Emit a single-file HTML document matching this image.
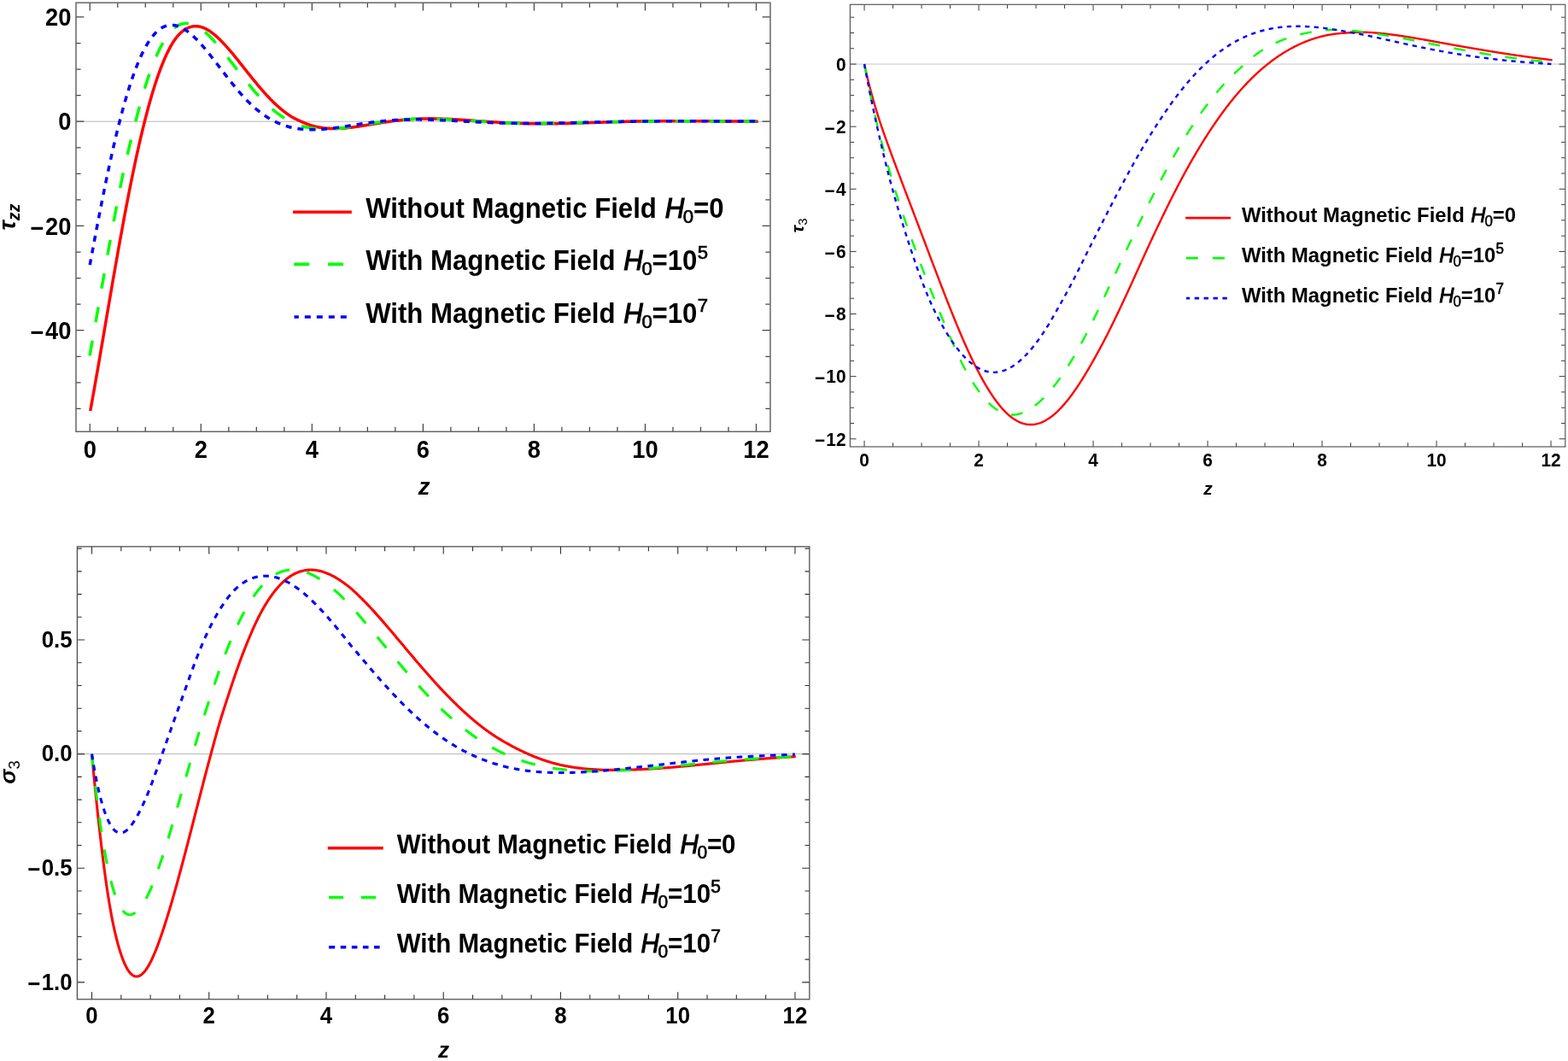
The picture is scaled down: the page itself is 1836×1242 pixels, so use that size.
<!DOCTYPE html>
<html lang="en">
<head>
<meta charset="utf-8">
<title>Stress distributions with and without magnetic field</title>
<style>
html,body{margin:0;padding:0;background:#fff;}
body{width:1836px;height:1242px;overflow:hidden;}
svg{display:block;font-family:'Liberation Sans', Arial, Helvetica, sans-serif;}
</style>
</head>
<body>
<svg xmlns="http://www.w3.org/2000/svg" width="1836" height="1242" viewBox="0 0 1836 1242">
<rect width="1836" height="1242" fill="#fff"/>
<g>
<line x1="89" y1="142.2" x2="901.96" y2="142.2" stroke="#b4b4b4" stroke-width="1"/>
<g fill="none" stroke-width="3.5" stroke-linejoin="round">
<path d="M105.75,480.97 L105.92,479.99 L106.1,479.01 L106.28,478.02 L106.46,477.04 L106.64,476.06 L106.82,475.07 L107,474.09 L107.17,473.1 L107.35,472.12 L107.53,471.13 L107.7,470.15 L107.88,469.17 L108.06,468.18 L108.23,467.2 L108.41,466.21 L108.59,465.23 L108.76,464.24 L108.94,463.26 L109.11,462.27 L109.29,461.29 L109.47,460.31 L109.64,459.32 L109.81,458.34 L109.99,457.35 L110.16,456.37 L110.34,455.38 L110.51,454.4 L110.69,453.41 L110.86,452.43 L111.03,451.44 L111.21,450.46 L111.38,449.47 L111.55,448.49 L111.73,447.5 L111.9,446.52 L112.07,445.54 L112.25,444.55 L112.42,443.56 L112.59,442.58 L112.76,441.59 L112.93,440.61 L113.11,439.62 L113.28,438.64 L113.45,437.65 L113.62,436.67 L113.79,435.68 L113.97,434.7 L114.14,433.71 L114.31,432.73 L114.48,431.74 L114.65,430.76 L114.82,429.77 L114.99,428.79 L115.16,427.8 L115.33,426.82 L115.5,425.83 L115.67,424.85 L115.84,423.86 L116.01,422.88 L116.18,421.89 L116.36,420.9 L116.53,419.92 L116.69,418.93 L116.86,417.95 L117.03,416.96 L117.2,415.98 L117.37,414.99 L117.54,414.01 L117.71,413.02 L117.88,412.04 L118.05,411.05 L118.22,410.06 L118.39,409.08 L118.56,408.09 L118.73,407.11 L118.9,406.12 L119.07,405.14 L119.24,404.15 L119.41,403.16 L119.57,402.18 L119.74,401.19 L119.91,400.21 L120.08,399.22 L120.25,398.24 L120.42,397.25 L120.59,396.26 L120.76,395.28 L120.92,394.29 L121.09,393.31 L121.26,392.32 L121.43,391.34 L121.6,390.35 L121.77,389.37 L121.94,388.38 L122.11,387.39 L122.27,386.41 L122.44,385.42 L122.61,384.44 L122.78,383.45 L122.95,382.46 L123.12,381.48 L123.28,380.49 L123.45,379.51 L123.62,378.52 L123.79,377.54 L123.96,376.55 L124.13,375.56 L124.3,374.58 L124.46,373.59 L124.63,372.61 L124.8,371.62 L124.97,370.64 L125.14,369.65 L125.31,368.67 L125.48,367.68 L125.64,366.69 L125.81,365.71 L125.98,364.72 L126.15,363.74 L126.32,362.75 L126.49,361.77 L126.66,360.78 L126.83,359.8 L127,358.81 L127.16,357.82 L127.33,356.84 L127.5,355.85 L127.67,354.87 L127.84,353.88 L128.01,352.9 L128.18,351.91 L128.35,350.92 L128.52,349.94 L128.69,348.95 L128.86,347.97 L129.03,346.98 L129.2,346 L129.37,345.01 L129.53,344.03 L129.71,343.04 L129.88,342.06 L130.04,341.07 L130.21,340.08 L130.38,339.1 L130.56,338.11 L130.72,337.13 L130.9,336.14 L131.06,335.16 L131.24,334.17 L131.41,333.19 L131.58,332.2 L131.75,331.21 L131.92,330.23 L132.09,329.25 L132.26,328.26 L132.43,327.27 L132.6,326.29 L132.77,325.3 L132.94,324.32 L133.12,323.33 L133.29,322.35 L133.46,321.36 L133.63,320.38 L133.8,319.39 L133.98,318.41 L134.15,317.42 L134.32,316.44 L134.49,315.45 L134.67,314.47 L134.84,313.48 L135.01,312.5 L135.18,311.51 L135.36,310.53 L135.53,309.54 L135.7,308.56 L135.88,307.57 L136.05,306.59 L136.22,305.6 L136.4,304.62 L136.57,303.63 L136.75,302.65 L136.92,301.67 L137.09,300.68 L137.27,299.69 L137.44,298.71 L137.62,297.73 L137.79,296.74 L137.97,295.76 L138.14,294.77 L138.32,293.79 L138.5,292.8 L138.67,291.82 L138.85,290.83 L139.02,289.85 L139.2,288.87 L139.38,287.88 L139.55,286.9 L139.73,285.91 L139.91,284.93 L140.08,283.94 L140.26,282.96 L140.44,281.98 L140.62,280.99 L140.79,280.01 L140.97,279.02 L141.15,278.04 L141.33,277.06 L141.51,276.07 L141.69,275.09 L141.87,274.11 L142.05,273.12 L142.23,272.14 L142.41,271.15 L142.59,270.17 L142.77,269.19 L142.95,268.2 L143.13,267.22 L143.31,266.24 L143.49,265.25 L143.67,264.27 L143.85,263.29 L144.03,262.3 L144.22,261.32 L144.4,260.34 L144.58,259.35 L144.76,258.37 L144.95,257.39 L145.13,256.4 L145.31,255.42 L145.5,254.44 L145.68,253.46 L145.87,252.47 L146.05,251.49 L146.24,250.51 L146.42,249.52 L146.61,248.54 L146.79,247.56 L146.98,246.58 L147.17,245.59 L147.35,244.61 L147.54,243.63 L147.73,242.65 L147.91,241.66 L148.1,240.68 L148.29,239.7 L148.48,238.72 L148.67,237.74 L148.86,236.75 L149.05,235.77 L149.24,234.79 L149.43,233.81 L149.62,232.83 L149.81,231.84 L150,230.86 L150.19,229.88 L150.38,228.9 L150.57,227.92 L150.77,226.94 L150.96,225.96 L151.15,224.97 L151.35,223.99 L151.54,223.01 L151.73,222.03 L151.93,221.05 L152.12,220.07 L152.32,219.09 L152.51,218.11 L152.71,217.13 L152.91,216.15 L153.1,215.17 L153.3,214.19 L153.5,213.21 L153.7,212.23 L153.9,211.25 L154.1,210.27 L154.29,209.29 L154.5,208.31 L154.69,207.33 L154.9,206.35 L155.1,205.37 L155.3,204.39 L155.5,203.41 L155.7,202.43 L155.91,201.45 L156.11,200.47 L156.31,199.49 L156.52,198.51 L156.72,197.53 L156.93,196.56 L157.13,195.58 L157.34,194.6 L157.55,193.62 L157.75,192.64 L157.96,191.66 L158.17,190.69 L158.38,189.71 L158.59,188.73 L158.8,187.75 L159.01,186.78 L159.22,185.8 L159.43,184.82 L159.65,183.84 L159.86,182.87 L160.07,181.89 L160.29,180.91 L160.5,179.94 L160.72,178.96 L160.93,177.98 L161.15,177.01 L161.36,176.03 L161.58,175.05 L161.8,174.08 L162.02,173.1 L162.24,172.13 L162.46,171.15 L162.68,170.18 L162.9,169.2 L163.12,168.23 L163.35,167.25 L163.57,166.28 L163.79,165.3 L164.02,164.33 L164.24,163.35 L164.47,162.38 L164.7,161.41 L164.93,160.43 L165.15,159.46 L165.38,158.49 L165.61,157.51 L165.84,156.54 L166.08,155.57 L166.31,154.59 L166.54,153.62 L166.78,152.65 L167.01,151.68 L167.25,150.71 L167.48,149.73 L167.72,148.76 L167.96,147.79 L168.2,146.82 L168.44,145.85 L168.68,144.88 L168.92,143.91 L169.17,142.94 L169.41,141.97 L169.66,141 L169.9,140.03 L170.15,139.06 L170.4,138.09 L170.65,137.12 L170.9,136.16 L171.15,135.19 L171.4,134.22 L171.65,133.25 L171.91,132.29 L172.16,131.32 L172.42,130.35 L172.68,129.39 L172.94,128.42 L173.19,127.45 L173.46,126.49 L173.72,125.52 L173.98,124.56 L174.25,123.59 L174.51,122.63 L174.78,121.67 L175.05,120.7 L175.32,119.74 L175.59,118.78 L175.87,117.82 L176.14,116.86 L176.41,115.89 L176.69,114.93 L176.97,113.97 L177.25,113.01 L177.53,112.05 L177.82,111.09 L178.1,110.14 L178.39,109.18 L178.68,108.22 L178.96,107.26 L179.26,106.31 L179.55,105.35 L179.84,104.39 L180.14,103.44 L180.44,102.49 L180.74,101.53 L181.04,100.58 L181.35,99.63 L181.65,98.67 L181.96,97.72 L182.27,96.77 L182.58,95.82 L182.9,94.87 L183.21,93.92 L183.53,92.98 L183.85,92.03 L184.18,91.08 L184.5,90.14 L184.83,89.19 L185.16,88.25 L185.49,87.31 L185.83,86.36 L186.17,85.42 L186.51,84.48 L186.85,83.54 L187.2,82.61 L187.55,81.67 L187.9,80.73 L188.25,79.8 L188.61,78.86 L188.97,77.93 L189.34,77 L189.71,76.07 L190.08,75.14 L190.45,74.22 L190.83,73.29 L191.21,72.36 L191.6,71.44 L191.99,70.52 L192.38,69.6 L192.78,68.69 L193.18,67.77 L193.59,66.86 L194,65.94 L194.41,65.03 L194.83,64.13 L195.26,63.22 L195.69,62.32 L196.12,61.42 L196.56,60.52 L197.01,59.62 L197.46,58.73 L197.92,57.84 L198.38,56.96 L198.85,56.08 L199.33,55.2 L199.81,54.32 L200.3,53.45 L200.8,52.58 L201.31,51.72 L201.82,50.86 L202.34,50.01 L202.88,49.16 L203.43,48.33 L203.99,47.5 L204.56,46.68 L205.14,45.86 L205.73,45.06 L206.34,44.27 L206.96,43.48 L207.6,42.71 L208.24,41.95 L208.91,41.2 L209.59,40.47 L210.28,39.74 L210.99,39.04 L211.72,38.35 L212.46,37.68 L213.22,37.03 L213.99,36.4 L214.79,35.8 L215.6,35.21 L216.43,34.65 L217.28,34.12 L218.15,33.63 L219.03,33.16 L219.93,32.73 L220.85,32.33 L221.78,31.97 L222.73,31.65 L223.69,31.38 L224.66,31.15 L225.65,30.96 L226.64,30.82 L227.63,30.72 L228.63,30.67 L229.63,30.66 L230.63,30.7 L231.63,30.8 L232.62,30.93 L233.6,31.11 L234.58,31.33 L235.54,31.59 L236.5,31.89 L237.44,32.22 L238.37,32.58 L239.29,32.97 L240.2,33.39 L241.1,33.83 L241.98,34.3 L242.85,34.79 L243.72,35.3 L244.57,35.82 L245.41,36.37 L246.23,36.92 L247.05,37.5 L247.86,38.09 L248.66,38.69 L249.45,39.3 L250.24,39.92 L251.01,40.55 L251.78,41.2 L252.53,41.85 L253.29,42.51 L254.03,43.17 L254.77,43.84 L255.51,44.52 L256.23,45.21 L256.95,45.91 L257.67,46.6 L258.38,47.31 L259.09,48.02 L259.79,48.73 L260.48,49.45 L261.17,50.17 L261.86,50.9 L262.54,51.63 L263.22,52.36 L263.9,53.1 L264.57,53.84 L265.24,54.59 L265.9,55.33 L266.56,56.08 L267.22,56.84 L267.88,57.59 L268.53,58.35 L269.18,59.11 L269.83,59.87 L270.48,60.63 L271.12,61.4 L271.76,62.16 L272.4,62.93 L273.04,63.7 L273.67,64.47 L274.31,65.25 L274.94,66.02 L275.57,66.8 L276.2,67.58 L276.83,68.35 L277.45,69.13 L278.08,69.91 L278.7,70.69 L279.33,71.47 L279.95,72.26 L280.58,73.04 L281.2,73.82 L281.82,74.6 L282.44,75.39 L283.06,76.17 L283.69,76.95 L284.31,77.74 L284.93,78.52 L285.55,79.31 L286.17,80.09 L286.79,80.88 L287.41,81.66 L288.03,82.44 L288.65,83.23 L289.27,84.01 L289.89,84.79 L290.52,85.58 L291.14,86.36 L291.77,87.14 L292.39,87.92 L293.01,88.7 L293.64,89.48 L294.26,90.26 L294.89,91.04 L295.52,91.82 L296.15,92.59 L296.78,93.37 L297.41,94.15 L298.04,94.92 L298.68,95.7 L299.31,96.47 L299.95,97.24 L300.58,98.01 L301.22,98.78 L301.86,99.55 L302.5,100.32 L303.15,101.08 L303.79,101.84 L304.44,102.61 L305.09,103.37 L305.74,104.13 L306.4,104.88 L307.05,105.64 L307.71,106.39 L308.37,107.14 L309.03,107.89 L309.7,108.64 L310.37,109.38 L311.04,110.12 L311.71,110.86 L312.39,111.6 L313.06,112.33 L313.75,113.06 L314.43,113.79 L315.12,114.52 L315.81,115.24 L316.51,115.96 L317.21,116.67 L317.91,117.39 L318.62,118.09 L319.32,118.8 L320.04,119.5 L320.75,120.2 L321.48,120.89 L322.2,121.58 L322.93,122.26 L323.67,122.94 L324.4,123.61 L325.15,124.28 L325.89,124.95 L326.65,125.61 L327.4,126.26 L328.17,126.91 L328.93,127.55 L329.7,128.19 L330.48,128.82 L331.26,129.44 L332.05,130.06 L332.84,130.68 L333.63,131.28 L334.43,131.88 L335.24,132.47 L336.05,133.06 L336.87,133.63 L337.69,134.2 L338.52,134.76 L339.35,135.32 L340.19,135.86 L341.04,136.39 L341.89,136.91 L342.76,137.41 L343.63,137.9 L344.51,138.38 L345.39,138.85 L346.28,139.3 L347.18,139.75 L348.07,140.19 L348.98,140.62 L349.88,141.04 L350.79,141.45 L351.71,141.86 L352.62,142.27 L353.54,142.67 L354.45,143.07 L355.37,143.47 L356.29,143.86 L357.21,144.24 L358.14,144.61 L359.08,144.97 L360.01,145.32 L360.96,145.66 L361.9,145.98 L362.85,146.29 L363.8,146.6 L364.76,146.89 L365.72,147.17 L366.68,147.44 L367.65,147.69 L368.62,147.94 L369.59,148.17 L370.57,148.39 L371.55,148.6 L372.53,148.8 L373.51,148.98 L374.49,149.16 L375.48,149.32 L376.47,149.47 L377.46,149.62 L378.45,149.75 L379.44,149.87 L380.44,149.97 L381.43,150.07 L382.43,150.16 L383.43,150.24 L384.42,150.31 L385.42,150.36 L386.42,150.41 L387.42,150.45 L388.42,150.48 L389.42,150.5 L390.42,150.51 L391.42,150.52 L392.42,150.51 L393.42,150.5 L394.42,150.48 L395.42,150.45 L396.42,150.42 L397.42,150.37 L398.42,150.32 L399.41,150.27 L400.41,150.2 L401.41,150.13 L402.41,150.06 L403.4,149.98 L404.4,149.89 L405.39,149.8 L406.39,149.7 L407.38,149.6 L408.38,149.49 L409.37,149.38 L410.37,149.26 L411.36,149.14 L412.35,149.02 L413.34,148.89 L414.33,148.76 L415.32,148.63 L416.32,148.49 L417.31,148.35 L418.3,148.21 L419.29,148.06 L420.27,147.91 L421.26,147.76 L422.25,147.61 L423.24,147.46 L424.23,147.3 L425.21,147.14 L426.2,146.99 L427.19,146.82 L428.18,146.66 L429.16,146.5 L430.15,146.34 L431.14,146.18 L432.12,146.01 L433.11,145.85 L434.1,145.69 L435.08,145.52 L436.07,145.36 L437.06,145.2 L438.04,145.03 L439.03,144.87 L440.01,144.71 L441,144.54 L441.99,144.38 L442.98,144.22 L443.96,144.06 L444.95,143.91 L445.94,143.75 L446.93,143.6 L447.92,143.44 L448.9,143.29 L449.89,143.14 L450.88,142.99 L451.87,142.84 L452.86,142.7 L453.85,142.55 L454.84,142.41 L455.83,142.27 L456.82,142.14 L457.81,142 L458.8,141.87 L459.79,141.74 L460.79,141.61 L461.78,141.49 L462.77,141.36 L463.76,141.24 L464.75,141.13 L465.75,141.01 L466.74,140.9 L467.74,140.79 L468.73,140.69 L469.73,140.58 L470.72,140.48 L471.71,140.38 L472.71,140.29 L473.71,140.2 L474.7,140.11 L475.7,140.02 L476.7,139.94 L477.69,139.86 L478.69,139.78 L479.69,139.71 L480.68,139.64 L481.68,139.57 L482.68,139.51 L483.68,139.45 L484.68,139.39 L485.68,139.34 L486.67,139.28 L487.67,139.24 L488.67,139.19 L489.67,139.15 L490.67,139.11 L491.67,139.07 L492.67,139.04 L493.67,139.01 L494.67,138.98 L495.67,138.96 L496.67,138.93 L497.67,138.91 L498.67,138.9 L499.67,138.89 L500.67,138.88 L501.67,138.87 L502.67,138.86 L503.67,138.86 L504.67,138.86 L505.67,138.87 L506.67,138.87 L507.67,138.88 L508.67,138.89 L509.67,138.91 L510.67,138.92 L511.67,138.94 L512.67,138.96 L513.67,138.98 L514.66,139.01 L515.66,139.04 L516.66,139.07 L517.66,139.1 L518.66,139.13 L519.66,139.17 L520.66,139.2 L521.66,139.24 L522.66,139.29 L523.66,139.33 L524.66,139.37 L525.66,139.42 L526.66,139.47 L527.65,139.52 L528.65,139.57 L529.65,139.62 L530.65,139.68 L531.65,139.73 L532.65,139.79 L533.65,139.85 L534.64,139.9 L535.64,139.96 L536.64,140.03 L537.64,140.09 L538.64,140.15 L539.63,140.22 L540.63,140.28 L541.63,140.35 L542.63,140.41 L543.63,140.48 L544.62,140.55 L545.62,140.62 L546.62,140.69 L547.62,140.76 L548.61,140.83 L549.61,140.9 L550.61,140.97 L551.61,141.04 L552.6,141.11 L553.6,141.18 L554.6,141.25 L555.6,141.33 L556.59,141.4 L557.59,141.47 L558.59,141.54 L559.59,141.62 L560.58,141.69 L561.58,141.76 L562.58,141.83 L563.58,141.9 L564.57,141.97 L565.57,142.04 L566.57,142.11 L567.57,142.18 L568.56,142.25 L569.56,142.32 L570.56,142.39 L571.56,142.46 L572.55,142.53 L573.55,142.59 L574.55,142.66 L575.55,142.73 L576.54,142.79 L577.54,142.86 L578.54,142.92 L579.54,142.98 L580.54,143.04 L581.53,143.11 L582.53,143.17 L583.53,143.23 L584.53,143.28 L585.53,143.34 L586.53,143.4 L587.52,143.46 L588.52,143.51 L589.52,143.56 L590.52,143.62 L591.52,143.67 L592.52,143.72 L593.52,143.77 L594.51,143.82 L595.51,143.87 L596.51,143.91 L597.51,143.96 L598.51,144 L599.51,144.04 L600.51,144.09 L601.51,144.12 L602.51,144.16 L603.51,144.2 L604.51,144.24 L605.51,144.28 L606.5,144.31 L607.5,144.34 L608.5,144.38 L609.5,144.41 L610.5,144.44 L611.5,144.46 L612.5,144.49 L613.5,144.52 L614.5,144.54 L615.5,144.57 L616.5,144.59 L617.5,144.61 L618.5,144.63 L619.5,144.65 L620.5,144.66 L621.5,144.68 L622.5,144.7 L623.5,144.71 L624.5,144.72 L625.5,144.74 L626.5,144.75 L627.5,144.75 L628.5,144.76 L629.5,144.77 L630.5,144.78 L631.5,144.78 L632.5,144.78 L633.5,144.79 L634.5,144.79 L635.5,144.79 L636.5,144.79 L637.5,144.78 L638.5,144.78 L639.5,144.78 L640.5,144.77 L641.5,144.77 L642.5,144.76 L643.5,144.75 L644.5,144.75 L645.5,144.74 L646.5,144.72 L647.5,144.71 L648.5,144.7 L649.5,144.69 L650.5,144.67 L651.5,144.66 L652.5,144.64 L653.5,144.63 L654.5,144.61 L655.5,144.59 L656.5,144.57 L657.5,144.55 L658.5,144.53 L659.5,144.51 L660.5,144.49 L661.5,144.47 L662.5,144.45 L663.5,144.42 L664.5,144.4 L665.5,144.38 L666.5,144.35 L667.5,144.32 L668.5,144.3 L669.5,144.27 L670.49,144.25 L671.49,144.22 L672.49,144.19 L673.49,144.16 L674.49,144.13 L675.49,144.1 L676.49,144.07 L677.49,144.04 L678.49,144.01 L679.49,143.98 L680.49,143.95 L681.49,143.92 L682.49,143.89 L683.49,143.86 L684.49,143.83 L685.49,143.8 L686.49,143.76 L687.49,143.73 L688.49,143.7 L689.49,143.67 L690.49,143.63 L691.49,143.6 L692.48,143.57 L693.48,143.54 L694.48,143.5 L695.48,143.47 L696.48,143.44 L697.48,143.41 L698.48,143.37 L699.48,143.34 L700.48,143.31 L701.48,143.28 L702.48,143.24 L703.48,143.21 L704.48,143.18 L705.48,143.15 L706.48,143.11 L707.48,143.08 L708.48,143.05 L709.48,143.02 L710.48,142.99 L711.47,142.96 L712.47,142.93 L713.47,142.9 L714.47,142.86 L715.47,142.83 L716.47,142.8 L717.47,142.77 L718.47,142.75 L719.47,142.72 L720.47,142.69 L721.47,142.66 L722.47,142.63 L723.47,142.6 L724.47,142.57 L725.47,142.55 L726.47,142.52 L727.47,142.49 L728.47,142.47 L729.47,142.44 L730.47,142.41 L731.47,142.39 L732.47,142.36 L733.47,142.34 L734.47,142.31 L735.47,142.29 L736.47,142.27 L737.46,142.25 L738.46,142.22 L739.46,142.2 L740.46,142.18 L741.46,142.16 L742.46,142.14 L743.46,142.12 L744.46,142.1 L745.46,142.08 L746.46,142.06 L747.46,142.04 L748.46,142.02 L749.46,142 L750.46,141.99 L751.46,141.97 L752.46,141.95 L753.46,141.94 L754.46,141.92 L755.46,141.91 L756.46,141.89 L757.46,141.88 L758.46,141.86 L759.46,141.85 L760.46,141.84 L761.46,141.82 L762.46,141.81 L763.46,141.8 L764.46,141.79 L765.46,141.78 L766.46,141.77 L767.46,141.75 L768.46,141.75 L769.46,141.74 L770.46,141.73 L771.46,141.72 L772.46,141.71 L773.46,141.7 L774.46,141.7 L775.46,141.69 L776.46,141.68 L777.46,141.68 L778.46,141.67 L779.46,141.67 L780.46,141.66 L781.46,141.66 L782.46,141.65 L783.46,141.65 L784.46,141.64 L785.46,141.64 L786.46,141.64 L787.46,141.64 L788.46,141.63 L789.46,141.63 L790.46,141.63 L791.46,141.63 L792.46,141.63 L793.46,141.63 L794.46,141.63 L795.46,141.63 L796.46,141.63 L797.46,141.63 L798.46,141.63 L799.46,141.63 L800.46,141.63 L801.46,141.63 L802.46,141.64 L803.46,141.64 L804.46,141.64 L805.46,141.64 L806.46,141.65 L807.46,141.65 L808.46,141.65 L809.46,141.66 L810.46,141.66 L811.46,141.66 L812.46,141.67 L813.46,141.67 L814.46,141.68 L815.46,141.68 L816.46,141.69 L817.46,141.69 L818.46,141.7 L819.46,141.7 L820.46,141.71 L821.46,141.71 L822.46,141.72 L823.46,141.72 L824.46,141.73 L825.46,141.74 L826.46,141.74 L827.46,141.75 L828.46,141.76 L829.46,141.76 L830.46,141.77 L831.46,141.78 L832.46,141.78 L833.46,141.79 L834.46,141.8 L835.46,141.8 L836.46,141.81 L837.46,141.82 L838.46,141.82 L839.46,141.83 L840.46,141.84 L841.46,141.85 L842.46,141.85 L843.46,141.86 L844.46,141.87 L845.46,141.88 L846.46,141.88 L847.46,141.89 L848.46,141.9 L849.46,141.91 L850.46,141.91 L851.46,141.92 L852.46,141.93 L853.46,141.94 L854.46,141.94 L855.46,141.95 L856.46,141.96 L857.46,141.97 L858.46,141.97 L859.46,141.98 L860.46,141.99 L861.46,141.99 L862.46,142 L863.46,142.01 L864.46,142.01 L865.46,142.02 L866.46,142.03 L867.46,142.04 L868.46,142.04 L869.46,142.05 L870.46,142.06 L871.46,142.06 L872.46,142.07 L873.46,142.07 L874.46,142.08 L875.46,142.09 L876.46,142.09 L877.46,142.1 L878.46,142.11 L879.46,142.11 L880.46,142.12 L881.46,142.12 L882.46,142.13 L883.46,142.13 L884.46,142.14 L885.46,142.15 L886.46,142.15 L887.46,142.16 L887.59,142.16" stroke="#ff0000"/>
<path d="M104.99,416.43 L105.17,415.44 L105.35,414.46 L105.53,413.48 L105.71,412.49 L105.88,411.51 L106.06,410.52 L106.24,409.54 L106.42,408.55 L106.59,407.57 L106.77,406.59 L106.95,405.6 L107.12,404.62 L107.3,403.63 L107.48,402.65 L107.65,401.67 L107.83,400.68 L108.01,399.7 L108.18,398.71 L108.36,397.73 L108.53,396.74 L108.71,395.76 L108.89,394.77 L109.06,393.79 L109.24,392.81 L109.41,391.82 L109.59,390.84 L109.76,389.85 L109.94,388.87 L110.11,387.88 L110.29,386.9 L110.46,385.91 L110.64,384.93 L110.81,383.94 L110.99,382.96 L111.16,381.98 L111.33,380.99 L111.51,380 L111.68,379.02 L111.86,378.04 L112.03,377.05 L112.21,376.07 L112.38,375.08 L112.56,374.1 L112.73,373.11 L112.9,372.13 L113.08,371.14 L113.25,370.16 L113.42,369.17 L113.6,368.19 L113.77,367.2 L113.95,366.22 L114.12,365.23 L114.29,364.25 L114.47,363.26 L114.64,362.28 L114.81,361.3 L114.99,360.31 L115.16,359.32 L115.34,358.34 L115.51,357.36 L115.68,356.37 L115.86,355.39 L116.03,354.4 L116.2,353.42 L116.38,352.43 L116.55,351.45 L116.72,350.46 L116.9,349.48 L117.07,348.49 L117.25,347.51 L117.42,346.52 L117.59,345.54 L117.77,344.55 L117.94,343.57 L118.11,342.58 L118.29,341.6 L118.46,340.61 L118.64,339.63 L118.81,338.64 L118.98,337.66 L119.16,336.68 L119.33,335.69 L119.5,334.7 L119.68,333.72 L119.85,332.74 L120.03,331.75 L120.2,330.77 L120.38,329.78 L120.55,328.8 L120.72,327.81 L120.9,326.83 L121.07,325.84 L121.25,324.86 L121.42,323.87 L121.6,322.89 L121.77,321.9 L121.95,320.92 L122.12,319.94 L122.3,318.95 L122.47,317.97 L122.65,316.98 L122.82,316 L123,315.01 L123.17,314.03 L123.35,313.04 L123.52,312.06 L123.7,311.07 L123.87,310.09 L124.05,309.11 L124.22,308.12 L124.4,307.14 L124.58,306.15 L124.75,305.17 L124.93,304.18 L125.11,303.2 L125.28,302.21 L125.46,301.23 L125.64,300.25 L125.81,299.26 L125.99,298.28 L126.17,297.29 L126.34,296.31 L126.52,295.33 L126.7,294.34 L126.88,293.36 L127.06,292.37 L127.23,291.39 L127.41,290.4 L127.59,289.42 L127.77,288.44 L127.94,287.45 L128.12,286.47 L128.3,285.49 L128.48,284.5 L128.66,283.52 L128.84,282.53 L129.02,281.55 L129.2,280.57 L129.38,279.58 L129.56,278.6 L129.74,277.62 L129.92,276.63 L130.1,275.65 L130.28,274.67 L130.46,273.68 L130.64,272.7 L130.82,271.71 L131,270.73 L131.19,269.75 L131.37,268.76 L131.55,267.78 L131.73,266.8 L131.91,265.81 L132.1,264.83 L132.28,263.85 L132.46,262.87 L132.65,261.88 L132.83,260.9 L133.01,259.92 L133.19,258.93 L133.38,257.95 L133.56,256.97 L133.75,255.98 L133.93,255 L134.12,254.02 L134.3,253.04 L134.49,252.05 L134.67,251.07 L134.86,250.09 L135.05,249.1 L135.23,248.12 L135.42,247.14 L135.61,246.16 L135.79,245.18 L135.98,244.19 L136.17,243.21 L136.36,242.23 L136.54,241.25 L136.73,240.26 L136.92,239.28 L137.11,238.3 L137.3,237.32 L137.49,236.34 L137.68,235.35 L137.87,234.37 L138.06,233.39 L138.25,232.41 L138.44,231.43 L138.63,230.45 L138.83,229.47 L139.02,228.48 L139.21,227.5 L139.4,226.52 L139.6,225.54 L139.79,224.56 L139.98,223.58 L140.18,222.6 L140.37,221.62 L140.57,220.64 L140.76,219.66 L140.96,218.67 L141.15,217.69 L141.35,216.71 L141.55,215.73 L141.74,214.75 L141.94,213.77 L142.14,212.79 L142.34,211.81 L142.54,210.83 L142.75,209.85 L142.95,208.88 L143.16,207.9 L143.36,206.92 L143.57,205.94 L143.78,204.96 L143.99,203.98 L144.2,203.01 L144.41,202.03 L144.62,201.05 L144.84,200.07 L145.05,199.1 L145.27,198.12 L145.49,197.15 L145.7,196.17 L145.92,195.19 L146.14,194.22 L146.36,193.24 L146.58,192.27 L146.8,191.29 L147.03,190.32 L147.25,189.34 L147.47,188.37 L147.7,187.39 L147.92,186.42 L148.15,185.44 L148.38,184.47 L148.6,183.5 L148.83,182.52 L149.06,181.55 L149.29,180.58 L149.52,179.6 L149.75,178.63 L149.98,177.66 L150.22,176.69 L150.45,175.71 L150.68,174.74 L150.92,173.77 L151.15,172.8 L151.39,171.82 L151.62,170.85 L151.86,169.88 L152.1,168.91 L152.34,167.94 L152.57,166.97 L152.81,166 L153.05,165.03 L153.29,164.05 L153.53,163.08 L153.77,162.11 L154.01,161.14 L154.25,160.17 L154.49,159.2 L154.74,158.23 L154.98,157.26 L155.22,156.29 L155.46,155.32 L155.71,154.35 L155.95,153.38 L156.2,152.41 L156.44,151.44 L156.69,150.47 L156.93,149.5 L157.18,148.53 L157.42,147.56 L157.67,146.59 L157.91,145.63 L158.16,144.66 L158.41,143.69 L158.66,142.72 L158.9,141.75 L159.15,140.78 L159.4,139.81 L159.65,138.84 L159.9,137.88 L160.14,136.91 L160.39,135.94 L160.64,134.97 L160.89,134 L161.14,133.03 L161.39,132.06 L161.65,131.1 L161.9,130.13 L162.16,129.16 L162.41,128.2 L162.67,127.23 L162.93,126.26 L163.19,125.3 L163.45,124.33 L163.71,123.37 L163.97,122.4 L164.24,121.44 L164.5,120.47 L164.77,119.51 L165.04,118.55 L165.31,117.58 L165.58,116.62 L165.85,115.66 L166.12,114.7 L166.4,113.74 L166.68,112.78 L166.95,111.81 L167.23,110.86 L167.51,109.89 L167.8,108.94 L168.08,107.98 L168.37,107.02 L168.65,106.06 L168.94,105.1 L169.23,104.15 L169.53,103.19 L169.82,102.23 L170.12,101.28 L170.41,100.33 L170.71,99.37 L171.01,98.42 L171.32,97.46 L171.62,96.51 L171.93,95.56 L172.24,94.61 L172.55,93.66 L172.86,92.71 L173.18,91.76 L173.5,90.81 L173.82,89.86 L174.14,88.92 L174.46,87.97 L174.79,87.03 L175.12,86.08 L175.45,85.14 L175.79,84.2 L176.12,83.26 L176.47,82.32 L176.81,81.38 L177.15,80.44 L177.5,79.5 L177.85,78.56 L178.21,77.63 L178.56,76.69 L178.92,75.76 L179.29,74.83 L179.66,73.9 L180.03,72.97 L180.4,72.04 L180.78,71.12 L181.16,70.19 L181.54,69.27 L181.93,68.35 L182.32,67.43 L182.72,66.51 L183.12,65.6 L183.53,64.68 L183.94,63.77 L184.35,62.86 L184.77,61.95 L185.2,61.05 L185.63,60.14 L186.06,59.24 L186.5,58.34 L186.94,57.45 L187.38,56.55 L187.83,55.66 L188.28,54.76 L188.74,53.87 L189.2,52.99 L189.67,52.1 L190.14,51.22 L190.62,50.34 L191.11,49.47 L191.6,48.6 L192.1,47.74 L192.62,46.88 L193.13,46.02 L193.66,45.17 L194.2,44.33 L194.75,43.5 L195.31,42.67 L195.89,41.85 L196.47,41.04 L197.07,40.24 L197.69,39.45 L198.31,38.67 L198.95,37.9 L199.61,37.15 L200.29,36.41 L200.98,35.69 L201.68,34.98 L202.41,34.29 L203.15,33.62 L203.91,32.97 L204.69,32.34 L205.48,31.74 L206.3,31.16 L207.14,30.62 L208,30.11 L208.88,29.63 L209.78,29.2 L210.7,28.8 L211.63,28.45 L212.58,28.14 L213.55,27.88 L214.53,27.67 L215.51,27.51 L216.51,27.41 L217.51,27.35 L218.51,27.35 L219.5,27.39 L220.5,27.48 L221.49,27.62 L222.47,27.8 L223.45,28.02 L224.41,28.29 L225.37,28.59 L226.31,28.92 L227.24,29.28 L228.16,29.68 L229.06,30.1 L229.96,30.55 L230.84,31.02 L231.71,31.52 L232.57,32.03 L233.41,32.56 L234.25,33.11 L235.07,33.68 L235.89,34.26 L236.69,34.86 L237.48,35.46 L238.27,36.08 L239.04,36.71 L239.81,37.35 L240.57,38.01 L241.32,38.67 L242.07,39.33 L242.8,40.01 L243.53,40.69 L244.26,41.38 L244.97,42.08 L245.68,42.78 L246.39,43.49 L247.09,44.21 L247.78,44.93 L248.47,45.65 L249.16,46.38 L249.84,47.11 L250.51,47.85 L251.19,48.59 L251.85,49.34 L252.52,50.08 L253.18,50.84 L253.83,51.59 L254.49,52.35 L255.14,53.11 L255.78,53.87 L256.43,54.63 L257.07,55.4 L257.71,56.17 L258.35,56.94 L258.98,57.71 L259.61,58.49 L260.24,59.27 L260.87,60.04 L261.5,60.82 L262.12,61.6 L262.74,62.39 L263.37,63.17 L263.99,63.95 L264.61,64.74 L265.22,65.53 L265.84,66.31 L266.45,67.1 L267.07,67.89 L267.68,68.68 L268.29,69.47 L268.9,70.26 L269.52,71.05 L270.13,71.85 L270.74,72.64 L271.35,73.43 L271.96,74.22 L272.57,75.02 L273.18,75.81 L273.78,76.6 L274.39,77.4 L275,78.19 L275.61,78.98 L276.22,79.78 L276.83,80.57 L277.44,81.36 L278.05,82.15 L278.66,82.95 L279.27,83.74 L279.88,84.53 L280.49,85.32 L281.11,86.11 L281.72,86.9 L282.33,87.69 L282.95,88.48 L283.57,89.26 L284.19,90.05 L284.8,90.83 L285.42,91.62 L286.04,92.4 L286.67,93.19 L287.29,93.97 L287.92,94.75 L288.54,95.53 L289.17,96.31 L289.8,97.08 L290.43,97.86 L291.06,98.63 L291.7,99.41 L292.34,100.17 L292.98,100.94 L293.62,101.71 L294.26,102.48 L294.9,103.24 L295.55,104 L296.2,104.77 L296.85,105.52 L297.51,106.28 L298.16,107.03 L298.82,107.79 L299.48,108.54 L300.15,109.28 L300.81,110.03 L301.49,110.77 L302.16,111.51 L302.83,112.25 L303.51,112.98 L304.19,113.71 L304.88,114.44 L305.57,115.17 L306.26,115.89 L306.95,116.61 L307.65,117.33 L308.36,118.04 L309.06,118.75 L309.77,119.45 L310.48,120.15 L311.2,120.85 L311.92,121.54 L312.64,122.23 L313.37,122.92 L314.11,123.6 L314.84,124.27 L315.58,124.94 L316.33,125.61 L317.08,126.27 L317.83,126.93 L318.59,127.58 L319.36,128.22 L320.13,128.87 L320.9,129.5 L321.68,130.13 L322.46,130.75 L323.25,131.37 L324.04,131.98 L324.84,132.58 L325.64,133.18 L326.44,133.77 L327.26,134.35 L328.07,134.93 L328.9,135.5 L329.73,136.06 L330.56,136.61 L331.4,137.15 L332.24,137.69 L333.09,138.22 L333.94,138.74 L334.8,139.25 L335.67,139.75 L336.54,140.25 L337.41,140.73 L338.29,141.2 L339.18,141.67 L340.07,142.12 L340.97,142.57 L341.87,143 L342.77,143.43 L343.68,143.84 L344.6,144.24 L345.52,144.63 L346.44,145.02 L347.37,145.39 L348.31,145.75 L349.24,146.09 L350.18,146.43 L351.13,146.75 L352.08,147.07 L353.03,147.37 L353.99,147.66 L354.95,147.94 L355.91,148.2 L356.88,148.46 L357.85,148.7 L358.82,148.93 L359.8,149.15 L360.78,149.36 L361.76,149.56 L362.74,149.74 L363.73,149.92 L364.71,150.08 L365.7,150.23 L366.69,150.37 L367.68,150.5 L368.68,150.62 L369.67,150.72 L370.67,150.82 L371.66,150.91 L372.66,150.98 L373.66,151.05 L374.65,151.11 L375.65,151.16 L376.65,151.19 L377.65,151.22 L378.65,151.24 L379.65,151.25 L380.65,151.25 L381.65,151.25 L382.65,151.23 L383.65,151.21 L384.65,151.18 L385.65,151.15 L386.65,151.1 L387.65,151.05 L388.65,150.99 L389.64,150.93 L390.64,150.86 L391.64,150.78 L392.63,150.7 L393.63,150.61 L394.63,150.52 L395.62,150.42 L396.62,150.31 L397.61,150.21 L398.61,150.09 L399.6,149.98 L400.59,149.86 L401.58,149.73 L402.57,149.6 L403.57,149.47 L404.56,149.33 L405.55,149.19 L406.54,149.05 L407.53,148.91 L408.51,148.76 L409.5,148.61 L410.49,148.46 L411.48,148.31 L412.47,148.15 L413.46,148 L414.44,147.84 L415.43,147.68 L416.42,147.51 L417.4,147.35 L418.39,147.19 L419.38,147.03 L420.36,146.86 L421.35,146.69 L422.34,146.53 L423.32,146.36 L424.31,146.2 L425.29,146.03 L426.28,145.86 L427.27,145.7 L428.25,145.53 L429.24,145.37 L430.23,145.2 L431.21,145.04 L432.2,144.88 L433.19,144.72 L434.17,144.55 L435.16,144.4 L436.15,144.24 L437.13,144.08 L438.12,143.92 L439.11,143.77 L440.1,143.62 L441.09,143.47 L442.08,143.32 L443.06,143.17 L444.05,143.02 L445.04,142.88 L446.03,142.74 L447.02,142.6 L448.01,142.46 L449,142.33 L450,142.19 L450.99,142.06 L451.98,141.94 L452.97,141.81 L453.96,141.69 L454.96,141.57 L455.95,141.45 L456.94,141.34 L457.94,141.22 L458.93,141.11 L459.93,141.01 L460.92,140.9 L461.92,140.8 L462.91,140.7 L463.9,140.61 L464.9,140.52 L465.9,140.43 L466.89,140.34 L467.89,140.26 L468.89,140.18 L469.88,140.1 L470.88,140.02 L471.88,139.95 L472.88,139.88 L473.87,139.82 L474.87,139.75 L475.87,139.69 L476.87,139.64 L477.87,139.58 L478.87,139.53 L479.86,139.48 L480.86,139.44 L481.86,139.4 L482.86,139.36 L483.86,139.32 L484.86,139.29 L485.86,139.26 L486.86,139.23 L487.86,139.2 L488.86,139.18 L489.86,139.16 L490.86,139.15 L491.86,139.13 L492.86,139.12 L493.86,139.11 L494.86,139.1 L495.86,139.1 L496.86,139.1 L497.86,139.1 L498.86,139.1 L499.86,139.11 L500.86,139.12 L501.86,139.13 L502.86,139.14 L503.86,139.16 L504.86,139.18 L505.86,139.2 L506.86,139.22 L507.86,139.24 L508.86,139.27 L509.86,139.29 L510.86,139.32 L511.86,139.35 L512.86,139.39 L513.85,139.42 L514.85,139.46 L515.85,139.5 L516.85,139.54 L517.85,139.58 L518.85,139.62 L519.85,139.67 L520.85,139.71 L521.85,139.76 L522.85,139.81 L523.85,139.86 L524.84,139.91 L525.84,139.96 L526.84,140.01 L527.84,140.07 L528.84,140.12 L529.84,140.18 L530.84,140.23 L531.83,140.29 L532.83,140.35 L533.83,140.41 L534.83,140.47 L535.83,140.53 L536.82,140.59 L537.82,140.65 L538.82,140.71 L539.82,140.78 L540.82,140.84 L541.81,140.9 L542.81,140.97 L543.81,141.03 L544.81,141.1 L545.81,141.16 L546.8,141.22 L547.8,141.29 L548.8,141.35 L549.8,141.42 L550.8,141.48 L551.79,141.55 L552.79,141.61 L553.79,141.68 L554.79,141.74 L555.78,141.81 L556.78,141.87 L557.78,141.94 L558.78,142 L559.78,142.06 L560.77,142.12 L561.77,142.19 L562.77,142.25 L563.77,142.31 L564.77,142.37 L565.77,142.43 L566.76,142.49 L567.76,142.55 L568.76,142.61 L569.76,142.67 L570.76,142.72 L571.75,142.78 L572.75,142.84 L573.75,142.89 L574.75,142.95 L575.75,143 L576.75,143.05 L577.75,143.11 L578.75,143.16 L579.74,143.21 L580.74,143.26 L581.74,143.31 L582.74,143.35 L583.74,143.4 L584.74,143.45 L585.74,143.49 L586.74,143.53 L587.74,143.58 L588.73,143.62 L589.73,143.66 L590.73,143.7 L591.73,143.74 L592.73,143.78 L593.73,143.81 L594.73,143.85 L595.73,143.89 L596.73,143.92 L597.73,143.95 L598.73,143.98 L599.73,144.01 L600.73,144.04 L601.73,144.07 L602.73,144.1 L603.73,144.13 L604.73,144.15 L605.73,144.18 L606.73,144.2 L607.73,144.22 L608.72,144.24 L609.72,144.26 L610.72,144.28 L611.72,144.3 L612.72,144.32 L613.72,144.33 L614.72,144.35 L615.72,144.36 L616.72,144.37 L617.72,144.38 L618.72,144.39 L619.72,144.4 L620.72,144.41 L621.72,144.42 L622.72,144.43 L623.72,144.43 L624.72,144.44 L625.72,144.44 L626.72,144.44 L627.72,144.44 L628.72,144.45 L629.72,144.45 L630.72,144.44 L631.72,144.44 L632.72,144.44 L633.72,144.44 L634.72,144.43 L635.72,144.43 L636.72,144.42 L637.72,144.41 L638.72,144.41 L639.72,144.4 L640.72,144.39 L641.72,144.38 L642.72,144.37 L643.72,144.36 L644.72,144.34 L645.72,144.33 L646.72,144.32 L647.72,144.3 L648.72,144.29 L649.72,144.27 L650.72,144.26 L651.72,144.24 L652.72,144.22 L653.72,144.21 L654.72,144.19 L655.72,144.17 L656.72,144.15 L657.72,144.13 L658.72,144.11 L659.72,144.09 L660.72,144.07 L661.72,144.04 L662.72,144.02 L663.72,144 L664.72,143.98 L665.72,143.96 L666.72,143.93 L667.72,143.91 L668.72,143.88 L669.72,143.86 L670.72,143.83 L671.72,143.81 L672.72,143.78 L673.72,143.76 L674.72,143.73 L675.72,143.71 L676.72,143.68 L677.72,143.65 L678.72,143.63 L679.71,143.6 L680.71,143.57 L681.71,143.55 L682.71,143.52 L683.71,143.49 L684.71,143.47 L685.71,143.44 L686.71,143.41 L687.71,143.38 L688.71,143.36 L689.71,143.33 L690.71,143.3 L691.71,143.27 L692.71,143.25 L693.71,143.22 L694.71,143.19 L695.71,143.16 L696.71,143.14 L697.71,143.11 L698.71,143.08 L699.71,143.06 L700.71,143.03 L701.71,143 L702.71,142.98 L703.71,142.95 L704.71,142.92 L705.71,142.9 L706.71,142.87 L707.7,142.85 L708.7,142.82 L709.7,142.8 L710.7,142.77 L711.7,142.75 L712.7,142.72 L713.7,142.7 L714.7,142.67 L715.7,142.65 L716.7,142.63 L717.7,142.6 L718.7,142.58 L719.7,142.56 L720.7,142.53 L721.7,142.51 L722.7,142.49 L723.7,142.47 L724.7,142.45 L725.7,142.43 L726.7,142.41 L727.7,142.38 L728.7,142.37 L729.7,142.34 L730.7,142.33 L731.7,142.31 L732.7,142.29 L733.7,142.27 L734.7,142.25 L735.7,142.23 L736.7,142.22 L737.7,142.2 L738.7,142.18 L739.7,142.17 L740.7,142.15 L741.7,142.13 L742.7,142.12 L743.7,142.1 L744.7,142.09 L745.7,142.07 L746.7,142.06 L747.7,142.05 L748.7,142.03 L749.7,142.02 L750.7,142.01 L751.7,142 L752.7,141.99 L753.7,141.97 L754.7,141.96 L755.7,141.95 L756.7,141.94 L757.7,141.93 L758.7,141.92 L759.7,141.91 L760.7,141.9 L761.7,141.89 L762.7,141.88 L763.7,141.88 L764.7,141.87 L765.7,141.86 L766.7,141.85 L767.7,141.85 L768.7,141.84 L769.7,141.84 L770.7,141.83 L771.7,141.82 L772.7,141.82 L773.7,141.81 L774.7,141.81 L775.7,141.81 L776.7,141.8 L777.7,141.8 L778.7,141.79 L779.7,141.79 L780.7,141.79 L781.7,141.79 L782.7,141.78 L783.7,141.78 L784.7,141.78 L785.7,141.78 L786.7,141.78 L787.7,141.78 L788.7,141.78 L789.7,141.77 L790.7,141.77 L791.7,141.77 L792.7,141.77 L793.7,141.77 L794.7,141.77 L795.7,141.78 L796.7,141.78 L797.7,141.78 L798.7,141.78 L799.7,141.78 L800.7,141.78 L801.7,141.78 L802.7,141.78 L803.7,141.79 L804.7,141.79 L805.7,141.79 L806.7,141.79 L807.7,141.8 L808.7,141.8 L809.7,141.8 L810.7,141.81 L811.7,141.81 L812.7,141.81 L813.7,141.82 L814.7,141.82 L815.7,141.83 L816.7,141.83 L817.7,141.83 L818.7,141.84 L819.7,141.84 L820.7,141.85 L821.7,141.85 L822.7,141.85 L823.7,141.86 L824.7,141.87 L825.7,141.87 L826.7,141.87 L827.7,141.88 L828.7,141.88 L829.7,141.89 L830.7,141.89 L831.7,141.9 L832.7,141.9 L833.7,141.91 L834.7,141.91 L835.7,141.92 L836.7,141.93 L837.69,141.93 L838.69,141.94 L839.69,141.94 L840.69,141.95 L841.69,141.95 L842.69,141.96 L843.69,141.96 L844.69,141.97 L845.69,141.97 L846.69,141.98 L847.69,141.98 L848.69,141.99 L849.69,142 L850.69,142 L851.69,142.01 L852.69,142.01 L853.69,142.02 L854.69,142.02 L855.69,142.03 L856.69,142.03 L857.69,142.04 L858.69,142.04 L859.69,142.05 L860.69,142.05 L861.69,142.06 L862.69,142.06 L863.69,142.07 L864.69,142.07 L865.69,142.08 L866.69,142.08 L867.69,142.09 L868.69,142.09 L869.69,142.09 L870.69,142.1 L871.69,142.1 L872.69,142.11 L873.69,142.11 L874.69,142.12 L875.69,142.12 L876.69,142.13 L877.69,142.13 L878.69,142.13 L879.69,142.14 L880.69,142.14 L881.69,142.15 L882.69,142.15 L883.69,142.15 L884.69,142.16 L885.59,142.16" stroke="#00ff00" stroke-dasharray="18 21.93" stroke-dashoffset="0"/>
<path d="M105.22,310.16 L105.41,309.18 L105.59,308.19 L105.77,307.21 L105.95,306.23 L106.13,305.24 L106.31,304.26 L106.5,303.28 L106.68,302.29 L106.86,301.31 L107.05,300.33 L107.23,299.34 L107.41,298.36 L107.59,297.38 L107.78,296.39 L107.96,295.41 L108.14,294.43 L108.33,293.44 L108.51,292.46 L108.69,291.48 L108.88,290.5 L109.06,289.51 L109.24,288.53 L109.43,287.55 L109.61,286.56 L109.8,285.58 L109.98,284.6 L110.16,283.62 L110.35,282.63 L110.53,281.65 L110.72,280.67 L110.9,279.68 L111.09,278.7 L111.27,277.72 L111.46,276.74 L111.64,275.75 L111.83,274.77 L112.02,273.79 L112.2,272.81 L112.39,271.82 L112.58,270.84 L112.76,269.86 L112.95,268.88 L113.14,267.89 L113.32,266.91 L113.51,265.93 L113.7,264.95 L113.89,263.96 L114.07,262.98 L114.26,262 L114.45,261.02 L114.64,260.04 L114.83,259.05 L115.02,258.07 L115.2,257.09 L115.39,256.11 L115.58,255.13 L115.77,254.14 L115.96,253.16 L116.15,252.18 L116.34,251.2 L116.53,250.22 L116.73,249.24 L116.92,248.25 L117.11,247.27 L117.3,246.29 L117.49,245.31 L117.69,244.33 L117.88,243.35 L118.07,242.37 L118.26,241.38 L118.46,240.4 L118.65,239.42 L118.84,238.44 L119.04,237.46 L119.23,236.48 L119.43,235.5 L119.62,234.52 L119.82,233.54 L120.01,232.56 L120.21,231.58 L120.41,230.59 L120.6,229.62 L120.8,228.63 L121,227.65 L121.19,226.67 L121.39,225.69 L121.59,224.71 L121.79,223.73 L121.98,222.75 L122.18,221.77 L122.38,220.79 L122.58,219.81 L122.78,218.83 L122.98,217.85 L123.18,216.87 L123.39,215.9 L123.59,214.91 L123.79,213.94 L123.99,212.96 L124.19,211.98 L124.4,211 L124.6,210.02 L124.81,209.04 L125.01,208.06 L125.21,207.08 L125.42,206.1 L125.62,205.12 L125.83,204.15 L126.04,203.17 L126.24,202.19 L126.45,201.21 L126.66,200.23 L126.87,199.25 L127.08,198.28 L127.28,197.3 L127.49,196.32 L127.7,195.34 L127.91,194.37 L128.12,193.39 L128.34,192.41 L128.55,191.43 L128.76,190.46 L128.97,189.48 L129.19,188.5 L129.4,187.53 L129.62,186.55 L129.83,185.57 L130.05,184.6 L130.26,183.62 L130.48,182.64 L130.7,181.67 L130.91,180.69 L131.13,179.72 L131.35,178.74 L131.57,177.76 L131.79,176.79 L132.01,175.81 L132.23,174.84 L132.46,173.86 L132.68,172.89 L132.9,171.91 L133.12,170.94 L133.35,169.96 L133.57,168.99 L133.8,168.01 L134.03,167.04 L134.25,166.07 L134.48,165.09 L134.71,164.12 L134.94,163.15 L135.17,162.17 L135.4,161.2 L135.63,160.23 L135.86,159.25 L136.09,158.28 L136.33,157.31 L136.56,156.34 L136.8,155.37 L137.03,154.39 L137.27,153.42 L137.51,152.45 L137.75,151.48 L137.99,150.51 L138.23,149.54 L138.47,148.57 L138.71,147.6 L138.95,146.63 L139.19,145.66 L139.44,144.69 L139.69,143.72 L139.93,142.75 L140.18,141.78 L140.43,140.81 L140.68,139.84 L140.93,138.88 L141.18,137.91 L141.43,136.94 L141.68,135.97 L141.94,135 L142.19,134.04 L142.45,133.07 L142.71,132.1 L142.97,131.14 L143.22,130.17 L143.49,129.21 L143.75,128.24 L144.01,127.28 L144.28,126.31 L144.54,125.35 L144.81,124.39 L145.07,123.42 L145.34,122.46 L145.62,121.5 L145.89,120.53 L146.16,119.57 L146.44,118.61 L146.71,117.65 L146.99,116.69 L147.27,115.73 L147.55,114.77 L147.83,113.81 L148.11,112.85 L148.4,111.89 L148.68,110.93 L148.97,109.98 L149.26,109.02 L149.55,108.06 L149.84,107.11 L150.14,106.15 L150.44,105.19 L150.73,104.24 L151.03,103.29 L151.33,102.33 L151.64,101.38 L151.94,100.43 L152.25,99.48 L152.56,98.53 L152.87,97.57 L153.18,96.62 L153.5,95.68 L153.82,94.73 L154.14,93.78 L154.46,92.83 L154.78,91.89 L155.11,90.94 L155.44,90 L155.77,89.05 L156.1,88.11 L156.44,87.17 L156.78,86.23 L157.12,85.29 L157.46,84.35 L157.81,83.41 L158.16,82.47 L158.51,81.54 L158.87,80.6 L159.22,79.67 L159.59,78.74 L159.95,77.81 L160.32,76.88 L160.69,75.95 L161.06,75.02 L161.44,74.1 L161.82,73.17 L162.21,72.25 L162.6,71.33 L162.99,70.41 L163.39,69.49 L163.79,68.58 L164.2,67.66 L164.61,66.75 L165.02,65.84 L165.44,64.93 L165.86,64.03 L166.29,63.12 L166.73,62.22 L167.17,61.32 L167.61,60.43 L168.06,59.53 L168.52,58.64 L168.98,57.76 L169.45,56.87 L169.92,55.99 L170.4,55.12 L170.89,54.24 L171.38,53.37 L171.89,52.51 L172.4,51.65 L172.91,50.79 L173.44,49.94 L173.97,49.1 L174.52,48.26 L175.07,47.42 L175.63,46.6 L176.2,45.78 L176.79,44.96 L177.38,44.16 L177.99,43.36 L178.6,42.57 L179.23,41.8 L179.87,41.03 L180.53,40.27 L181.19,39.53 L181.88,38.8 L182.57,38.08 L183.29,37.38 L184.01,36.7 L184.76,36.03 L185.52,35.38 L186.3,34.76 L187.1,34.15 L187.92,33.58 L188.75,33.03 L189.61,32.51 L190.48,32.02 L191.37,31.56 L192.28,31.14 L193.2,30.76 L194.14,30.43 L195.1,30.13 L196.07,29.88 L197.05,29.68 L198.03,29.52 L199.03,29.41 L200.03,29.36 L201.03,29.34 L202.03,29.38 L203.02,29.47 L204.01,29.59 L205,29.76 L205.98,29.98 L206.94,30.23 L207.9,30.51 L208.85,30.83 L209.79,31.18 L210.71,31.57 L211.62,31.97 L212.52,32.41 L213.41,32.87 L214.29,33.35 L215.16,33.85 L216.01,34.37 L216.85,34.9 L217.69,35.46 L218.51,36.02 L219.32,36.61 L220.13,37.2 L220.92,37.81 L221.71,38.43 L222.49,39.06 L223.25,39.7 L224.02,40.34 L224.77,41 L225.52,41.67 L226.26,42.34 L226.99,43.02 L227.71,43.71 L228.43,44.4 L229.15,45.1 L229.85,45.81 L230.55,46.53 L231.25,47.24 L231.94,47.97 L232.62,48.7 L233.31,49.43 L233.98,50.16 L234.65,50.91 L235.32,51.65 L235.99,52.4 L236.65,53.15 L237.3,53.9 L237.96,54.66 L238.61,55.42 L239.26,56.18 L239.9,56.94 L240.54,57.71 L241.18,58.48 L241.82,59.25 L242.46,60.02 L243.09,60.8 L243.72,61.57 L244.35,62.35 L244.98,63.13 L245.6,63.91 L246.23,64.69 L246.85,65.47 L247.47,66.25 L248.09,67.04 L248.71,67.82 L249.33,68.61 L249.94,69.4 L250.56,70.19 L251.17,70.98 L251.78,71.77 L252.39,72.56 L253,73.35 L253.61,74.14 L254.22,74.94 L254.83,75.73 L255.44,76.52 L256.05,77.32 L256.65,78.11 L257.26,78.91 L257.87,79.7 L258.48,80.5 L259.08,81.29 L259.69,82.08 L260.3,82.88 L260.91,83.67 L261.52,84.47 L262.13,85.26 L262.74,86.05 L263.35,86.84 L263.96,87.63 L264.57,88.42 L265.18,89.22 L265.8,90 L266.41,90.79 L267.03,91.58 L267.65,92.36 L268.27,93.15 L268.89,93.93 L269.51,94.72 L270.14,95.5 L270.76,96.28 L271.39,97.06 L272.01,97.84 L272.64,98.62 L273.27,99.39 L273.9,100.17 L274.53,100.94 L275.17,101.72 L275.81,102.49 L276.44,103.26 L277.08,104.03 L277.73,104.79 L278.37,105.56 L279.02,106.32 L279.67,107.08 L280.32,107.84 L280.97,108.59 L281.63,109.35 L282.29,110.1 L282.95,110.85 L283.62,111.59 L284.29,112.34 L284.96,113.08 L285.64,113.82 L286.31,114.55 L287,115.28 L287.68,116.01 L288.37,116.73 L289.06,117.45 L289.76,118.17 L290.46,118.89 L291.17,119.59 L291.88,120.3 L292.59,121 L293.31,121.7 L294.03,122.39 L294.76,123.07 L295.49,123.75 L296.23,124.42 L296.98,125.09 L297.73,125.75 L298.48,126.41 L299.24,127.06 L300,127.71 L300.77,128.35 L301.55,128.98 L302.32,129.61 L303.11,130.23 L303.9,130.84 L304.69,131.45 L305.49,132.05 L306.29,132.65 L307.1,133.24 L307.91,133.82 L308.73,134.4 L309.55,134.97 L310.38,135.53 L311.21,136.09 L312.05,136.64 L312.88,137.18 L313.73,137.71 L314.58,138.24 L315.44,138.75 L316.3,139.25 L317.17,139.75 L318.04,140.24 L318.92,140.72 L319.81,141.19 L320.69,141.65 L321.59,142.1 L322.49,142.54 L323.39,142.97 L324.3,143.39 L325.21,143.8 L326.12,144.2 L327.04,144.59 L327.97,144.97 L328.9,145.34 L329.83,145.7 L330.77,146.05 L331.71,146.39 L332.65,146.72 L333.6,147.04 L334.55,147.35 L335.5,147.65 L336.46,147.94 L337.42,148.22 L338.39,148.48 L339.35,148.73 L340.32,148.97 L341.3,149.21 L342.27,149.42 L343.25,149.63 L344.23,149.83 L345.21,150.01 L346.2,150.19 L347.19,150.35 L348.17,150.51 L349.16,150.65 L350.15,150.79 L351.14,150.91 L352.14,151.03 L353.13,151.13 L354.13,151.23 L355.12,151.32 L356.12,151.4 L357.12,151.47 L358.12,151.54 L359.11,151.6 L360.11,151.65 L361.11,151.69 L362.11,151.73 L363.11,151.76 L364.11,151.78 L365.11,151.79 L366.11,151.8 L367.11,151.79 L368.11,151.78 L369.11,151.76 L370.11,151.74 L371.11,151.71 L372.11,151.67 L373.11,151.62 L374.11,151.57 L375.11,151.51 L376.1,151.45 L377.1,151.38 L378.1,151.3 L379.09,151.22 L380.09,151.13 L381.09,151.04 L382.08,150.95 L383.08,150.85 L384.07,150.74 L385.06,150.63 L386.06,150.52 L387.05,150.41 L388.05,150.29 L389.04,150.16 L390.03,150.04 L391.02,149.91 L392.01,149.78 L393,149.64 L393.99,149.5 L394.98,149.36 L395.97,149.22 L396.96,149.08 L397.95,148.93 L398.94,148.78 L399.93,148.63 L400.92,148.48 L401.91,148.33 L402.89,148.18 L403.88,148.02 L404.87,147.87 L405.86,147.71 L406.85,147.55 L407.83,147.4 L408.82,147.24 L409.81,147.08 L410.8,146.92 L411.78,146.76 L412.77,146.61 L413.76,146.45 L414.75,146.29 L415.73,146.13 L416.72,145.98 L417.71,145.82 L418.7,145.67 L419.69,145.51 L420.67,145.36 L421.66,145.21 L422.65,145.05 L423.64,144.9 L424.63,144.75 L425.62,144.61 L426.61,144.46 L427.6,144.31 L428.58,144.17 L429.57,144.03 L430.56,143.89 L431.56,143.75 L432.55,143.62 L433.54,143.48 L434.53,143.35 L435.52,143.22 L436.51,143.09 L437.5,142.96 L438.5,142.84 L439.49,142.72 L440.48,142.6 L441.47,142.48 L442.47,142.36 L443.46,142.25 L444.45,142.14 L445.45,142.03 L446.44,141.93 L447.44,141.82 L448.43,141.72 L449.43,141.63 L450.42,141.53 L451.42,141.44 L452.42,141.35 L453.41,141.26 L454.41,141.18 L455.4,141.09 L456.4,141.01 L457.4,140.94 L458.39,140.86 L459.39,140.79 L460.39,140.72 L461.39,140.66 L462.39,140.59 L463.38,140.53 L464.38,140.48 L465.38,140.42 L466.38,140.37 L467.38,140.32 L468.38,140.27 L469.38,140.23 L470.38,140.18 L471.38,140.15 L472.37,140.11 L473.37,140.07 L474.37,140.04 L475.37,140.01 L476.37,139.99 L477.37,139.96 L478.37,139.94 L479.37,139.92 L480.37,139.91 L481.37,139.89 L482.37,139.88 L483.37,139.87 L484.37,139.86 L485.37,139.86 L486.37,139.85 L487.37,139.85 L488.37,139.86 L489.37,139.86 L490.37,139.87 L491.37,139.87 L492.37,139.88 L493.37,139.9 L494.37,139.91 L495.37,139.92 L496.37,139.94 L497.37,139.96 L498.37,139.98 L499.37,140 L500.37,140.03 L501.37,140.05 L502.37,140.08 L503.37,140.11 L504.37,140.14 L505.37,140.17 L506.37,140.21 L507.37,140.24 L508.37,140.28 L509.37,140.31 L510.36,140.35 L511.36,140.39 L512.36,140.43 L513.36,140.47 L514.36,140.52 L515.36,140.56 L516.36,140.61 L517.36,140.65 L518.36,140.7 L519.36,140.75 L520.35,140.8 L521.35,140.84 L522.35,140.89 L523.35,140.94 L524.35,141 L525.35,141.05 L526.35,141.1 L527.35,141.15 L528.34,141.21 L529.34,141.26 L530.34,141.31 L531.34,141.37 L532.34,141.43 L533.34,141.48 L534.34,141.53 L535.33,141.59 L536.33,141.65 L537.33,141.7 L538.33,141.76 L539.33,141.81 L540.33,141.87 L541.32,141.93 L542.32,141.98 L543.32,142.04 L544.32,142.09 L545.32,142.15 L546.32,142.2 L547.31,142.26 L548.31,142.31 L549.31,142.37 L550.31,142.42 L551.31,142.48 L552.31,142.53 L553.31,142.59 L554.3,142.64 L555.3,142.69 L556.3,142.74 L557.3,142.79 L558.3,142.84 L559.3,142.9 L560.3,142.95 L561.29,143 L562.29,143.04 L563.29,143.09 L564.29,143.14 L565.29,143.19 L566.29,143.23 L567.29,143.28 L568.29,143.32 L569.29,143.37 L570.28,143.41 L571.28,143.45 L572.28,143.5 L573.28,143.54 L574.28,143.58 L575.28,143.62 L576.28,143.66 L577.28,143.69 L578.28,143.73 L579.28,143.77 L580.28,143.8 L581.28,143.84 L582.28,143.87 L583.28,143.9 L584.28,143.94 L585.27,143.97 L586.27,144 L587.27,144.03 L588.27,144.05 L589.27,144.08 L590.27,144.11 L591.27,144.13 L592.27,144.16 L593.27,144.18 L594.27,144.21 L595.27,144.23 L596.27,144.25 L597.27,144.27 L598.27,144.29 L599.27,144.31 L600.27,144.32 L601.27,144.34 L602.27,144.35 L603.27,144.37 L604.27,144.38 L605.27,144.4 L606.27,144.41 L607.27,144.42 L608.27,144.43 L609.27,144.44 L610.27,144.44 L611.27,144.45 L612.27,144.46 L613.27,144.47 L614.27,144.47 L615.27,144.47 L616.27,144.48 L617.27,144.48 L618.27,144.48 L619.27,144.48 L620.27,144.48 L621.27,144.48 L622.27,144.48 L623.27,144.48 L624.27,144.47 L625.27,144.47 L626.27,144.46 L627.27,144.46 L628.27,144.45 L629.27,144.45 L630.27,144.44 L631.27,144.43 L632.27,144.42 L633.27,144.41 L634.27,144.4 L635.27,144.39 L636.27,144.38 L637.27,144.37 L638.27,144.35 L639.27,144.34 L640.27,144.33 L641.27,144.31 L642.27,144.3 L643.27,144.28 L644.27,144.27 L645.27,144.25 L646.27,144.23 L647.27,144.22 L648.27,144.2 L649.27,144.18 L650.27,144.16 L651.27,144.14 L652.27,144.12 L653.27,144.1 L654.27,144.08 L655.27,144.06 L656.27,144.04 L657.27,144.02 L658.27,144 L659.27,143.98 L660.27,143.96 L661.26,143.93 L662.26,143.91 L663.26,143.89 L664.26,143.86 L665.26,143.84 L666.26,143.82 L667.26,143.79 L668.26,143.77 L669.26,143.74 L670.26,143.72 L671.26,143.69 L672.26,143.67 L673.26,143.65 L674.26,143.62 L675.26,143.59 L676.26,143.57 L677.26,143.54 L678.26,143.52 L679.26,143.49 L680.26,143.47 L681.26,143.44 L682.26,143.42 L683.26,143.39 L684.26,143.37 L685.26,143.34 L686.26,143.31 L687.26,143.29 L688.26,143.26 L689.26,143.24 L690.26,143.21 L691.26,143.19 L692.26,143.16 L693.25,143.14 L694.25,143.11 L695.25,143.09 L696.25,143.06 L697.25,143.04 L698.25,143.01 L699.25,142.99 L700.25,142.97 L701.25,142.94 L702.25,142.92 L703.25,142.89 L704.25,142.87 L705.25,142.85 L706.25,142.82 L707.25,142.8 L708.25,142.78 L709.25,142.75 L710.25,142.73 L711.25,142.71 L712.25,142.69 L713.25,142.67 L714.25,142.65 L715.25,142.62 L716.25,142.6 L717.25,142.58 L718.25,142.56 L719.25,142.54 L720.25,142.52 L721.25,142.5 L722.25,142.48 L723.25,142.46 L724.25,142.44 L725.25,142.42 L726.25,142.41 L727.25,142.39 L728.25,142.37 L729.25,142.35 L730.25,142.33 L731.25,142.32 L732.25,142.3 L733.25,142.28 L734.25,142.27 L735.25,142.25 L736.25,142.24 L737.25,142.22 L738.25,142.21 L739.25,142.19 L740.25,142.18 L741.25,142.16 L742.25,142.15 L743.25,142.13 L744.25,142.12 L745.25,142.11 L746.25,142.09 L747.25,142.08 L748.25,142.07 L749.25,142.06 L750.24,142.05 L751.24,142.04 L752.24,142.03 L753.24,142.01 L754.24,142 L755.24,142 L756.24,141.99 L757.24,141.98 L758.24,141.97 L759.24,141.96 L760.24,141.95 L761.24,141.94 L762.24,141.93 L763.24,141.93 L764.24,141.92 L765.24,141.91 L766.24,141.9 L767.24,141.9 L768.24,141.89 L769.24,141.88 L770.24,141.88 L771.24,141.87 L772.24,141.87 L773.24,141.86 L774.24,141.86 L775.24,141.85 L776.24,141.85 L777.24,141.84 L778.24,141.84 L779.24,141.84 L780.24,141.83 L781.24,141.83 L782.24,141.83 L783.24,141.82 L784.24,141.82 L785.24,141.82 L786.24,141.82 L787.24,141.82 L788.24,141.81 L789.24,141.81 L790.24,141.81 L791.24,141.81 L792.24,141.81 L793.24,141.81 L794.24,141.81 L795.24,141.81 L796.24,141.81 L797.24,141.81 L798.24,141.81 L799.24,141.81 L800.24,141.81 L801.24,141.81 L802.24,141.81 L803.24,141.81 L804.24,141.81 L805.24,141.81 L806.24,141.81 L807.24,141.82 L808.24,141.82 L809.24,141.82 L810.24,141.82 L811.24,141.82 L812.24,141.83 L813.24,141.83 L814.24,141.83 L815.24,141.83 L816.24,141.84 L817.24,141.84 L818.24,141.84 L819.24,141.84 L820.24,141.85 L821.24,141.85 L822.24,141.85 L823.24,141.85 L824.24,141.86 L825.24,141.86 L826.24,141.87 L827.24,141.87 L828.24,141.87 L829.24,141.88 L830.24,141.88 L831.24,141.88 L832.24,141.89 L833.24,141.89 L834.24,141.89 L835.24,141.9 L836.24,141.9 L837.24,141.91 L838.24,141.91 L839.24,141.91 L840.24,141.92 L841.24,141.92 L842.24,141.93 L843.24,141.93 L844.24,141.93 L845.24,141.94 L846.24,141.94 L847.24,141.95 L848.24,141.95 L849.24,141.95 L850.24,141.96 L851.24,141.96 L852.24,141.97 L853.24,141.97 L854.24,141.97 L855.24,141.98 L856.24,141.98 L857.24,141.99 L858.24,141.99 L859.24,141.99 L860.24,142 L861.24,142 L862.24,142.01 L863.24,142.01 L864.24,142.01 L865.24,142.02 L866.24,142.02 L867.24,142.03 L868.24,142.03 L869.24,142.03 L870.24,142.04 L871.24,142.04 L872.24,142.04 L873.24,142.05 L874.24,142.05 L875.24,142.06 L876.24,142.06 L877.24,142.06 L878.24,142.06 L879.24,142.07 L880.24,142.07 L881.24,142.07 L882.24,142.08 L883.24,142.08 L884.24,142.09 L885.24,142.09 L885.59,142.09" stroke="#0000ff" stroke-dasharray="6.97 6.98" stroke-dashoffset="0"/>
</g>
<path d="M105.24,505.27v-9.3M105.24,3.2v9.3M137.75,505.27v-5.6M137.75,3.2v5.6M170.26,505.27v-5.6M170.26,3.2v5.6M202.77,505.27v-5.6M202.77,3.2v5.6M235.28,505.27v-9.3M235.28,3.2v9.3M267.79,505.27v-5.6M267.79,3.2v5.6M300.3,505.27v-5.6M300.3,3.2v5.6M332.81,505.27v-5.6M332.81,3.2v5.6M365.32,505.27v-9.3M365.32,3.2v9.3M397.83,505.27v-5.6M397.83,3.2v5.6M430.34,505.27v-5.6M430.34,3.2v5.6M462.85,505.27v-5.6M462.85,3.2v5.6M495.36,505.27v-9.3M495.36,3.2v9.3M527.87,505.27v-5.6M527.87,3.2v5.6M560.38,505.27v-5.6M560.38,3.2v5.6M592.89,505.27v-5.6M592.89,3.2v5.6M625.4,505.27v-9.3M625.4,3.2v9.3M657.91,505.27v-5.6M657.91,3.2v5.6M690.42,505.27v-5.6M690.42,3.2v5.6M722.93,505.27v-5.6M722.93,3.2v5.6M755.44,505.27v-9.3M755.44,3.2v9.3M787.95,505.27v-5.6M787.95,3.2v5.6M820.46,505.27v-5.6M820.46,3.2v5.6M852.97,505.27v-5.6M852.97,3.2v5.6M885.48,505.27v-9.3M885.48,3.2v9.3M89,478.45h5.6M901.96,478.45h-5.6M89,447.88h5.6M901.96,447.88h-5.6M89,417.31h5.6M901.96,417.31h-5.6M89,386.74h9.3M901.96,386.74h-9.3M89,356.18h5.6M901.96,356.18h-5.6M89,325.61h5.6M901.96,325.61h-5.6M89,295.04h5.6M901.96,295.04h-5.6M89,264.47h9.3M901.96,264.47h-9.3M89,233.9h5.6M901.96,233.9h-5.6M89,203.34h5.6M901.96,203.34h-5.6M89,172.77h5.6M901.96,172.77h-5.6M89,142.2h9.3M901.96,142.2h-9.3M89,111.63h5.6M901.96,111.63h-5.6M89,81.06h5.6M901.96,81.06h-5.6M89,50.5h5.6M901.96,50.5h-5.6M89,19.93h9.3M901.96,19.93h-9.3" stroke="#444444" stroke-width="1.25" fill="none"/>
<rect x="89" y="3.2" width="812.96" height="502.07" fill="none" stroke="#666666" stroke-width="1.5"/>
<g font-size="27.3" font-weight="700" fill="#000">
<text transform="translate(105.24,535.9) scale(1,1.065)" text-anchor="middle">0</text>
<text transform="translate(235.28,535.9) scale(1,1.065)" text-anchor="middle">2</text>
<text transform="translate(365.32,535.9) scale(1,1.065)" text-anchor="middle">4</text>
<text transform="translate(495.36,535.9) scale(1,1.065)" text-anchor="middle">6</text>
<text transform="translate(625.4,535.9) scale(1,1.065)" text-anchor="middle">8</text>
<text transform="translate(755.44,535.9) scale(1,1.065)" text-anchor="middle">10</text>
<text transform="translate(885.48,535.9) scale(1,1.065)" text-anchor="middle">12</text>
<text transform="translate(83.4,30.18) scale(1,1.065)" text-anchor="end">20</text>
<text transform="translate(83.4,152.45) scale(1,1.065)" text-anchor="end">0</text>
<text transform="translate(83.4,274.72) scale(1,1.065)" text-anchor="end"><tspan dy="1.91">−</tspan><tspan dy="-1.91" dx="1.5">20</tspan></text>
<text transform="translate(83.4,396.99) scale(1,1.065)" text-anchor="end"><tspan dy="1.91">−</tspan><tspan dy="-1.91" dx="1.5">40</tspan></text>
</g>
<text x="496.5" y="579" font-size="27.5" font-weight="700" font-style="italic" text-anchor="middle">z</text>
<text transform="translate(17.5,254) rotate(-90)" font-size="27.5" font-weight="700" font-style="italic" text-anchor="middle">τ<tspan font-size="19.52" dy="5.5" font-style="italic" font-weight="700">zz</tspan></text>
<g fill="none" stroke-width="3.6">
<line x1="343" y1="248.3" x2="411.8" y2="248.3" stroke="#ff0000"/>
<line x1="344.2" y1="309.4" x2="402.1" y2="309.4" stroke="#00ff00" stroke-dasharray="18 21.9"/>
<line x1="344.5" y1="371" x2="405.8" y2="371" stroke="#0000ff" stroke-dasharray="5.3 7 7 7 7 7 7 7 7 7"/>
</g>
<text transform="translate(428.2,254.8) scale(1,1.038)" font-size="31.17" font-weight="700">Without Magnetic Field <tspan font-style="italic" font-weight="400" stroke="#000" stroke-width="1.12" dx="1.25">H</tspan><tspan font-weight="400" stroke="#000" stroke-width="0.69" font-size="22.13" dx="-1.4" dy="6.23">0</tspan><tspan dy="-6.23" dx="-0.16">=0</tspan></text>
<text transform="translate(428.2,315.9) scale(1,1.038)" font-size="31.17" font-weight="700">With Magnetic Field <tspan font-style="italic" font-weight="400" stroke="#000" stroke-width="1.12" dx="1.25">H</tspan><tspan font-weight="400" stroke="#000" stroke-width="0.69" font-size="22.13" dx="-1.4" dy="6.23">0</tspan><tspan dy="-6.23" dx="-0.16">=10</tspan><tspan font-weight="400" stroke="#000" stroke-width="0.69" font-size="22.13" dx="0.31" dy="-12.16">5</tspan></text>
<text transform="translate(428.2,377.6) scale(1,1.038)" font-size="31.17" font-weight="700">With Magnetic Field <tspan font-style="italic" font-weight="400" stroke="#000" stroke-width="1.12" dx="1.25">H</tspan><tspan font-weight="400" stroke="#000" stroke-width="0.69" font-size="22.13" dx="-1.4" dy="6.23">0</tspan><tspan dy="-6.23" dx="-0.16">=10</tspan><tspan font-weight="400" stroke="#000" stroke-width="0.69" font-size="22.13" dx="0.31" dy="-12.16">7</tspan></text>
</g>
<g>
<line x1="995.4" y1="75.05" x2="1832.8" y2="75.05" stroke="#c8c8c8" stroke-width="1"/>
<g fill="none" stroke-width="2.4" stroke-linejoin="round">
<path d="M1012.05,75.05 L1012.26,76.03 L1012.47,77 L1012.69,77.98 L1012.9,78.96 L1013.12,79.93 L1013.34,80.91 L1013.56,81.89 L1013.78,82.86 L1014,83.84 L1014.23,84.81 L1014.45,85.78 L1014.68,86.76 L1014.91,87.73 L1015.14,88.7 L1015.37,89.68 L1015.6,90.65 L1015.84,91.62 L1016.07,92.59 L1016.31,93.57 L1016.55,94.54 L1016.79,95.51 L1017.03,96.48 L1017.27,97.45 L1017.52,98.42 L1017.77,99.39 L1018.02,100.36 L1018.27,101.32 L1018.52,102.29 L1018.77,103.26 L1019.03,104.22 L1019.28,105.19 L1019.54,106.16 L1019.8,107.12 L1020.06,108.09 L1020.32,109.05 L1020.59,110.02 L1020.86,110.98 L1021.12,111.94 L1021.39,112.91 L1021.66,113.87 L1021.93,114.83 L1022.2,115.8 L1022.47,116.76 L1022.74,117.72 L1023.02,118.68 L1023.29,119.64 L1023.57,120.61 L1023.85,121.57 L1024.12,122.53 L1024.4,123.49 L1024.68,124.45 L1024.97,125.41 L1025.25,126.37 L1025.54,127.32 L1025.82,128.28 L1026.11,129.24 L1026.4,130.2 L1026.69,131.15 L1026.98,132.11 L1027.28,133.07 L1027.57,134.02 L1027.87,134.98 L1028.17,135.93 L1028.47,136.88 L1028.77,137.84 L1029.08,138.79 L1029.38,139.74 L1029.69,140.69 L1030,141.64 L1030.32,142.59 L1030.63,143.54 L1030.95,144.49 L1031.27,145.44 L1031.59,146.38 L1031.91,147.33 L1032.24,148.28 L1032.56,149.22 L1032.89,150.17 L1033.22,151.11 L1033.55,152.06 L1033.87,153 L1034.2,153.95 L1034.53,154.89 L1034.87,155.83 L1035.2,156.78 L1035.53,157.72 L1035.86,158.66 L1036.2,159.6 L1036.53,160.55 L1036.87,161.49 L1037.2,162.43 L1037.54,163.37 L1037.88,164.31 L1038.22,165.25 L1038.55,166.2 L1038.89,167.14 L1039.23,168.08 L1039.57,169.02 L1039.91,169.96 L1040.26,170.9 L1040.6,171.84 L1040.94,172.78 L1041.28,173.72 L1041.63,174.66 L1041.97,175.59 L1042.31,176.53 L1042.66,177.47 L1043,178.41 L1043.35,179.35 L1043.69,180.29 L1044.04,181.22 L1044.39,182.16 L1044.74,183.1 L1045.08,184.04 L1045.43,184.98 L1045.78,185.91 L1046.13,186.85 L1046.48,187.79 L1046.83,188.72 L1047.18,189.66 L1047.53,190.6 L1047.88,191.53 L1048.23,192.47 L1048.58,193.41 L1048.93,194.34 L1049.28,195.28 L1049.63,196.22 L1049.98,197.15 L1050.34,198.09 L1050.69,199.02 L1051.04,199.96 L1051.4,200.9 L1051.75,201.83 L1052.1,202.77 L1052.46,203.7 L1052.81,204.64 L1053.16,205.57 L1053.52,206.51 L1053.87,207.44 L1054.22,208.38 L1054.58,209.31 L1054.93,210.25 L1055.29,211.18 L1055.64,212.12 L1056,213.05 L1056.35,213.99 L1056.71,214.92 L1057.06,215.86 L1057.42,216.79 L1057.77,217.73 L1058.13,218.66 L1058.48,219.6 L1058.84,220.53 L1059.19,221.47 L1059.55,222.4 L1059.91,223.34 L1060.26,224.27 L1060.62,225.21 L1060.97,226.14 L1061.33,227.07 L1061.69,228.01 L1062.04,228.94 L1062.4,229.88 L1062.75,230.81 L1063.11,231.75 L1063.46,232.68 L1063.82,233.62 L1064.18,234.55 L1064.53,235.49 L1064.89,236.42 L1065.24,237.35 L1065.6,238.29 L1065.96,239.22 L1066.31,240.16 L1066.67,241.09 L1067.02,242.03 L1067.38,242.96 L1067.73,243.9 L1068.09,244.83 L1068.44,245.77 L1068.8,246.7 L1069.16,247.63 L1069.51,248.57 L1069.87,249.5 L1070.22,250.44 L1070.58,251.37 L1070.93,252.31 L1071.29,253.24 L1071.64,254.18 L1072,255.11 L1072.36,256.05 L1072.71,256.98 L1073.07,257.92 L1073.42,258.85 L1073.78,259.79 L1074.13,260.72 L1074.49,261.66 L1074.84,262.59 L1075.2,263.53 L1075.55,264.46 L1075.91,265.39 L1076.26,266.33 L1076.62,267.26 L1076.97,268.2 L1077.33,269.13 L1077.68,270.07 L1078.04,271 L1078.39,271.94 L1078.74,272.88 L1079.1,273.81 L1079.45,274.75 L1079.81,275.68 L1080.16,276.62 L1080.52,277.55 L1080.87,278.49 L1081.23,279.42 L1081.58,280.36 L1081.94,281.29 L1082.29,282.23 L1082.65,283.16 L1083,284.1 L1083.36,285.03 L1083.71,285.96 L1084.07,286.9 L1084.42,287.83 L1084.77,288.77 L1085.13,289.7 L1085.48,290.64 L1085.84,291.57 L1086.19,292.51 L1086.55,293.44 L1086.9,294.38 L1087.26,295.31 L1087.61,296.25 L1087.96,297.19 L1088.32,298.12 L1088.67,299.06 L1089.03,299.99 L1089.38,300.93 L1089.74,301.86 L1090.09,302.8 L1090.45,303.73 L1090.8,304.67 L1091.16,305.6 L1091.51,306.53 L1091.87,307.47 L1092.22,308.4 L1092.58,309.34 L1092.93,310.27 L1093.29,311.21 L1093.65,312.14 L1094,313.08 L1094.36,314.01 L1094.71,314.95 L1095.07,315.88 L1095.42,316.81 L1095.78,317.75 L1096.14,318.68 L1096.49,319.62 L1096.85,320.55 L1097.21,321.49 L1097.57,322.42 L1097.92,323.36 L1098.28,324.29 L1098.64,325.22 L1099,326.16 L1099.35,327.09 L1099.71,328.02 L1100.07,328.96 L1100.43,329.89 L1100.79,330.82 L1101.15,331.76 L1101.51,332.69 L1101.87,333.62 L1102.23,334.56 L1102.59,335.49 L1102.95,336.42 L1103.31,337.36 L1103.67,338.29 L1104.03,339.22 L1104.39,340.15 L1104.75,341.08 L1105.12,342.02 L1105.48,342.95 L1105.84,343.88 L1106.21,344.81 L1106.57,345.74 L1106.93,346.67 L1107.3,347.61 L1107.66,348.54 L1108.03,349.47 L1108.39,350.4 L1108.76,351.33 L1109.13,352.26 L1109.49,353.19 L1109.86,354.12 L1110.23,355.05 L1110.6,355.98 L1110.96,356.91 L1111.33,357.84 L1111.7,358.77 L1112.07,359.7 L1112.44,360.63 L1112.81,361.56 L1113.18,362.48 L1113.55,363.41 L1113.92,364.34 L1114.3,365.27 L1114.67,366.2 L1115.04,367.12 L1115.41,368.05 L1115.79,368.98 L1116.16,369.91 L1116.54,370.83 L1116.91,371.76 L1117.29,372.69 L1117.67,373.62 L1118.04,374.54 L1118.42,375.47 L1118.8,376.39 L1119.18,377.32 L1119.56,378.24 L1119.94,379.17 L1120.32,380.09 L1120.7,381.02 L1121.08,381.94 L1121.47,382.87 L1121.85,383.79 L1122.23,384.71 L1122.62,385.63 L1123.01,386.56 L1123.39,387.48 L1123.78,388.4 L1124.17,389.32 L1124.56,390.24 L1124.95,391.16 L1125.35,392.08 L1125.74,393 L1126.13,393.92 L1126.53,394.84 L1126.92,395.76 L1127.32,396.68 L1127.72,397.59 L1128.12,398.51 L1128.52,399.43 L1128.92,400.34 L1129.32,401.26 L1129.73,402.17 L1130.13,403.09 L1130.54,404 L1130.95,404.91 L1131.35,405.82 L1131.76,406.74 L1132.18,407.65 L1132.59,408.56 L1133,409.47 L1133.42,410.38 L1133.84,411.29 L1134.26,412.2 L1134.68,413.1 L1135.1,414.01 L1135.52,414.92 L1135.95,415.82 L1136.37,416.73 L1136.8,417.63 L1137.23,418.53 L1137.66,419.43 L1138.1,420.33 L1138.53,421.24 L1138.97,422.13 L1139.41,423.03 L1139.85,423.93 L1140.29,424.83 L1140.74,425.72 L1141.18,426.62 L1141.63,427.51 L1142.08,428.4 L1142.53,429.3 L1142.99,430.19 L1143.44,431.08 L1143.9,431.97 L1144.36,432.86 L1144.82,433.75 L1145.28,434.63 L1145.74,435.52 L1146.21,436.4 L1146.68,437.29 L1147.15,438.17 L1147.62,439.05 L1148.09,439.93 L1148.57,440.81 L1149.05,441.69 L1149.53,442.56 L1150.01,443.44 L1150.5,444.31 L1150.98,445.19 L1151.48,446.06 L1151.97,446.93 L1152.47,447.8 L1152.96,448.66 L1153.47,449.53 L1153.97,450.39 L1154.48,451.25 L1154.99,452.11 L1155.5,452.97 L1156.02,453.83 L1156.54,454.68 L1157.06,455.53 L1157.59,456.38 L1158.12,457.23 L1158.65,458.08 L1159.19,458.92 L1159.73,459.76 L1160.28,460.6 L1160.83,461.44 L1161.38,462.27 L1161.93,463.1 L1162.5,463.93 L1163.06,464.75 L1163.63,465.57 L1164.21,466.39 L1164.79,467.21 L1165.37,468.02 L1165.96,468.83 L1166.56,469.63 L1167.15,470.43 L1167.76,471.23 L1168.37,472.02 L1168.99,472.81 L1169.61,473.59 L1170.24,474.37 L1170.87,475.14 L1171.51,475.91 L1172.16,476.67 L1172.82,477.43 L1173.48,478.18 L1174.14,478.92 L1174.82,479.66 L1175.5,480.39 L1176.19,481.11 L1176.89,481.82 L1177.6,482.53 L1178.32,483.23 L1179.04,483.92 L1179.77,484.6 L1180.51,485.27 L1181.26,485.93 L1182.02,486.58 L1182.79,487.22 L1183.57,487.85 L1184.36,488.46 L1185.16,489.06 L1185.97,489.64 L1186.8,490.21 L1187.63,490.77 L1188.47,491.31 L1189.33,491.83 L1190.19,492.33 L1191.07,492.81 L1191.95,493.27 L1192.85,493.71 L1193.76,494.13 L1194.68,494.53 L1195.61,494.89 L1196.55,495.24 L1197.5,495.56 L1198.45,495.84 L1199.42,496.1 L1200.39,496.33 L1201.37,496.53 L1202.36,496.7 L1203.35,496.84 L1204.34,496.94 L1205.34,497.01 L1206.34,497.05 L1207.34,497.05 L1208.34,497.02 L1209.34,496.95 L1210.33,496.86 L1211.33,496.73 L1212.31,496.57 L1213.3,496.38 L1214.27,496.16 L1215.24,495.92 L1216.2,495.64 L1217.15,495.34 L1218.1,495.01 L1219.03,494.66 L1219.96,494.28 L1220.88,493.88 L1221.78,493.46 L1222.68,493.02 L1223.57,492.56 L1224.45,492.08 L1225.31,491.58 L1226.17,491.06 L1227.02,490.54 L1227.86,489.99 L1228.69,489.43 L1229.51,488.86 L1230.32,488.27 L1231.12,487.68 L1231.91,487.07 L1232.7,486.45 L1233.47,485.81 L1234.24,485.18 L1235,484.52 L1235.75,483.86 L1236.49,483.2 L1237.23,482.52 L1237.96,481.83 L1238.68,481.14 L1239.4,480.44 L1240.11,479.74 L1240.81,479.03 L1241.51,478.31 L1242.19,477.58 L1242.88,476.85 L1243.56,476.12 L1244.23,475.38 L1244.89,474.63 L1245.55,473.88 L1246.21,473.13 L1246.86,472.37 L1247.51,471.6 L1248.15,470.84 L1248.78,470.06 L1249.41,469.29 L1250.04,468.51 L1250.66,467.73 L1251.28,466.94 L1251.89,466.15 L1252.5,465.36 L1253.11,464.56 L1253.71,463.76 L1254.31,462.96 L1254.9,462.16 L1255.5,461.35 L1256.08,460.54 L1256.67,459.73 L1257.25,458.92 L1257.83,458.1 L1258.4,457.28 L1258.97,456.46 L1259.54,455.64 L1260.11,454.81 L1260.67,453.99 L1261.23,453.16 L1261.79,452.33 L1262.34,451.5 L1262.89,450.66 L1263.44,449.83 L1263.99,448.99 L1264.53,448.15 L1265.07,447.31 L1265.61,446.47 L1266.15,445.62 L1266.68,444.78 L1267.22,443.93 L1267.75,443.08 L1268.28,442.24 L1268.8,441.39 L1269.33,440.54 L1269.85,439.68 L1270.37,438.83 L1270.89,437.97 L1271.41,437.12 L1271.92,436.26 L1272.43,435.4 L1272.95,434.54 L1273.46,433.68 L1273.96,432.82 L1274.47,431.96 L1274.98,431.1 L1275.48,430.23 L1275.98,429.37 L1276.48,428.5 L1276.98,427.64 L1277.48,426.77 L1277.98,425.9 L1278.47,425.03 L1278.97,424.16 L1279.46,423.29 L1279.95,422.42 L1280.44,421.55 L1280.94,420.68 L1281.42,419.81 L1281.91,418.94 L1282.4,418.06 L1282.89,417.19 L1283.37,416.31 L1283.86,415.44 L1284.34,414.56 L1284.82,413.69 L1285.31,412.81 L1285.79,411.94 L1286.27,411.06 L1286.74,410.18 L1287.22,409.3 L1287.7,408.42 L1288.17,407.54 L1288.65,406.66 L1289.12,405.78 L1289.59,404.9 L1290.06,404.02 L1290.53,403.13 L1291,402.25 L1291.46,401.37 L1291.93,400.48 L1292.4,399.6 L1292.86,398.71 L1293.32,397.82 L1293.78,396.93 L1294.24,396.05 L1294.7,395.16 L1295.16,394.27 L1295.61,393.38 L1296.07,392.49 L1296.52,391.6 L1296.97,390.7 L1297.42,389.81 L1297.87,388.92 L1298.32,388.02 L1298.76,387.13 L1299.21,386.23 L1299.65,385.34 L1300.1,384.44 L1300.54,383.54 L1300.98,382.65 L1301.42,381.75 L1301.87,380.85 L1302.31,379.95 L1302.74,379.06 L1303.18,378.16 L1303.62,377.26 L1304.06,376.36 L1304.5,375.46 L1304.93,374.56 L1305.37,373.66 L1305.81,372.76 L1306.24,371.86 L1306.67,370.96 L1307.11,370.06 L1307.54,369.16 L1307.97,368.25 L1308.41,367.35 L1308.84,366.45 L1309.27,365.55 L1309.7,364.65 L1310.13,363.74 L1310.56,362.84 L1310.99,361.94 L1311.42,361.03 L1311.84,360.13 L1312.27,359.23 L1312.7,358.32 L1313.12,357.42 L1313.55,356.51 L1313.98,355.61 L1314.4,354.7 L1314.83,353.8 L1315.25,352.89 L1315.67,351.99 L1316.1,351.08 L1316.52,350.17 L1316.94,349.27 L1317.37,348.36 L1317.79,347.45 L1318.21,346.55 L1318.63,345.64 L1319.05,344.73 L1319.47,343.83 L1319.89,342.92 L1320.31,342.01 L1320.73,341.1 L1321.15,340.19 L1321.57,339.29 L1321.99,338.38 L1322.4,337.47 L1322.82,336.56 L1323.24,335.65 L1323.65,334.74 L1324.07,333.83 L1324.49,332.92 L1324.9,332.01 L1325.32,331.11 L1325.73,330.19 L1326.15,329.29 L1326.56,328.38 L1326.98,327.46 L1327.39,326.56 L1327.81,325.64 L1328.22,324.73 L1328.63,323.82 L1329.05,322.91 L1329.46,322 L1329.87,321.09 L1330.28,320.18 L1330.69,319.27 L1331.11,318.36 L1331.52,317.45 L1331.93,316.53 L1332.34,315.62 L1332.75,314.71 L1333.16,313.8 L1333.58,312.89 L1333.99,311.98 L1334.4,311.07 L1334.81,310.15 L1335.22,309.24 L1335.63,308.33 L1336.05,307.42 L1336.46,306.51 L1336.87,305.6 L1337.29,304.69 L1337.7,303.78 L1338.11,302.87 L1338.53,301.96 L1338.94,301.05 L1339.36,300.14 L1339.77,299.23 L1340.18,298.32 L1340.6,297.41 L1341.02,296.5 L1341.43,295.59 L1341.85,294.68 L1342.26,293.77 L1342.68,292.86 L1343.1,291.95 L1343.51,291.04 L1343.93,290.13 L1344.35,289.23 L1344.77,288.32 L1345.17,287.4 L1345.59,286.49 L1346.01,285.59 L1346.43,284.68 L1346.86,283.78 L1347.28,282.87 L1347.7,281.96 L1348.13,281.06 L1348.55,280.15 L1348.98,279.25 L1349.4,278.34 L1349.83,277.44 L1350.25,276.53 L1350.68,275.63 L1351.1,274.72 L1351.53,273.82 L1351.95,272.91 L1352.38,272.01 L1352.81,271.1 L1353.23,270.2 L1353.66,269.3 L1354.09,268.39 L1354.52,267.49 L1354.95,266.58 L1355.38,265.68 L1355.81,264.78 L1356.23,263.88 L1356.66,262.97 L1357.1,262.07 L1357.53,261.17 L1357.96,260.26 L1358.39,259.36 L1358.82,258.46 L1359.26,257.56 L1359.69,256.66 L1360.12,255.76 L1360.56,254.86 L1360.99,253.96 L1361.43,253.06 L1361.86,252.16 L1362.3,251.26 L1362.73,250.36 L1363.17,249.46 L1363.61,248.56 L1364.05,247.66 L1364.49,246.76 L1364.93,245.86 L1365.37,244.96 L1365.81,244.07 L1366.25,243.17 L1366.69,242.27 L1367.13,241.38 L1367.58,240.48 L1368.02,239.58 L1368.46,238.69 L1368.91,237.79 L1369.36,236.9 L1369.8,236 L1370.25,235.11 L1370.7,234.21 L1371.14,233.32 L1371.6,232.43 L1372.04,231.53 L1372.49,230.64 L1372.95,229.75 L1373.4,228.86 L1373.85,227.96 L1374.31,227.07 L1374.76,226.18 L1375.21,225.29 L1375.67,224.4 L1376.13,223.51 L1376.59,222.62 L1377.04,221.74 L1377.5,220.85 L1377.96,219.96 L1378.42,219.07 L1378.89,218.18 L1379.35,217.3 L1379.81,216.41 L1380.28,215.53 L1380.74,214.64 L1381.21,213.76 L1381.67,212.87 L1382.14,211.99 L1382.61,211.1 L1383.08,210.22 L1383.55,209.34 L1384.02,208.46 L1384.5,207.58 L1384.97,206.7 L1385.44,205.82 L1385.92,204.94 L1386.4,204.06 L1386.88,203.18 L1387.35,202.3 L1387.83,201.42 L1388.31,200.55 L1388.8,199.67 L1389.28,198.79 L1389.76,197.92 L1390.25,197.04 L1390.73,196.17 L1391.22,195.3 L1391.71,194.42 L1392.2,193.55 L1392.69,192.68 L1393.18,191.81 L1393.67,190.94 L1394.16,190.07 L1394.66,189.2 L1395.15,188.33 L1395.65,187.46 L1396.15,186.6 L1396.65,185.73 L1397.15,184.86 L1397.65,184 L1398.15,183.13 L1398.66,182.27 L1399.16,181.41 L1399.67,180.54 L1400.17,179.68 L1400.68,178.82 L1401.19,177.96 L1401.7,177.1 L1402.22,176.24 L1402.73,175.39 L1403.25,174.53 L1403.76,173.67 L1404.28,172.82 L1404.8,171.96 L1405.32,171.11 L1405.84,170.25 L1406.36,169.4 L1406.89,168.55 L1407.41,167.7 L1407.94,166.85 L1408.47,166 L1408.99,165.15 L1409.53,164.3 L1410.06,163.46 L1410.59,162.61 L1411.13,161.76 L1411.66,160.92 L1412.2,160.08 L1412.74,159.24 L1413.28,158.39 L1413.82,157.55 L1414.36,156.71 L1414.91,155.87 L1415.45,155.04 L1416,154.2 L1416.55,153.36 L1417.1,152.53 L1417.65,151.69 L1418.2,150.86 L1418.76,150.03 L1419.31,149.2 L1419.87,148.37 L1420.43,147.54 L1420.99,146.71 L1421.55,145.88 L1422.12,145.06 L1422.68,144.23 L1423.25,143.41 L1423.82,142.58 L1424.38,141.76 L1424.96,140.94 L1425.53,140.12 L1426.1,139.3 L1426.68,138.49 L1427.26,137.67 L1427.84,136.85 L1428.42,136.04 L1429,135.23 L1429.59,134.42 L1430.17,133.61 L1430.76,132.8 L1431.35,131.99 L1431.94,131.18 L1432.53,130.38 L1433.13,129.58 L1433.73,128.77 L1434.33,127.97 L1434.93,127.17 L1435.53,126.38 L1436.14,125.58 L1436.74,124.79 L1437.35,123.99 L1437.96,123.2 L1438.58,122.41 L1439.19,121.62 L1439.81,120.84 L1440.43,120.05 L1441.05,119.27 L1441.67,118.48 L1442.3,117.7 L1442.92,116.93 L1443.56,116.15 L1444.19,115.38 L1444.82,114.6 L1445.46,113.83 L1446.1,113.06 L1446.74,112.29 L1447.38,111.53 L1448.03,110.76 L1448.67,110 L1449.33,109.24 L1449.98,108.48 L1450.63,107.73 L1451.29,106.97 L1451.95,106.22 L1452.61,105.47 L1453.28,104.73 L1453.94,103.98 L1454.61,103.24 L1455.28,102.5 L1455.96,101.76 L1456.63,101.02 L1457.31,100.29 L1457.99,99.56 L1458.68,98.83 L1459.37,98.1 L1460.06,97.38 L1460.75,96.66 L1461.44,95.94 L1462.14,95.22 L1462.84,94.5 L1463.54,93.79 L1464.25,93.08 L1464.95,92.38 L1465.66,91.67 L1466.38,90.97 L1467.1,90.28 L1467.81,89.58 L1468.53,88.89 L1469.26,88.2 L1469.98,87.51 L1470.71,86.83 L1471.45,86.14 L1472.18,85.47 L1472.92,84.79 L1473.66,84.12 L1474.4,83.45 L1475.15,82.79 L1475.9,82.12 L1476.65,81.46 L1477.41,80.81 L1478.16,80.16 L1478.92,79.51 L1479.69,78.86 L1480.45,78.22 L1481.22,77.58 L1481.99,76.94 L1482.77,76.31 L1483.55,75.68 L1484.33,75.06 L1485.11,74.44 L1485.9,73.82 L1486.69,73.2 L1487.48,72.59 L1488.28,71.99 L1489.07,71.39 L1489.88,70.79 L1490.68,70.19 L1491.49,69.6 L1492.3,69.02 L1493.11,68.44 L1493.93,67.86 L1494.74,67.28 L1495.57,66.71 L1496.39,66.15 L1497.22,65.59 L1498.05,65.03 L1498.88,64.48 L1499.72,63.93 L1500.56,63.39 L1501.4,62.85 L1502.25,62.32 L1503.1,61.79 L1503.95,61.26 L1504.8,60.74 L1505.66,60.23 L1506.52,59.72 L1507.38,59.21 L1508.25,58.71 L1509.12,58.22 L1509.99,57.73 L1510.86,57.24 L1511.74,56.76 L1512.62,56.29 L1513.5,55.82 L1514.39,55.35 L1515.28,54.89 L1516.17,54.44 L1517.06,53.99 L1517.96,53.55 L1518.86,53.11 L1519.76,52.68 L1520.67,52.25 L1521.57,51.83 L1522.48,51.42 L1523.4,51.01 L1524.31,50.61 L1525.23,50.21 L1526.15,49.82 L1527.07,49.43 L1528,49.05 L1528.92,48.68 L1529.85,48.31 L1530.79,47.95 L1531.72,47.59 L1532.66,47.24 L1533.6,46.9 L1534.54,46.56 L1535.48,46.23 L1536.42,45.9 L1537.37,45.58 L1538.32,45.27 L1539.27,44.96 L1540.23,44.68 L1541.19,44.39 L1542.15,44.1 L1543.11,43.82 L1544.07,43.55 L1545.04,43.29 L1546,43.03 L1546.97,42.78 L1547.94,42.53 L1548.91,42.3 L1549.88,42.07 L1550.86,41.85 L1551.84,41.63 L1552.82,41.43 L1553.8,41.23 L1554.78,41.04 L1555.76,40.85 L1556.74,40.68 L1557.73,40.51 L1558.72,40.35 L1559.7,40.2 L1560.69,40.05 L1561.68,39.91 L1562.68,39.78 L1563.67,39.65 L1564.66,39.53 L1565.65,39.42 L1566.65,39.31 L1567.64,39.2 L1568.64,39.1 L1569.63,39.01 L1570.63,38.92 L1571.63,38.84 L1572.62,38.76 L1573.62,38.69 L1574.62,38.62 L1575.62,38.55 L1576.61,38.48 L1577.61,38.42 L1578.61,38.36 L1579.61,38.31 L1580.61,38.26 L1581.61,38.2 L1582.6,38.15 L1583.6,38.09 L1584.6,38.04 L1585.6,37.98 L1586.6,37.93 L1587.6,37.88 L1588.6,37.83 L1589.6,37.79 L1590.59,37.75 L1591.59,37.72 L1592.59,37.69 L1593.59,37.67 L1594.59,37.66 L1595.59,37.66 L1596.59,37.66 L1597.59,37.68 L1598.59,37.71 L1599.59,37.75 L1600.59,37.79 L1601.59,37.85 L1602.59,37.9 L1603.59,37.96 L1604.58,38.02 L1605.58,38.09 L1606.58,38.16 L1607.58,38.23 L1608.57,38.3 L1609.57,38.38 L1610.57,38.46 L1611.56,38.54 L1612.56,38.63 L1613.56,38.72 L1614.55,38.81 L1615.55,38.9 L1616.54,39 L1617.54,39.1 L1618.53,39.2 L1619.53,39.3 L1620.52,39.41 L1621.52,39.52 L1622.51,39.63 L1623.5,39.74 L1624.5,39.86 L1625.49,39.98 L1626.48,40.1 L1627.47,40.22 L1628.47,40.34 L1629.46,40.47 L1630.45,40.6 L1631.44,40.73 L1632.43,40.86 L1633.42,40.99 L1634.41,41.13 L1635.41,41.27 L1636.4,41.41 L1637.39,41.55 L1638.38,41.69 L1639.37,41.83 L1640.36,41.98 L1641.34,42.12 L1642.33,42.27 L1643.32,42.42 L1644.31,42.57 L1645.3,42.73 L1646.29,42.88 L1647.28,43.03 L1648.26,43.19 L1649.25,43.35 L1650.24,43.51 L1651.22,43.66 L1652.21,43.83 L1653.2,43.99 L1654.18,44.15 L1655.17,44.31 L1656.16,44.48 L1657.14,44.65 L1658.13,44.81 L1659.12,44.98 L1660.1,45.15 L1661.09,45.32 L1662.07,45.49 L1663.06,45.66 L1664.04,45.83 L1665.03,46 L1666.01,46.18 L1667,46.35 L1667.98,46.52 L1668.97,46.7 L1669.95,46.87 L1670.94,47.05 L1671.92,47.23 L1672.9,47.4 L1673.89,47.58 L1674.87,47.76 L1675.86,47.94 L1676.84,48.12 L1677.83,48.29 L1678.81,48.47 L1679.79,48.65 L1680.78,48.83 L1681.76,49.01 L1682.74,49.19 L1683.73,49.37 L1684.71,49.55 L1685.69,49.73 L1686.68,49.91 L1687.66,50.08 L1688.65,50.26 L1689.63,50.44 L1690.62,50.62 L1691.6,50.8 L1692.58,50.98 L1693.57,51.16 L1694.55,51.33 L1695.54,51.51 L1696.52,51.69 L1697.5,51.87 L1698.49,52.05 L1699.47,52.22 L1700.45,52.4 L1701.44,52.58 L1702.42,52.75 L1703.41,52.93 L1704.39,53.1 L1705.38,53.28 L1706.36,53.45 L1707.35,53.63 L1708.33,53.8 L1709.32,53.97 L1710.3,54.15 L1711.29,54.32 L1712.27,54.49 L1713.26,54.66 L1714.24,54.84 L1715.23,55.01 L1716.21,55.18 L1717.2,55.35 L1718.18,55.52 L1719.17,55.69 L1720.15,55.85 L1721.14,56.02 L1722.13,56.19 L1723.11,56.35 L1724.1,56.52 L1725.09,56.69 L1726.07,56.85 L1727.06,57.02 L1728.04,57.18 L1729.03,57.35 L1730.02,57.51 L1731,57.68 L1731.99,57.84 L1732.97,58.01 L1733.96,58.17 L1734.95,58.34 L1735.93,58.51 L1736.92,58.67 L1737.91,58.83 L1738.89,59 L1739.88,59.16 L1740.87,59.33 L1741.85,59.49 L1742.84,59.65 L1743.83,59.81 L1744.81,59.98 L1745.8,60.14 L1746.79,60.3 L1747.77,60.46 L1748.76,60.62 L1749.75,60.78 L1750.73,60.94 L1751.72,61.1 L1752.71,61.26 L1753.7,61.42 L1754.68,61.57 L1755.67,61.73 L1756.66,61.89 L1757.65,62.04 L1758.63,62.2 L1759.62,62.35 L1760.61,62.51 L1761.6,62.66 L1762.59,62.81 L1763.58,62.96 L1764.57,63.11 L1765.55,63.26 L1766.54,63.41 L1767.53,63.56 L1768.52,63.71 L1769.51,63.86 L1770.5,64 L1771.49,64.15 L1772.48,64.29 L1773.47,64.44 L1774.46,64.58 L1775.45,64.72 L1776.44,64.86 L1777.43,65 L1778.42,65.14 L1779.41,65.28 L1780.4,65.42 L1781.39,65.56 L1782.38,65.7 L1783.37,65.84 L1784.36,65.98 L1785.35,66.12 L1786.34,66.25 L1787.33,66.39 L1788.32,66.53 L1789.31,66.66 L1790.3,66.8 L1791.29,66.94 L1792.28,67.07 L1793.28,67.2 L1794.27,67.34 L1795.26,67.47 L1796.25,67.6 L1797.24,67.73 L1798.23,67.87 L1799.22,68 L1800.21,68.13 L1801.2,68.26 L1802.2,68.39 L1803.19,68.52 L1804.18,68.64 L1805.17,68.77 L1806.16,68.9 L1807.15,69.03 L1808.15,69.15 L1809.14,69.28 L1810.13,69.4 L1811.12,69.52 L1812.12,69.65 L1813.11,69.77 L1814.1,69.89 L1815.09,70.01 L1816.09,70.13 L1817.08,70.25 L1817.6,70.31" stroke="#ff0000"/>
<path d="M1012.05,75.05 L1012.24,76.03 L1012.42,77.02 L1012.61,78 L1012.79,78.98 L1012.98,79.96 L1013.17,80.94 L1013.36,81.93 L1013.55,82.91 L1013.74,83.89 L1013.93,84.87 L1014.12,85.85 L1014.31,86.83 L1014.5,87.82 L1014.69,88.8 L1014.89,89.78 L1015.08,90.76 L1015.28,91.74 L1015.47,92.72 L1015.67,93.7 L1015.87,94.68 L1016.06,95.66 L1016.26,96.64 L1016.46,97.62 L1016.66,98.6 L1016.86,99.58 L1017.06,100.56 L1017.26,101.54 L1017.47,102.52 L1017.67,103.5 L1017.87,104.48 L1018.08,105.46 L1018.28,106.44 L1018.49,107.42 L1018.69,108.39 L1018.9,109.37 L1019.11,110.35 L1019.32,111.33 L1019.53,112.31 L1019.74,113.28 L1019.95,114.26 L1020.16,115.24 L1020.37,116.22 L1020.58,117.19 L1020.8,118.17 L1021.01,119.15 L1021.23,120.12 L1021.44,121.1 L1021.66,122.08 L1021.87,123.05 L1022.09,124.03 L1022.31,125 L1022.53,125.98 L1022.75,126.96 L1022.97,127.93 L1023.19,128.91 L1023.41,129.88 L1023.64,130.86 L1023.86,131.83 L1024.08,132.81 L1024.31,133.78 L1024.54,134.75 L1024.76,135.73 L1024.99,136.7 L1025.22,137.68 L1025.44,138.65 L1025.67,139.62 L1025.9,140.6 L1026.13,141.57 L1026.37,142.54 L1026.6,143.51 L1026.83,144.49 L1027.07,145.46 L1027.3,146.43 L1027.54,147.4 L1027.77,148.38 L1028.01,149.35 L1028.25,150.32 L1028.48,151.29 L1028.72,152.26 L1028.96,153.23 L1029.2,154.2 L1029.44,155.17 L1029.69,156.14 L1029.93,157.11 L1030.17,158.08 L1030.42,159.05 L1030.66,160.02 L1030.91,160.99 L1031.15,161.96 L1031.4,162.93 L1031.65,163.9 L1031.9,164.87 L1032.15,165.84 L1032.4,166.8 L1032.65,167.77 L1032.9,168.74 L1033.15,169.71 L1033.4,170.67 L1033.66,171.64 L1033.91,172.61 L1034.17,173.57 L1034.42,174.54 L1034.68,175.51 L1034.94,176.47 L1035.2,177.44 L1035.46,178.41 L1035.72,179.37 L1035.98,180.34 L1036.24,181.3 L1036.5,182.27 L1036.76,183.23 L1037.03,184.2 L1037.29,185.16 L1037.55,186.13 L1037.82,187.09 L1038.09,188.05 L1038.35,189.02 L1038.62,189.98 L1038.89,190.94 L1039.16,191.91 L1039.43,192.87 L1039.7,193.83 L1039.97,194.8 L1040.24,195.76 L1040.51,196.72 L1040.79,197.68 L1041.06,198.64 L1041.34,199.61 L1041.61,200.57 L1041.89,201.53 L1042.16,202.49 L1042.44,203.45 L1042.72,204.41 L1043,205.37 L1043.28,206.33 L1043.56,207.29 L1043.84,208.25 L1044.12,209.21 L1044.4,210.17 L1044.68,211.13 L1044.97,212.09 L1045.25,213.05 L1045.54,214 L1045.82,214.96 L1046.11,215.92 L1046.4,216.88 L1046.69,217.84 L1046.98,218.79 L1047.27,219.75 L1047.56,220.71 L1047.85,221.66 L1048.15,222.62 L1048.44,223.57 L1048.74,224.53 L1049.03,225.48 L1049.33,226.44 L1049.63,227.39 L1049.93,228.35 L1050.23,229.3 L1050.54,230.25 L1050.84,231.21 L1051.14,232.16 L1051.45,233.11 L1051.75,234.06 L1052.06,235.02 L1052.37,235.97 L1052.67,236.92 L1052.98,237.87 L1053.3,238.82 L1053.61,239.77 L1053.92,240.72 L1054.23,241.67 L1054.54,242.62 L1054.86,243.57 L1055.17,244.52 L1055.49,245.47 L1055.81,246.42 L1056.12,247.36 L1056.44,248.31 L1056.76,249.26 L1057.08,250.21 L1057.4,251.16 L1057.72,252.1 L1058.04,253.05 L1058.36,254 L1058.68,254.94 L1059.01,255.89 L1059.33,256.83 L1059.66,257.78 L1059.98,258.73 L1060.31,259.67 L1060.63,260.62 L1060.96,261.56 L1061.29,262.51 L1061.62,263.45 L1061.94,264.4 L1062.27,265.34 L1062.6,266.29 L1062.93,267.23 L1063.26,268.17 L1063.59,269.12 L1063.92,270.06 L1064.26,271 L1064.59,271.95 L1064.92,272.89 L1065.25,273.83 L1065.59,274.78 L1065.92,275.72 L1066.26,276.66 L1066.59,277.6 L1066.92,278.55 L1067.26,279.49 L1067.6,280.43 L1067.93,281.37 L1068.27,282.31 L1068.61,283.25 L1068.94,284.2 L1069.28,285.14 L1069.62,286.08 L1069.95,287.02 L1070.29,287.96 L1070.63,288.9 L1070.97,289.84 L1071.31,290.79 L1071.65,291.73 L1071.99,292.67 L1072.33,293.61 L1072.67,294.55 L1073.01,295.49 L1073.36,296.42 L1073.7,297.36 L1074.04,298.3 L1074.39,299.24 L1074.73,300.18 L1075.08,301.12 L1075.43,302.06 L1075.77,302.99 L1076.12,303.93 L1076.47,304.87 L1076.82,305.81 L1077.17,306.74 L1077.52,307.68 L1077.87,308.62 L1078.22,309.55 L1078.57,310.49 L1078.92,311.42 L1079.28,312.36 L1079.63,313.3 L1079.98,314.23 L1080.34,315.17 L1080.69,316.1 L1081.05,317.04 L1081.41,317.97 L1081.76,318.9 L1082.12,319.84 L1082.48,320.77 L1082.84,321.7 L1083.19,322.64 L1083.55,323.57 L1083.91,324.5 L1084.27,325.44 L1084.63,326.37 L1084.99,327.3 L1085.36,328.24 L1085.72,329.17 L1086.08,330.1 L1086.44,331.03 L1086.81,331.96 L1087.17,332.89 L1087.54,333.82 L1087.9,334.76 L1088.27,335.69 L1088.63,336.62 L1089,337.55 L1089.37,338.48 L1089.73,339.41 L1090.1,340.34 L1090.47,341.27 L1090.84,342.2 L1091.21,343.13 L1091.58,344.06 L1091.95,344.99 L1092.32,345.91 L1092.69,346.84 L1093.06,347.77 L1093.44,348.7 L1093.81,349.63 L1094.18,350.55 L1094.56,351.48 L1094.93,352.41 L1095.31,353.33 L1095.68,354.26 L1096.06,355.19 L1096.43,356.12 L1096.81,357.04 L1097.19,357.97 L1097.57,358.89 L1097.94,359.82 L1098.32,360.74 L1098.7,361.67 L1099.08,362.59 L1099.46,363.52 L1099.84,364.44 L1100.23,365.37 L1100.61,366.29 L1100.99,367.22 L1101.37,368.14 L1101.76,369.06 L1102.14,369.99 L1102.53,370.91 L1102.91,371.83 L1103.3,372.75 L1103.68,373.68 L1104.07,374.6 L1104.45,375.52 L1104.84,376.45 L1105.22,377.37 L1105.61,378.29 L1106,379.21 L1106.38,380.14 L1106.77,381.06 L1107.16,381.98 L1107.55,382.9 L1107.93,383.82 L1108.32,384.75 L1108.71,385.67 L1109.1,386.59 L1109.49,387.51 L1109.88,388.43 L1110.27,389.35 L1110.66,390.27 L1111.06,391.19 L1111.45,392.11 L1111.85,393.02 L1112.24,393.94 L1112.64,394.86 L1113.04,395.78 L1113.44,396.69 L1113.84,397.61 L1114.25,398.52 L1114.65,399.44 L1115.06,400.35 L1115.46,401.27 L1115.86,402.18 L1116.27,403.1 L1116.67,404.01 L1117.07,404.93 L1117.47,405.85 L1117.88,406.76 L1118.28,407.68 L1118.68,408.59 L1119.08,409.51 L1119.49,410.42 L1119.89,411.33 L1120.3,412.25 L1120.71,413.16 L1121.12,414.07 L1121.53,414.99 L1121.94,415.9 L1122.36,416.81 L1122.78,417.71 L1123.2,418.62 L1123.62,419.53 L1124.04,420.43 L1124.47,421.34 L1124.9,422.24 L1125.34,423.14 L1125.78,424.04 L1126.22,424.93 L1126.67,425.83 L1127.12,426.72 L1127.58,427.61 L1128.04,428.5 L1128.5,429.38 L1128.97,430.27 L1129.44,431.15 L1129.91,432.03 L1130.39,432.91 L1130.87,433.79 L1131.36,434.66 L1131.84,435.53 L1132.33,436.41 L1132.83,437.27 L1133.33,438.14 L1133.83,439.01 L1134.33,439.87 L1134.84,440.73 L1135.35,441.59 L1135.87,442.45 L1136.39,443.3 L1136.91,444.15 L1137.44,445 L1137.97,445.85 L1138.5,446.7 L1139.04,447.54 L1139.58,448.38 L1140.13,449.22 L1140.68,450.06 L1141.23,450.89 L1141.79,451.72 L1142.35,452.54 L1142.92,453.37 L1143.49,454.19 L1144.07,455 L1144.64,455.82 L1145.23,456.63 L1145.81,457.44 L1146.4,458.25 L1147,459.06 L1147.6,459.86 L1148.2,460.65 L1148.81,461.45 L1149.42,462.24 L1150.04,463.02 L1150.67,463.8 L1151.3,464.58 L1151.94,465.35 L1152.58,466.11 L1153.23,466.87 L1153.89,467.62 L1154.56,468.37 L1155.23,469.11 L1155.91,469.84 L1156.6,470.57 L1157.29,471.29 L1158,472 L1158.71,472.7 L1159.44,473.39 L1160.17,474.07 L1160.91,474.74 L1161.67,475.39 L1162.43,476.04 L1163.2,476.67 L1163.99,477.29 L1164.78,477.9 L1165.59,478.49 L1166.41,479.06 L1167.24,479.62 L1168.08,480.16 L1168.94,480.68 L1169.8,481.18 L1170.68,481.65 L1171.57,482.11 L1172.47,482.54 L1173.39,482.95 L1174.31,483.33 L1175.25,483.69 L1176.19,484.01 L1177.15,484.31 L1178.11,484.58 L1179.08,484.81 L1180.06,485.02 L1181.05,485.19 L1182.04,485.33 L1183.03,485.43 L1184.03,485.5 L1185.03,485.54 L1186.03,485.54 L1187.03,485.5 L1188.03,485.44 L1189.02,485.34 L1190.01,485.2 L1191,485.04 L1191.98,484.85 L1192.95,484.62 L1193.92,484.37 L1194.88,484.1 L1195.84,483.79 L1196.78,483.47 L1197.72,483.12 L1198.64,482.74 L1199.56,482.35 L1200.47,481.93 L1201.37,481.5 L1202.27,481.05 L1203.15,480.58 L1204.02,480.09 L1204.89,479.59 L1205.74,479.07 L1206.59,478.54 L1207.43,478 L1208.26,477.44 L1209.09,476.88 L1209.9,476.3 L1210.71,475.71 L1211.51,475.1 L1212.3,474.49 L1213.08,473.87 L1213.86,473.25 L1214.63,472.61 L1215.39,471.96 L1216.15,471.31 L1216.9,470.65 L1217.65,469.98 L1218.38,469.3 L1219.12,468.62 L1219.84,467.93 L1220.56,467.24 L1221.28,466.54 L1221.98,465.83 L1222.69,465.12 L1223.39,464.41 L1224.08,463.69 L1224.77,462.96 L1225.45,462.23 L1226.13,461.5 L1226.8,460.76 L1227.47,460.01 L1228.13,459.26 L1228.79,458.51 L1229.45,457.76 L1230.1,457 L1230.74,456.23 L1231.38,455.47 L1232.02,454.69 L1232.65,453.92 L1233.28,453.14 L1233.91,452.36 L1234.53,451.58 L1235.15,450.79 L1235.76,450 L1236.37,449.21 L1236.97,448.41 L1237.58,447.61 L1238.17,446.81 L1238.77,446.01 L1239.36,445.2 L1239.94,444.39 L1240.52,443.58 L1241.11,442.76 L1241.68,441.95 L1242.26,441.13 L1242.83,440.31 L1243.4,439.48 L1243.96,438.66 L1244.53,437.83 L1245.08,437 L1245.64,436.17 L1246.2,435.34 L1246.75,434.51 L1247.3,433.67 L1247.85,432.84 L1248.39,432 L1248.93,431.16 L1249.47,430.31 L1250.01,429.47 L1250.55,428.63 L1251.08,427.78 L1251.61,426.94 L1252.14,426.08 L1252.67,425.24 L1253.19,424.38 L1253.71,423.53 L1254.23,422.68 L1254.75,421.82 L1255.27,420.97 L1255.78,420.11 L1256.3,419.25 L1256.81,418.39 L1257.31,417.53 L1257.82,416.67 L1258.33,415.8 L1258.83,414.94 L1259.33,414.07 L1259.83,413.21 L1260.33,412.34 L1260.82,411.47 L1261.31,410.6 L1261.81,409.73 L1262.3,408.86 L1262.79,407.99 L1263.27,407.11 L1263.76,406.24 L1264.24,405.37 L1264.73,404.49 L1265.21,403.61 L1265.69,402.74 L1266.17,401.86 L1266.64,400.98 L1267.12,400.1 L1267.59,399.22 L1268.07,398.34 L1268.54,397.45 L1269.01,396.57 L1269.48,395.69 L1269.94,394.8 L1270.41,393.92 L1270.87,393.03 L1271.34,392.15 L1271.8,391.26 L1272.26,390.37 L1272.71,389.48 L1273.17,388.59 L1273.63,387.7 L1274.08,386.81 L1274.54,385.92 L1274.99,385.03 L1275.44,384.14 L1275.89,383.25 L1276.34,382.35 L1276.79,381.46 L1277.24,380.57 L1277.69,379.67 L1278.13,378.78 L1278.58,377.88 L1279.02,376.98 L1279.46,376.09 L1279.91,375.19 L1280.35,374.29 L1280.79,373.39 L1281.23,372.5 L1281.66,371.6 L1282.1,370.7 L1282.54,369.8 L1282.98,368.9 L1283.41,368 L1283.85,367.1 L1284.28,366.2 L1284.72,365.3 L1285.15,364.4 L1285.58,363.5 L1286.02,362.6 L1286.45,361.69 L1286.88,360.79 L1287.31,359.89 L1287.74,358.99 L1288.17,358.08 L1288.6,357.18 L1289.03,356.28 L1289.46,355.37 L1289.89,354.47 L1290.32,353.57 L1290.74,352.66 L1291.17,351.76 L1291.6,350.85 L1292.03,349.95 L1292.45,349.05 L1292.88,348.14 L1293.31,347.24 L1293.73,346.33 L1294.16,345.43 L1294.59,344.52 L1295.01,343.62 L1295.44,342.71 L1295.86,341.81 L1296.29,340.9 L1296.71,340 L1297.14,339.09 L1297.57,338.19 L1297.99,337.29 L1298.42,336.38 L1298.85,335.48 L1299.27,334.57 L1299.7,333.67 L1300.12,332.76 L1300.55,331.86 L1300.98,330.95 L1301.4,330.05 L1301.83,329.14 L1302.26,328.24 L1302.68,327.34 L1303.11,326.43 L1303.54,325.53 L1303.96,324.62 L1304.39,323.72 L1304.81,322.81 L1305.24,321.91 L1305.66,321 L1306.09,320.1 L1306.51,319.19 L1306.94,318.29 L1307.36,317.38 L1307.79,316.48 L1308.21,315.57 L1308.64,314.66 L1309.06,313.76 L1309.49,312.85 L1309.91,311.95 L1310.33,311.04 L1310.76,310.14 L1311.18,309.23 L1311.61,308.32 L1312.03,307.42 L1312.45,306.51 L1312.88,305.61 L1313.3,304.7 L1313.73,303.8 L1314.15,302.89 L1314.58,301.99 L1315,301.08 L1315.43,300.18 L1315.85,299.27 L1316.28,298.37 L1316.7,297.46 L1317.13,296.56 L1317.55,295.65 L1317.98,294.75 L1318.41,293.84 L1318.83,292.94 L1319.26,292.03 L1319.68,291.13 L1320.11,290.22 L1320.54,289.32 L1320.96,288.41 L1321.39,287.51 L1321.82,286.61 L1322.24,285.7 L1322.67,284.8 L1323.1,283.89 L1323.53,282.99 L1323.96,282.09 L1324.38,281.18 L1324.81,280.28 L1325.24,279.38 L1325.67,278.47 L1326.1,277.57 L1326.53,276.67 L1326.96,275.76 L1327.39,274.86 L1327.82,273.96 L1328.25,273.06 L1328.68,272.15 L1329.11,271.25 L1329.55,270.35 L1329.98,269.45 L1330.41,268.55 L1330.84,267.64 L1331.28,266.74 L1331.71,265.84 L1332.14,264.94 L1332.58,264.04 L1333.01,263.14 L1333.44,262.24 L1333.88,261.34 L1334.32,260.44 L1334.75,259.54 L1335.19,258.64 L1335.62,257.74 L1336.06,256.84 L1336.5,255.94 L1336.94,255.04 L1337.37,254.14 L1337.81,253.24 L1338.25,252.34 L1338.69,251.44 L1339.13,250.55 L1339.57,249.65 L1340.01,248.75 L1340.45,247.85 L1340.89,246.96 L1341.34,246.06 L1341.78,245.16 L1342.22,244.27 L1342.67,243.37 L1343.11,242.47 L1343.56,241.58 L1344,240.68 L1344.44,239.79 L1344.89,238.89 L1345.34,238 L1345.78,237.1 L1346.23,236.21 L1346.68,235.32 L1347.13,234.42 L1347.58,233.53 L1348.03,232.64 L1348.48,231.74 L1348.93,230.85 L1349.38,229.96 L1349.83,229.07 L1350.29,228.18 L1350.74,227.28 L1351.19,226.39 L1351.65,225.5 L1352.1,224.61 L1352.56,223.72 L1353.02,222.83 L1353.47,221.94 L1353.93,221.05 L1354.39,220.16 L1354.85,219.28 L1355.31,218.39 L1355.77,217.5 L1356.23,216.61 L1356.69,215.73 L1357.15,214.84 L1357.62,213.95 L1358.08,213.07 L1358.55,212.18 L1359.01,211.3 L1359.48,210.41 L1359.95,209.53 L1360.41,208.65 L1360.88,207.76 L1361.35,206.88 L1361.82,206 L1362.29,205.11 L1362.77,204.23 L1363.24,203.35 L1363.71,202.47 L1364.18,201.59 L1364.66,200.71 L1365.14,199.83 L1365.61,198.95 L1366.09,198.07 L1366.57,197.19 L1367.05,196.32 L1367.53,195.44 L1368.01,194.56 L1368.49,193.69 L1368.97,192.81 L1369.46,191.94 L1369.94,191.06 L1370.43,190.19 L1370.91,189.31 L1371.4,188.44 L1371.89,187.57 L1372.38,186.69 L1372.87,185.82 L1373.36,184.95 L1373.85,184.08 L1374.35,183.21 L1374.84,182.34 L1375.34,181.47 L1375.83,180.61 L1376.33,179.74 L1376.83,178.87 L1377.33,178 L1377.83,177.14 L1378.33,176.28 L1378.83,175.41 L1379.34,174.55 L1379.84,173.68 L1380.35,172.82 L1380.86,171.96 L1381.37,171.1 L1381.88,170.24 L1382.39,169.38 L1382.9,168.52 L1383.41,167.66 L1383.93,166.8 L1384.44,165.95 L1384.96,165.09 L1385.48,164.24 L1385.99,163.38 L1386.52,162.53 L1387.04,161.67 L1387.56,160.82 L1388.09,159.97 L1388.61,159.12 L1389.14,158.27 L1389.67,157.42 L1390.19,156.57 L1390.73,155.72 L1391.26,154.88 L1391.79,154.03 L1392.33,153.19 L1392.86,152.34 L1393.4,151.5 L1393.94,150.66 L1394.48,149.82 L1395.03,148.98 L1395.57,148.14 L1396.11,147.3 L1396.66,146.46 L1397.21,145.63 L1397.76,144.79 L1398.31,143.96 L1398.87,143.13 L1399.42,142.29 L1399.98,141.46 L1400.54,140.63 L1401.1,139.81 L1401.66,138.98 L1402.22,138.15 L1402.79,137.33 L1403.36,136.5 L1403.92,135.68 L1404.5,134.86 L1405.07,134.04 L1405.64,133.22 L1406.22,132.41 L1406.8,131.59 L1407.38,130.78 L1407.96,129.96 L1408.54,129.15 L1409.13,128.34 L1409.72,127.53 L1410.31,126.72 L1410.9,125.92 L1411.49,125.11 L1412.09,124.31 L1412.68,123.51 L1413.28,122.71 L1413.88,121.91 L1414.49,121.11 L1415.09,120.31 L1415.7,119.52 L1416.31,118.73 L1416.92,117.94 L1417.54,117.15 L1418.15,116.36 L1418.77,115.58 L1419.39,114.79 L1420.02,114.01 L1420.64,113.23 L1421.27,112.45 L1421.9,111.67 L1422.53,110.9 L1423.17,110.12 L1423.8,109.35 L1424.44,108.58 L1425.09,107.82 L1425.73,107.05 L1426.38,106.29 L1427.02,105.53 L1427.67,104.77 L1428.33,104.01 L1428.98,103.26 L1429.64,102.51 L1430.31,101.76 L1430.97,101.01 L1431.63,100.26 L1432.3,99.52 L1432.97,98.78 L1433.65,98.04 L1434.33,97.3 L1435.01,96.57 L1435.69,95.84 L1436.37,95.11 L1437.06,94.38 L1437.75,93.66 L1438.44,92.94 L1439.14,92.22 L1439.84,91.51 L1440.54,90.79 L1441.24,90.08 L1441.95,89.38 L1442.66,88.67 L1443.37,87.97 L1444.09,87.27 L1444.81,86.58 L1445.53,85.89 L1446.25,85.19 L1446.98,84.51 L1447.71,83.83 L1448.45,83.15 L1449.18,82.47 L1449.92,81.8 L1450.66,81.13 L1451.41,80.46 L1452.16,79.8 L1452.91,79.14 L1453.66,78.48 L1454.42,77.83 L1455.18,77.18 L1455.94,76.53 L1456.71,75.88 L1457.46,75.23 L1458.21,74.57 L1458.96,73.91 L1459.71,73.24 L1460.45,72.57 L1461.2,71.9 L1461.94,71.23 L1462.68,70.57 L1463.43,69.9 L1464.17,69.23 L1464.92,68.57 L1465.67,67.91 L1466.43,67.25 L1467.19,66.6 L1467.95,65.96 L1468.72,65.32 L1469.5,64.69 L1470.28,64.07 L1471.07,63.46 L1471.87,62.86 L1472.68,62.27 L1473.5,61.69 L1474.33,61.13 L1475.16,60.58 L1476,60.04 L1476.84,59.5 L1477.69,58.97 L1478.54,58.44 L1479.39,57.92 L1480.25,57.4 L1481.11,56.89 L1481.97,56.38 L1482.84,55.88 L1483.71,55.39 L1484.58,54.91 L1485.46,54.42 L1486.34,53.95 L1487.22,53.48 L1488.11,53.02 L1489,52.56 L1489.89,52.11 L1490.78,51.66 L1491.68,51.22 L1492.58,50.79 L1493.49,50.36 L1494.39,49.94 L1495.31,49.53 L1496.22,49.12 L1497.13,48.72 L1498.05,48.32 L1498.97,47.93 L1499.9,47.55 L1500.82,47.17 L1501.75,46.8 L1502.68,46.44 L1503.62,46.08 L1504.55,45.73 L1505.49,45.38 L1506.43,45.05 L1507.38,44.71 L1508.32,44.38 L1509.27,44.06 L1510.22,43.75 L1511.17,43.44 L1512.12,43.14 L1513.08,42.84 L1514.03,42.55 L1514.99,42.27 L1515.95,41.99 L1516.91,41.72 L1517.88,41.45 L1518.84,41.19 L1519.81,40.94 L1520.78,40.69 L1521.75,40.44 L1522.72,40.21 L1523.69,39.97 L1524.67,39.75 L1525.64,39.53 L1526.62,39.31 L1527.6,39.1 L1528.58,38.9 L1529.56,38.7 L1530.54,38.51 L1531.52,38.31 L1532.5,38.12 L1533.48,37.94 L1534.47,37.75 L1535.45,37.57 L1536.43,37.4 L1537.42,37.22 L1538.4,37.05 L1539.39,36.89 L1540.38,36.73 L1541.37,36.58 L1542.36,36.43 L1543.35,36.28 L1544.34,36.14 L1545.33,36.01 L1546.32,35.88 L1547.31,35.76 L1548.3,35.65 L1549.3,35.54 L1550.29,35.44 L1551.29,35.35 L1552.29,35.26 L1553.28,35.18 L1554.28,35.11 L1555.28,35.05 L1556.28,35 L1557.28,34.95 L1558.28,34.92 L1559.27,34.89 L1560.27,34.87 L1561.27,34.86 L1562.27,34.85 L1563.27,34.85 L1564.27,34.86 L1565.27,34.87 L1566.27,34.88 L1567.27,34.91 L1568.27,34.93 L1569.27,34.96 L1570.27,35 L1571.27,35.04 L1572.27,35.09 L1573.27,35.14 L1574.27,35.19 L1575.27,35.25 L1576.26,35.32 L1577.26,35.39 L1578.26,35.46 L1579.26,35.53 L1580.25,35.62 L1581.25,35.7 L1582.24,35.79 L1583.24,35.88 L1584.24,35.97 L1585.23,36.07 L1586.23,36.17 L1587.22,36.28 L1588.21,36.39 L1589.21,36.5 L1590.2,36.61 L1591.19,36.73 L1592.19,36.85 L1593.18,36.97 L1594.17,37.1 L1595.16,37.22 L1596.16,37.35 L1597.15,37.48 L1598.14,37.62 L1599.13,37.76 L1600.12,37.89 L1601.11,38.03 L1602.1,38.17 L1603.09,38.32 L1604.08,38.46 L1605.07,38.61 L1606.06,38.76 L1607.05,38.91 L1608.04,39.05 L1609.02,39.21 L1610.01,39.36 L1611,39.51 L1611.99,39.67 L1612.97,39.82 L1613.96,39.98 L1614.95,40.13 L1615.94,40.29 L1616.93,40.45 L1617.91,40.61 L1618.9,40.76 L1619.89,40.92 L1620.88,41.08 L1621.86,41.24 L1622.85,41.4 L1623.84,41.57 L1624.82,41.73 L1625.81,41.9 L1626.8,42.06 L1627.78,42.23 L1628.77,42.4 L1629.75,42.57 L1630.74,42.74 L1631.72,42.91 L1632.71,43.09 L1633.69,43.26 L1634.67,43.44 L1635.66,43.62 L1636.64,43.79 L1637.63,43.97 L1638.61,44.15 L1639.6,44.33 L1640.58,44.52 L1641.56,44.7 L1642.55,44.88 L1643.53,45.06 L1644.51,45.25 L1645.49,45.43 L1646.48,45.62 L1647.46,45.8 L1648.44,45.99 L1649.42,46.18 L1650.4,46.37 L1651.39,46.56 L1652.37,46.75 L1653.35,46.94 L1654.33,47.13 L1655.31,47.32 L1656.3,47.51 L1657.28,47.7 L1658.26,47.89 L1659.24,48.08 L1660.22,48.27 L1661.2,48.47 L1662.18,48.66 L1663.16,48.85 L1664.15,49.05 L1665.13,49.24 L1666.11,49.43 L1667.09,49.63 L1668.07,49.82 L1669.05,50.01 L1670.03,50.21 L1671.01,50.4 L1671.99,50.6 L1672.98,50.79 L1673.96,50.98 L1674.94,51.18 L1675.92,51.37 L1676.9,51.57 L1677.88,51.76 L1678.86,51.95 L1679.84,52.15 L1680.82,52.34 L1681.81,52.54 L1682.79,52.73 L1683.77,52.92 L1684.75,53.12 L1685.73,53.31 L1686.71,53.5 L1687.69,53.69 L1688.67,53.89 L1689.65,54.08 L1690.64,54.27 L1691.62,54.46 L1692.6,54.65 L1693.58,54.84 L1694.56,55.03 L1695.55,55.22 L1696.53,55.41 L1697.51,55.6 L1698.49,55.79 L1699.47,55.98 L1700.45,56.16 L1701.44,56.35 L1702.42,56.54 L1703.4,56.72 L1704.38,56.91 L1705.37,57.1 L1706.35,57.28 L1707.33,57.46 L1708.32,57.65 L1709.3,57.83 L1710.28,58.01 L1711.27,58.2 L1712.25,58.38 L1713.23,58.56 L1714.22,58.74 L1715.2,58.92 L1716.18,59.1 L1717.17,59.28 L1718.15,59.45 L1719.14,59.63 L1720.12,59.81 L1721.11,59.98 L1722.09,60.16 L1723.07,60.33 L1724.06,60.51 L1725.04,60.68 L1726.03,60.85 L1727.01,61.02 L1728,61.2 L1728.98,61.37 L1729.97,61.53 L1730.96,61.7 L1731.94,61.87 L1732.93,62.04 L1733.91,62.2 L1734.9,62.37 L1735.89,62.53 L1736.87,62.7 L1737.86,62.86 L1738.85,63.02 L1739.83,63.19 L1740.82,63.35 L1741.81,63.51 L1742.79,63.66 L1743.78,63.82 L1744.77,63.98 L1745.76,64.14 L1746.74,64.29 L1747.73,64.45 L1748.72,64.6 L1749.71,64.75 L1750.7,64.91 L1751.69,65.06 L1752.67,65.21 L1753.66,65.36 L1754.65,65.51 L1755.64,65.65 L1756.63,65.8 L1757.62,65.95 L1758.61,66.09 L1759.6,66.24 L1760.59,66.38 L1761.58,66.52 L1762.57,66.66 L1763.56,66.8 L1764.55,66.94 L1765.54,67.08 L1766.53,67.22 L1767.52,67.36 L1768.51,67.49 L1769.5,67.63 L1770.49,67.76 L1771.48,67.89 L1772.47,68.03 L1773.47,68.16 L1774.46,68.28 L1775.45,68.41 L1776.44,68.54 L1777.43,68.67 L1778.42,68.8 L1779.42,68.92 L1780.41,69.05 L1781.4,69.17 L1782.39,69.29 L1783.39,69.41 L1784.38,69.53 L1785.37,69.65 L1786.37,69.77 L1787.36,69.89 L1788.35,70 L1789.35,70.12 L1790.34,70.24 L1791.33,70.35 L1792.33,70.46 L1793.32,70.58 L1794.31,70.69 L1795.31,70.8 L1796.3,70.9 L1797.3,71.01 L1798.29,71.12 L1799.28,71.23 L1800.28,71.33 L1801.27,71.44 L1802.27,71.54 L1803.26,71.64 L1804.26,71.74 L1805.25,71.84 L1806.25,71.94 L1807.24,72.04 L1808.24,72.14 L1809.23,72.23 L1810.23,72.33 L1811.22,72.42 L1812.22,72.52 L1813.21,72.61 L1814.21,72.7 L1815.21,72.8 L1816.2,72.89 L1816.41,72.9" stroke="#00ff00" stroke-dasharray="13.7 16.7" stroke-dashoffset="0"/>
<path d="M1012.05,75.05 L1012.24,76.03 L1012.42,77.02 L1012.61,78 L1012.79,78.98 L1012.98,79.96 L1013.17,80.94 L1013.36,81.93 L1013.54,82.91 L1013.73,83.89 L1013.92,84.87 L1014.11,85.86 L1014.3,86.84 L1014.49,87.82 L1014.68,88.8 L1014.87,89.78 L1015.06,90.76 L1015.25,91.75 L1015.45,92.73 L1015.64,93.71 L1015.83,94.69 L1016.02,95.67 L1016.22,96.65 L1016.41,97.63 L1016.61,98.61 L1016.8,99.59 L1017,100.58 L1017.19,101.56 L1017.39,102.54 L1017.59,103.52 L1017.78,104.5 L1017.98,105.48 L1018.18,106.46 L1018.38,107.44 L1018.58,108.42 L1018.77,109.4 L1018.97,110.38 L1019.17,111.36 L1019.37,112.34 L1019.58,113.32 L1019.78,114.3 L1019.98,115.28 L1020.18,116.25 L1020.38,117.23 L1020.58,118.21 L1020.78,119.19 L1020.99,120.17 L1021.19,121.15 L1021.39,122.13 L1021.6,123.11 L1021.8,124.09 L1022,125.07 L1022.21,126.05 L1022.41,127.03 L1022.62,128 L1022.83,128.98 L1023.03,129.96 L1023.24,130.94 L1023.45,131.92 L1023.66,132.9 L1023.87,133.87 L1024.08,134.85 L1024.29,135.83 L1024.5,136.81 L1024.71,137.78 L1024.92,138.76 L1025.14,139.74 L1025.35,140.71 L1025.56,141.69 L1025.78,142.67 L1025.99,143.64 L1026.21,144.62 L1026.43,145.6 L1026.65,146.57 L1026.87,147.55 L1027.09,148.52 L1027.31,149.5 L1027.53,150.47 L1027.75,151.45 L1027.97,152.43 L1028.19,153.4 L1028.41,154.38 L1028.64,155.35 L1028.86,156.32 L1029.08,157.3 L1029.31,158.28 L1029.53,159.25 L1029.75,160.22 L1029.98,161.2 L1030.2,162.17 L1030.43,163.15 L1030.65,164.12 L1030.88,165.1 L1031.1,166.07 L1031.33,167.04 L1031.56,168.02 L1031.78,168.99 L1032.01,169.97 L1032.24,170.94 L1032.47,171.91 L1032.7,172.89 L1032.93,173.86 L1033.16,174.83 L1033.39,175.81 L1033.62,176.78 L1033.85,177.75 L1034.08,178.72 L1034.32,179.7 L1034.55,180.67 L1034.78,181.64 L1035.02,182.61 L1035.25,183.59 L1035.49,184.56 L1035.72,185.53 L1035.96,186.5 L1036.2,187.47 L1036.44,188.44 L1036.68,189.41 L1036.91,190.38 L1037.16,191.35 L1037.4,192.33 L1037.64,193.3 L1037.88,194.27 L1038.12,195.24 L1038.37,196.21 L1038.61,197.18 L1038.85,198.15 L1039.1,199.12 L1039.35,200.09 L1039.59,201.05 L1039.84,202.02 L1040.09,202.99 L1040.34,203.96 L1040.59,204.93 L1040.84,205.9 L1041.09,206.86 L1041.34,207.83 L1041.6,208.8 L1041.85,209.77 L1042.11,210.73 L1042.36,211.7 L1042.62,212.67 L1042.88,213.63 L1043.13,214.6 L1043.39,215.56 L1043.65,216.53 L1043.91,217.5 L1044.18,218.46 L1044.44,219.43 L1044.7,220.39 L1044.97,221.35 L1045.23,222.32 L1045.5,223.28 L1045.77,224.25 L1046.04,225.21 L1046.31,226.17 L1046.58,227.13 L1046.85,228.1 L1047.12,229.06 L1047.39,230.02 L1047.67,230.98 L1047.94,231.94 L1048.22,232.91 L1048.49,233.87 L1048.77,234.83 L1049.05,235.79 L1049.33,236.75 L1049.61,237.71 L1049.89,238.67 L1050.17,239.63 L1050.45,240.59 L1050.73,241.55 L1051.02,242.51 L1051.3,243.47 L1051.58,244.42 L1051.87,245.38 L1052.15,246.34 L1052.44,247.3 L1052.73,248.26 L1053.02,249.21 L1053.31,250.17 L1053.6,251.13 L1053.88,252.09 L1054.18,253.04 L1054.47,254 L1054.76,254.96 L1055.05,255.91 L1055.35,256.87 L1055.64,257.82 L1055.93,258.78 L1056.23,259.73 L1056.53,260.69 L1056.82,261.64 L1057.12,262.6 L1057.42,263.55 L1057.71,264.51 L1058.01,265.46 L1058.31,266.42 L1058.61,267.37 L1058.91,268.32 L1059.21,269.28 L1059.51,270.23 L1059.82,271.19 L1060.12,272.14 L1060.42,273.09 L1060.72,274.05 L1061.03,275 L1061.33,275.95 L1061.64,276.9 L1061.94,277.85 L1062.25,278.81 L1062.56,279.76 L1062.86,280.71 L1063.17,281.66 L1063.48,282.61 L1063.79,283.56 L1064.1,284.51 L1064.4,285.47 L1064.71,286.42 L1065.02,287.37 L1065.34,288.32 L1065.65,289.27 L1065.96,290.22 L1066.27,291.17 L1066.58,292.12 L1066.9,293.07 L1067.21,294.02 L1067.53,294.97 L1067.84,295.92 L1068.16,296.86 L1068.48,297.81 L1068.8,298.76 L1069.12,299.71 L1069.43,300.65 L1069.76,301.6 L1070.08,302.55 L1070.4,303.5 L1070.72,304.44 L1071.05,305.39 L1071.37,306.33 L1071.7,307.28 L1072.03,308.22 L1072.35,309.17 L1072.68,310.11 L1073.01,311.06 L1073.34,312 L1073.67,312.94 L1074.01,313.89 L1074.34,314.83 L1074.68,315.77 L1075.01,316.71 L1075.35,317.65 L1075.69,318.6 L1076.03,319.54 L1076.37,320.48 L1076.71,321.42 L1077.05,322.36 L1077.4,323.3 L1077.74,324.23 L1078.09,325.17 L1078.44,326.11 L1078.79,327.05 L1079.14,327.98 L1079.49,328.92 L1079.84,329.85 L1080.2,330.79 L1080.56,331.72 L1080.91,332.66 L1081.27,333.59 L1081.63,334.52 L1082,335.45 L1082.36,336.39 L1082.72,337.32 L1083.09,338.25 L1083.46,339.18 L1083.83,340.11 L1084.2,341.03 L1084.58,341.96 L1084.95,342.89 L1085.33,343.81 L1085.71,344.74 L1086.09,345.67 L1086.47,346.59 L1086.85,347.51 L1087.24,348.44 L1087.63,349.36 L1088.02,350.28 L1088.41,351.2 L1088.8,352.12 L1089.2,353.03 L1089.6,353.95 L1090.01,354.86 L1090.42,355.77 L1090.83,356.69 L1091.25,357.59 L1091.67,358.5 L1092.1,359.41 L1092.52,360.31 L1092.95,361.21 L1093.39,362.11 L1093.83,363.01 L1094.27,363.91 L1094.71,364.81 L1095.16,365.7 L1095.61,366.6 L1096.06,367.49 L1096.51,368.38 L1096.97,369.27 L1097.43,370.15 L1097.9,371.04 L1098.36,371.93 L1098.83,372.81 L1099.3,373.69 L1099.78,374.57 L1100.26,375.45 L1100.73,376.33 L1101.22,377.2 L1101.7,378.08 L1102.19,378.95 L1102.68,379.82 L1103.17,380.69 L1103.66,381.56 L1104.16,382.43 L1104.66,383.3 L1105.16,384.16 L1105.66,385.03 L1106.17,385.89 L1106.68,386.75 L1107.19,387.61 L1107.7,388.47 L1108.22,389.32 L1108.74,390.18 L1109.26,391.03 L1109.79,391.88 L1110.32,392.73 L1110.86,393.57 L1111.4,394.41 L1111.94,395.25 L1112.49,396.09 L1113.04,396.93 L1113.59,397.76 L1114.15,398.59 L1114.72,399.41 L1115.28,400.24 L1115.85,401.06 L1116.43,401.87 L1117.01,402.69 L1117.59,403.5 L1118.18,404.31 L1118.78,405.11 L1119.37,405.92 L1119.98,406.71 L1120.58,407.51 L1121.2,408.3 L1121.81,409.08 L1122.44,409.87 L1123.06,410.65 L1123.7,411.42 L1124.33,412.19 L1124.98,412.96 L1125.63,413.72 L1126.28,414.47 L1126.94,415.22 L1127.61,415.96 L1128.29,416.7 L1128.97,417.43 L1129.66,418.15 L1130.36,418.87 L1131.07,419.58 L1131.78,420.28 L1132.5,420.97 L1133.23,421.65 L1133.97,422.33 L1134.71,423 L1135.47,423.65 L1136.23,424.3 L1137,424.94 L1137.78,425.56 L1138.57,426.18 L1139.37,426.78 L1140.18,427.37 L1141,427.94 L1141.82,428.51 L1142.66,429.06 L1143.51,429.59 L1144.36,430.11 L1145.22,430.61 L1146.1,431.09 L1146.99,431.56 L1147.88,432 L1148.79,432.43 L1149.7,432.84 L1150.62,433.22 L1151.55,433.58 L1152.49,433.92 L1153.44,434.24 L1154.4,434.52 L1155.37,434.79 L1156.34,435.02 L1157.32,435.23 L1158.3,435.41 L1159.29,435.56 L1160.28,435.68 L1161.28,435.77 L1162.28,435.84 L1163.28,435.87 L1164.28,435.87 L1165.27,435.84 L1166.27,435.77 L1167.27,435.68 L1168.26,435.56 L1169.25,435.41 L1170.23,435.24 L1171.21,435.03 L1172.18,434.8 L1173.15,434.54 L1174.11,434.25 L1175.06,433.94 L1176,433.61 L1176.94,433.26 L1177.87,432.88 L1178.78,432.48 L1179.69,432.07 L1180.59,431.63 L1181.48,431.18 L1182.37,430.7 L1183.24,430.22 L1184.1,429.71 L1184.96,429.19 L1185.8,428.66 L1186.64,428.11 L1187.47,427.56 L1188.29,426.98 L1189.1,426.4 L1189.9,425.8 L1190.7,425.2 L1191.49,424.58 L1192.27,423.95 L1193.04,423.32 L1193.8,422.67 L1194.56,422.02 L1195.31,421.36 L1196.05,420.69 L1196.79,420.01 L1197.52,419.33 L1198.24,418.64 L1198.96,417.94 L1199.67,417.24 L1200.37,416.53 L1201.07,415.81 L1201.77,415.09 L1202.45,414.37 L1203.13,413.63 L1203.81,412.9 L1204.48,412.16 L1205.15,411.41 L1205.81,410.66 L1206.46,409.9 L1207.11,409.14 L1207.76,408.38 L1208.4,407.61 L1209.03,406.84 L1209.66,406.06 L1210.29,405.28 L1210.91,404.5 L1211.53,403.71 L1212.14,402.92 L1212.75,402.13 L1213.35,401.33 L1213.95,400.53 L1214.55,399.73 L1215.14,398.92 L1215.73,398.12 L1216.32,397.3 L1216.9,396.49 L1217.48,395.68 L1218.05,394.86 L1218.63,394.04 L1219.2,393.22 L1219.76,392.39 L1220.33,391.57 L1220.89,390.74 L1221.44,389.91 L1222,389.08 L1222.55,388.24 L1223.1,387.41 L1223.64,386.57 L1224.18,385.73 L1224.72,384.88 L1225.25,384.04 L1225.78,383.19 L1226.31,382.34 L1226.84,381.49 L1227.36,380.63 L1227.87,379.78 L1228.39,378.92 L1228.9,378.06 L1229.41,377.2 L1229.92,376.34 L1230.43,375.48 L1230.93,374.61 L1231.43,373.75 L1231.93,372.88 L1232.43,372.02 L1232.93,371.15 L1233.42,370.28 L1233.92,369.41 L1234.41,368.54 L1234.91,367.67 L1235.4,366.8 L1235.89,365.93 L1236.38,365.06 L1236.87,364.19 L1237.36,363.32 L1237.85,362.44 L1238.34,361.57 L1238.83,360.7 L1239.32,359.83 L1239.81,358.96 L1240.3,358.09 L1240.79,357.22 L1241.29,356.35 L1241.78,355.48 L1242.27,354.61 L1242.77,353.74 L1243.26,352.87 L1243.76,352 L1244.25,351.13 L1244.75,350.26 L1245.23,349.39 L1245.72,348.51 L1246.21,347.64 L1246.7,346.77 L1247.18,345.89 L1247.66,345.02 L1248.14,344.14 L1248.62,343.26 L1249.1,342.38 L1249.58,341.5 L1250.05,340.62 L1250.53,339.75 L1251,338.86 L1251.47,337.98 L1251.94,337.1 L1252.41,336.21 L1252.88,335.33 L1253.34,334.45 L1253.81,333.56 L1254.27,332.68 L1254.74,331.79 L1255.2,330.9 L1255.66,330.01 L1256.12,329.13 L1256.58,328.24 L1257.04,327.35 L1257.49,326.46 L1257.95,325.57 L1258.41,324.68 L1258.86,323.79 L1259.32,322.9 L1259.77,322.01 L1260.22,321.12 L1260.67,320.23 L1261.12,319.33 L1261.58,318.44 L1262.03,317.55 L1262.48,316.65 L1262.92,315.76 L1263.37,314.87 L1263.82,313.97 L1264.27,313.08 L1264.72,312.18 L1265.16,311.29 L1265.61,310.39 L1266.06,309.5 L1266.5,308.61 L1266.95,307.71 L1267.39,306.81 L1267.84,305.92 L1268.29,305.02 L1268.73,304.13 L1269.17,303.23 L1269.62,302.34 L1270.07,301.44 L1270.51,300.55 L1270.95,299.65 L1271.4,298.75 L1271.84,297.86 L1272.29,296.96 L1272.73,296.07 L1273.18,295.17 L1273.62,294.28 L1274.07,293.38 L1274.51,292.49 L1274.96,291.59 L1275.41,290.7 L1275.85,289.8 L1276.3,288.91 L1276.75,288.01 L1277.19,287.12 L1277.64,286.22 L1278.09,285.33 L1278.54,284.44 L1278.99,283.54 L1279.44,282.65 L1279.89,281.76 L1280.34,280.86 L1280.79,279.97 L1281.24,279.08 L1281.69,278.19 L1282.15,277.3 L1282.6,276.4 L1283.05,275.51 L1283.5,274.62 L1283.96,273.73 L1284.41,272.84 L1284.86,271.95 L1285.32,271.05 L1285.77,270.16 L1286.22,269.27 L1286.68,268.38 L1287.13,267.49 L1287.58,266.6 L1288.04,265.71 L1288.49,264.82 L1288.95,263.93 L1289.4,263.04 L1289.86,262.14 L1290.31,261.25 L1290.77,260.36 L1291.22,259.47 L1291.68,258.58 L1292.13,257.69 L1292.59,256.8 L1293.05,255.91 L1293.5,255.02 L1293.96,254.13 L1294.42,253.25 L1294.87,252.36 L1295.33,251.47 L1295.79,250.58 L1296.25,249.69 L1296.71,248.8 L1297.16,247.91 L1297.62,247.02 L1298.08,246.13 L1298.54,245.25 L1299,244.36 L1299.46,243.47 L1299.92,242.58 L1300.38,241.69 L1300.84,240.81 L1301.3,239.92 L1301.77,239.03 L1302.23,238.15 L1302.69,237.26 L1303.15,236.37 L1303.62,235.49 L1304.08,234.6 L1304.54,233.71 L1305.01,232.83 L1305.47,231.94 L1305.94,231.06 L1306.4,230.17 L1306.87,229.29 L1307.33,228.4 L1307.8,227.52 L1308.27,226.63 L1308.73,225.75 L1309.2,224.87 L1309.67,223.98 L1310.14,223.1 L1310.61,222.22 L1311.08,221.33 L1311.55,220.45 L1312.02,219.57 L1312.49,218.69 L1312.96,217.8 L1313.43,216.92 L1313.9,216.04 L1314.38,215.16 L1314.85,214.28 L1315.32,213.4 L1315.8,212.52 L1316.27,211.63 L1316.74,210.75 L1317.22,209.88 L1317.7,209 L1318.17,208.12 L1318.65,207.24 L1319.13,206.36 L1319.61,205.48 L1320.09,204.6 L1320.57,203.73 L1321.05,202.85 L1321.53,201.97 L1322.01,201.1 L1322.49,200.22 L1322.97,199.34 L1323.45,198.47 L1323.94,197.59 L1324.42,196.72 L1324.91,195.84 L1325.39,194.97 L1325.88,194.09 L1326.37,193.22 L1326.85,192.35 L1327.34,191.47 L1327.83,190.6 L1328.32,189.73 L1328.81,188.86 L1329.3,187.99 L1329.79,187.12 L1330.28,186.25 L1330.78,185.38 L1331.27,184.51 L1331.77,183.64 L1332.26,182.77 L1332.76,181.9 L1333.26,181.04 L1333.76,180.17 L1334.26,179.3 L1334.76,178.44 L1335.26,177.57 L1335.76,176.71 L1336.27,175.84 L1336.77,174.98 L1337.28,174.12 L1337.78,173.25 L1338.29,172.39 L1338.8,171.53 L1339.31,170.67 L1339.82,169.81 L1340.33,168.95 L1340.84,168.09 L1341.35,167.24 L1341.87,166.38 L1342.38,165.52 L1342.9,164.66 L1343.42,163.81 L1343.94,162.95 L1344.46,162.1 L1344.98,161.25 L1345.5,160.39 L1346.02,159.54 L1346.55,158.69 L1347.07,157.84 L1347.6,156.99 L1348.12,156.14 L1348.65,155.29 L1349.18,154.44 L1349.71,153.59 L1350.24,152.75 L1350.78,151.9 L1351.31,151.06 L1351.85,150.21 L1352.38,149.37 L1352.92,148.52 L1353.46,147.68 L1354,146.84 L1354.54,146 L1355.09,145.16 L1355.63,144.32 L1356.17,143.48 L1356.72,142.64 L1357.27,141.81 L1357.82,140.97 L1358.37,140.14 L1358.92,139.3 L1359.47,138.47 L1360.03,137.64 L1360.58,136.81 L1361.14,135.97 L1361.7,135.15 L1362.26,134.32 L1362.82,133.49 L1363.38,132.66 L1363.95,131.84 L1364.51,131.01 L1365.08,130.19 L1365.65,129.37 L1366.22,128.54 L1366.79,127.72 L1367.36,126.9 L1367.94,126.09 L1368.51,125.27 L1369.09,124.45 L1369.67,123.64 L1370.25,122.82 L1370.83,122.01 L1371.42,121.2 L1372,120.39 L1372.59,119.58 L1373.18,118.77 L1373.77,117.96 L1374.36,117.16 L1374.95,116.35 L1375.55,115.55 L1376.15,114.75 L1376.75,113.95 L1377.35,113.15 L1377.95,112.35 L1378.56,111.55 L1379.16,110.76 L1379.77,109.97 L1380.38,109.17 L1381,108.39 L1381.61,107.6 L1382.23,106.81 L1382.85,106.03 L1383.47,105.24 L1384.1,104.46 L1384.72,103.68 L1385.35,102.9 L1385.98,102.13 L1386.62,101.35 L1387.25,100.58 L1387.89,99.81 L1388.53,99.04 L1389.17,98.28 L1389.82,97.51 L1390.46,96.75 L1391.11,95.99 L1391.76,95.23 L1392.42,94.47 L1393.07,93.72 L1393.73,92.97 L1394.39,92.22 L1395.06,91.47 L1395.72,90.72 L1396.39,89.98 L1397.07,89.24 L1397.74,88.5 L1398.42,87.77 L1399.1,87.03 L1399.78,86.3 L1400.46,85.57 L1401.15,84.85 L1401.84,84.12 L1402.54,83.4 L1403.23,82.69 L1403.93,81.97 L1404.63,81.26 L1405.34,80.55 L1406.05,79.84 L1406.76,79.14 L1407.47,78.44 L1408.18,77.74 L1408.9,77.05 L1409.63,76.35 L1410.35,75.66 L1411.08,74.98 L1411.81,74.3 L1412.55,73.62 L1413.28,72.94 L1414.02,72.27 L1414.77,71.6 L1415.51,70.94 L1416.26,70.27 L1417.02,69.62 L1417.77,68.96 L1418.53,68.31 L1419.29,67.66 L1420.06,67.02 L1420.83,66.38 L1421.6,65.75 L1422.38,65.11 L1423.15,64.49 L1423.94,63.86 L1424.72,63.25 L1425.51,62.63 L1426.3,62.02 L1427.1,61.41 L1427.9,60.81 L1428.7,60.22 L1429.5,59.62 L1430.31,59.03 L1431.12,58.45 L1431.94,57.87 L1432.76,57.3 L1433.58,56.73 L1434.41,56.16 L1435.24,55.6 L1436.07,55.05 L1436.9,54.5 L1437.74,53.96 L1438.59,53.42 L1439.43,52.88 L1440.28,52.36 L1441.13,51.83 L1441.99,51.32 L1442.85,50.8 L1443.71,50.3 L1444.58,49.8 L1445.45,49.3 L1446.32,48.81 L1447.19,48.33 L1448.07,47.85 L1448.95,47.38 L1449.84,46.92 L1450.73,46.46 L1451.62,46.01 L1452.51,45.56 L1453.41,45.12 L1454.31,44.68 L1455.22,44.26 L1456.12,43.84 L1457.03,43.42 L1457.94,43.01 L1458.86,42.61 L1459.78,42.21 L1460.7,41.82 L1461.62,41.44 L1462.55,41.07 L1463.48,40.7 L1464.41,40.34 L1465.35,39.98 L1466.28,39.63 L1467.22,39.29 L1468.17,38.95 L1469.11,38.62 L1470.06,38.3 L1471.01,37.99 L1471.96,37.68 L1472.91,37.38 L1473.87,37.09 L1474.83,36.8 L1475.79,36.52 L1476.75,36.25 L1477.71,35.98 L1478.68,35.72 L1479.65,35.47 L1480.62,35.23 L1481.59,34.99 L1482.56,34.76 L1483.54,34.53 L1484.51,34.31 L1485.49,34.1 L1486.47,33.9 L1487.45,33.7 L1488.43,33.52 L1489.41,33.33 L1490.4,33.16 L1491.38,32.99 L1492.37,32.82 L1493.36,32.67 L1494.35,32.52 L1495.34,32.37 L1496.33,32.24 L1497.32,32.11 L1498.31,31.98 L1499.3,31.87 L1500.3,31.75 L1501.29,31.65 L1502.29,31.55 L1503.28,31.46 L1504.28,31.37 L1505.28,31.29 L1506.27,31.22 L1507.27,31.15 L1508.27,31.09 L1509.27,31.03 L1510.27,30.98 L1511.26,30.94 L1512.26,30.9 L1513.26,30.86 L1514.26,30.84 L1515.26,30.81 L1516.26,30.8 L1517.26,30.78 L1518.26,30.78 L1519.26,30.77 L1520.26,30.78 L1521.26,30.79 L1522.26,30.8 L1523.26,30.82 L1524.26,30.84 L1525.26,30.87 L1526.26,30.9 L1527.26,30.94 L1528.26,30.98 L1529.26,31.03 L1530.26,31.08 L1531.26,31.13 L1532.25,31.19 L1533.25,31.26 L1534.25,31.32 L1535.25,31.39 L1536.24,31.47 L1537.24,31.55 L1538.24,31.63 L1539.23,31.72 L1540.23,31.81 L1541.22,31.91 L1542.22,32.01 L1543.21,32.11 L1544.21,32.21 L1545.2,32.32 L1546.2,32.43 L1547.19,32.55 L1548.18,32.67 L1549.17,32.79 L1550.17,32.91 L1551.16,33.04 L1552.15,33.17 L1553.14,33.31 L1554.13,33.44 L1555.12,33.58 L1556.11,33.73 L1557.1,33.87 L1558.09,34.02 L1559.08,34.17 L1560.07,34.32 L1561.06,34.47 L1562.04,34.63 L1563.03,34.79 L1564.02,34.94 L1565.01,35.1 L1565.99,35.26 L1566.98,35.42 L1567.97,35.59 L1568.95,35.75 L1569.94,35.91 L1570.93,36.08 L1571.91,36.25 L1572.9,36.41 L1573.88,36.58 L1574.87,36.75 L1575.85,36.92 L1576.84,37.09 L1577.83,37.27 L1578.81,37.44 L1579.79,37.62 L1580.78,37.79 L1581.76,37.97 L1582.75,38.15 L1583.73,38.33 L1584.71,38.51 L1585.7,38.69 L1586.68,38.87 L1587.66,39.05 L1588.65,39.24 L1589.63,39.42 L1590.61,39.61 L1591.6,39.79 L1592.58,39.98 L1593.56,40.17 L1594.54,40.36 L1595.52,40.55 L1596.5,40.75 L1597.48,40.94 L1598.46,41.13 L1599.45,41.33 L1600.43,41.53 L1601.41,41.72 L1602.39,41.92 L1603.37,42.12 L1604.35,42.32 L1605.33,42.52 L1606.31,42.73 L1607.28,42.93 L1608.26,43.14 L1609.24,43.34 L1610.22,43.55 L1611.2,43.76 L1612.17,43.97 L1613.15,44.18 L1614.13,44.39 L1615.11,44.61 L1616.08,44.82 L1617.06,45.04 L1618.04,45.26 L1619.01,45.47 L1619.99,45.69 L1620.96,45.91 L1621.94,46.13 L1622.91,46.35 L1623.89,46.58 L1624.86,46.8 L1625.84,47.02 L1626.82,47.23 L1627.79,47.45 L1628.77,47.67 L1629.74,47.89 L1630.72,48.11 L1631.69,48.33 L1632.67,48.55 L1633.64,48.77 L1634.62,48.99 L1635.6,49.21 L1636.57,49.42 L1637.55,49.64 L1638.53,49.86 L1639.5,50.08 L1640.48,50.29 L1641.45,50.51 L1642.43,50.72 L1643.41,50.94 L1644.38,51.15 L1645.36,51.37 L1646.34,51.58 L1647.31,51.79 L1648.29,52.01 L1649.27,52.22 L1650.25,52.43 L1651.22,52.64 L1652.2,52.85 L1653.18,53.06 L1654.16,53.27 L1655.13,53.48 L1656.11,53.69 L1657.09,53.89 L1658.07,54.1 L1659.05,54.3 L1660.03,54.51 L1661.01,54.71 L1661.98,54.92 L1662.96,55.12 L1663.94,55.32 L1664.92,55.52 L1665.9,55.72 L1666.88,55.92 L1667.86,56.12 L1668.84,56.32 L1669.82,56.52 L1670.8,56.71 L1671.79,56.91 L1672.77,57.1 L1673.75,57.3 L1674.73,57.49 L1675.71,57.68 L1676.69,57.87 L1677.67,58.06 L1678.65,58.25 L1679.64,58.44 L1680.62,58.63 L1681.6,58.81 L1682.58,59 L1683.57,59.18 L1684.55,59.37 L1685.53,59.55 L1686.52,59.73 L1687.5,59.91 L1688.48,60.09 L1689.47,60.27 L1690.45,60.45 L1691.44,60.62 L1692.42,60.8 L1693.4,60.98 L1694.39,61.15 L1695.38,61.32 L1696.36,61.49 L1697.35,61.66 L1698.33,61.83 L1699.32,62 L1700.3,62.17 L1701.29,62.34 L1702.28,62.5 L1703.26,62.67 L1704.25,62.83 L1705.23,62.99 L1706.22,63.15 L1707.21,63.31 L1708.2,63.47 L1709.18,63.63 L1710.17,63.79 L1711.16,63.95 L1712.15,64.1 L1713.13,64.26 L1714.12,64.41 L1715.11,64.56 L1716.1,64.72 L1717.09,64.87 L1718.08,65.02 L1719.07,65.17 L1720.05,65.31 L1721.04,65.46 L1722.03,65.6 L1723.02,65.75 L1724.01,65.89 L1725,66.03 L1725.99,66.18 L1726.98,66.31 L1727.97,66.45 L1728.96,66.59 L1729.95,66.73 L1730.94,66.87 L1731.93,67 L1732.92,67.14 L1733.92,67.27 L1734.91,67.4 L1735.9,67.53 L1736.89,67.66 L1737.88,67.79 L1738.87,67.92 L1739.87,68.05 L1740.86,68.17 L1741.85,68.3 L1742.84,68.42 L1743.84,68.54 L1744.83,68.67 L1745.82,68.79 L1746.81,68.91 L1747.81,69.03 L1748.8,69.14 L1749.79,69.26 L1750.79,69.37 L1751.78,69.49 L1752.77,69.6 L1753.77,69.72 L1754.76,69.83 L1755.75,69.94 L1756.75,70.05 L1757.74,70.16 L1758.74,70.26 L1759.73,70.37 L1760.72,70.48 L1761.72,70.58 L1762.71,70.68 L1763.71,70.79 L1764.7,70.89 L1765.7,70.99 L1766.69,71.09 L1767.69,71.19 L1768.68,71.28 L1769.68,71.38 L1770.67,71.48 L1771.67,71.57 L1772.66,71.67 L1773.66,71.76 L1774.66,71.85 L1775.65,71.94 L1776.65,72.03 L1777.64,72.12 L1778.64,72.21 L1779.64,72.3 L1780.63,72.38 L1781.63,72.47 L1782.63,72.55 L1783.62,72.64 L1784.62,72.72 L1785.62,72.8 L1786.61,72.88 L1787.61,72.97 L1788.61,73.05 L1789.6,73.12 L1790.6,73.2 L1791.6,73.28 L1792.59,73.36 L1793.59,73.44 L1794.59,73.51 L1795.59,73.58 L1796.58,73.66 L1797.58,73.73 L1798.58,73.81 L1799.57,73.88 L1800.57,73.95 L1801.57,74.02 L1802.57,74.09 L1803.56,74.16 L1804.56,74.22 L1805.56,74.29 L1806.56,74.36 L1807.56,74.42 L1808.55,74.49 L1809.55,74.55 L1810.55,74.62 L1811.55,74.68 L1812.55,74.74 L1813.54,74.8 L1814.54,74.86 L1815.54,74.92 L1816.41,74.98" stroke="#0000ff" stroke-dasharray="5.3 5.35" stroke-dashoffset="0"/>
</g>
<path d="M1012.05,522.95v-7.2M1012.05,5.3v7.2M1045.55,522.95v-4.7M1045.55,5.3v4.7M1079.05,522.95v-4.7M1079.05,5.3v4.7M1112.55,522.95v-4.7M1112.55,5.3v4.7M1146.05,522.95v-7.2M1146.05,5.3v7.2M1179.55,522.95v-4.7M1179.55,5.3v4.7M1213.05,522.95v-4.7M1213.05,5.3v4.7M1246.55,522.95v-4.7M1246.55,5.3v4.7M1280.05,522.95v-7.2M1280.05,5.3v7.2M1313.55,522.95v-4.7M1313.55,5.3v4.7M1347.05,522.95v-4.7M1347.05,5.3v4.7M1380.55,522.95v-4.7M1380.55,5.3v4.7M1414.05,522.95v-7.2M1414.05,5.3v7.2M1447.55,522.95v-4.7M1447.55,5.3v4.7M1481.05,522.95v-4.7M1481.05,5.3v4.7M1514.55,522.95v-4.7M1514.55,5.3v4.7M1548.05,522.95v-7.2M1548.05,5.3v7.2M1581.55,522.95v-4.7M1581.55,5.3v4.7M1615.05,522.95v-4.7M1615.05,5.3v4.7M1648.55,522.95v-4.7M1648.55,5.3v4.7M1682.05,522.95v-7.2M1682.05,5.3v7.2M1715.55,522.95v-4.7M1715.55,5.3v4.7M1749.05,522.95v-4.7M1749.05,5.3v4.7M1782.55,522.95v-4.7M1782.55,5.3v4.7M1816.05,522.95v-7.2M1816.05,5.3v7.2M995.4,513.77h7.2M1832.8,513.77h-7.2M995.4,495.49h4.7M1832.8,495.49h-4.7M995.4,477.21h4.7M1832.8,477.21h-4.7M995.4,458.93h4.7M1832.8,458.93h-4.7M995.4,440.65h7.2M1832.8,440.65h-7.2M995.4,422.37h4.7M1832.8,422.37h-4.7M995.4,404.09h4.7M1832.8,404.09h-4.7M995.4,385.81h4.7M1832.8,385.81h-4.7M995.4,367.53h7.2M1832.8,367.53h-7.2M995.4,349.25h4.7M1832.8,349.25h-4.7M995.4,330.97h4.7M1832.8,330.97h-4.7M995.4,312.69h4.7M1832.8,312.69h-4.7M995.4,294.41h7.2M1832.8,294.41h-7.2M995.4,276.13h4.7M1832.8,276.13h-4.7M995.4,257.85h4.7M1832.8,257.85h-4.7M995.4,239.57h4.7M1832.8,239.57h-4.7M995.4,221.29h7.2M1832.8,221.29h-7.2M995.4,203.01h4.7M1832.8,203.01h-4.7M995.4,184.73h4.7M1832.8,184.73h-4.7M995.4,166.45h4.7M1832.8,166.45h-4.7M995.4,148.17h7.2M1832.8,148.17h-7.2M995.4,129.89h4.7M1832.8,129.89h-4.7M995.4,111.61h4.7M1832.8,111.61h-4.7M995.4,93.33h4.7M1832.8,93.33h-4.7M995.4,75.05h7.2M1832.8,75.05h-7.2M995.4,56.77h4.7M1832.8,56.77h-4.7M995.4,38.49h4.7M1832.8,38.49h-4.7M995.4,20.21h4.7M1832.8,20.21h-4.7" stroke="#3a3a3a" stroke-width="1" fill="none"/>
<rect x="995.4" y="5.3" width="837.4" height="517.65" fill="none" stroke="#585858" stroke-width="1.2"/>
<g font-size="20.9" font-weight="700" fill="#000">
<text transform="translate(1012.05,545.9) scale(1,1.065)" text-anchor="middle">0</text>
<text transform="translate(1146.05,545.9) scale(1,1.065)" text-anchor="middle">2</text>
<text transform="translate(1280.05,545.9) scale(1,1.065)" text-anchor="middle">4</text>
<text transform="translate(1414.05,545.9) scale(1,1.065)" text-anchor="middle">6</text>
<text transform="translate(1548.05,545.9) scale(1,1.065)" text-anchor="middle">8</text>
<text transform="translate(1682.05,545.9) scale(1,1.065)" text-anchor="middle">10</text>
<text transform="translate(1816.05,545.9) scale(1,1.065)" text-anchor="middle">12</text>
<text transform="translate(990.6,82.85) scale(1,1.065)" text-anchor="end">0</text>
<text transform="translate(990.6,155.97) scale(1,1.065)" text-anchor="end"><tspan dy="1.46">−</tspan><tspan dy="-1.46" dx="1.15">2</tspan></text>
<text transform="translate(990.6,229.09) scale(1,1.065)" text-anchor="end"><tspan dy="1.46">−</tspan><tspan dy="-1.46" dx="1.15">4</tspan></text>
<text transform="translate(990.6,302.21) scale(1,1.065)" text-anchor="end"><tspan dy="1.46">−</tspan><tspan dy="-1.46" dx="1.15">6</tspan></text>
<text transform="translate(990.6,375.33) scale(1,1.065)" text-anchor="end"><tspan dy="1.46">−</tspan><tspan dy="-1.46" dx="1.15">8</tspan></text>
<text transform="translate(990.6,448.45) scale(1,1.065)" text-anchor="end"><tspan dy="1.46">−</tspan><tspan dy="-1.46" dx="1.15">10</tspan></text>
<text transform="translate(990.6,521.57) scale(1,1.065)" text-anchor="end"><tspan dy="1.46">−</tspan><tspan dy="-1.46" dx="1.15">12</tspan></text>
</g>
<text x="1414.5" y="578.5" font-size="21" font-weight="700" font-style="italic" text-anchor="middle">z</text>
<text transform="translate(940.5,264) rotate(-90)" font-size="21" font-weight="700" font-style="italic" text-anchor="middle">τ<tspan font-size="14.91" dy="4.2" font-style="normal" font-weight="400">3</tspan></text>
<g fill="none" stroke-width="2.75">
<line x1="1388.2" y1="255.1" x2="1441" y2="255.1" stroke="#ff0000"/>
<line x1="1388.8" y1="302.05" x2="1433.9" y2="302.05" stroke="#00ff00" stroke-dasharray="14 17.1"/>
<line x1="1389" y1="349" x2="1436.8" y2="349" stroke="#0000ff" stroke-dasharray="4.2 5.5 5.4 5.5 5.4 5.5 5.4 5.5 5.4 5.5"/>
</g>
<text transform="translate(1453.9,260.1) scale(1,1.038)" font-size="23.87" font-weight="700">Without Magnetic Field <tspan font-style="italic" font-weight="400" stroke="#000" stroke-width="0.86" dx="0.95">H</tspan><tspan font-weight="400" stroke="#000" stroke-width="0.53" font-size="16.95" dx="-1.07" dy="4.77">0</tspan><tspan dy="-4.77" dx="-0.12">=0</tspan></text>
<text transform="translate(1453.9,306.8) scale(1,1.038)" font-size="23.87" font-weight="700">With Magnetic Field <tspan font-style="italic" font-weight="400" stroke="#000" stroke-width="0.86" dx="0.95">H</tspan><tspan font-weight="400" stroke="#000" stroke-width="0.53" font-size="16.95" dx="-1.07" dy="4.77">0</tspan><tspan dy="-4.77" dx="-0.12">=10</tspan><tspan font-weight="400" stroke="#000" stroke-width="0.53" font-size="16.95" dx="0.24" dy="-9.31">5</tspan></text>
<text transform="translate(1453.9,353.8) scale(1,1.038)" font-size="23.87" font-weight="700">With Magnetic Field <tspan font-style="italic" font-weight="400" stroke="#000" stroke-width="0.86" dx="0.95">H</tspan><tspan font-weight="400" stroke="#000" stroke-width="0.53" font-size="16.95" dx="-1.07" dy="4.77">0</tspan><tspan dy="-4.77" dx="-0.12">=10</tspan><tspan font-weight="400" stroke="#000" stroke-width="0.53" font-size="16.95" dx="0.24" dy="-9.31">7</tspan></text>
</g>
<g>
<line x1="90.4" y1="882.65" x2="947.85" y2="882.65" stroke="#b4b4b4" stroke-width="1"/>
<g fill="none" stroke-width="3.1" stroke-linejoin="round">
<path d="M107.5,882.65 L107.59,883.65 L107.69,884.64 L107.78,885.64 L107.87,886.63 L107.97,887.63 L108.06,888.62 L108.15,889.62 L108.25,890.62 L108.34,891.61 L108.44,892.61 L108.53,893.6 L108.63,894.6 L108.72,895.59 L108.82,896.59 L108.91,897.58 L109.01,898.58 L109.1,899.57 L109.2,900.57 L109.3,901.57 L109.39,902.56 L109.49,903.56 L109.58,904.55 L109.68,905.55 L109.78,906.54 L109.87,907.54 L109.97,908.53 L110.07,909.53 L110.17,910.52 L110.27,911.52 L110.36,912.51 L110.46,913.51 L110.56,914.5 L110.66,915.5 L110.76,916.49 L110.86,917.49 L110.96,918.48 L111.06,919.48 L111.15,920.47 L111.25,921.47 L111.35,922.46 L111.45,923.46 L111.55,924.45 L111.66,925.45 L111.76,926.44 L111.86,927.44 L111.96,928.43 L112.06,929.43 L112.16,930.42 L112.26,931.42 L112.36,932.41 L112.47,933.41 L112.57,934.4 L112.67,935.4 L112.78,936.39 L112.88,937.39 L112.98,938.38 L113.09,939.38 L113.19,940.37 L113.29,941.37 L113.4,942.36 L113.5,943.35 L113.61,944.35 L113.71,945.34 L113.82,946.34 L113.92,947.33 L114.03,948.33 L114.13,949.32 L114.24,950.32 L114.35,951.31 L114.45,952.3 L114.56,953.3 L114.67,954.29 L114.78,955.29 L114.88,956.28 L114.99,957.27 L115.1,958.27 L115.21,959.26 L115.32,960.26 L115.42,961.25 L115.53,962.25 L115.64,963.24 L115.75,964.23 L115.86,965.23 L115.97,966.22 L116.08,967.21 L116.19,968.21 L116.31,969.2 L116.42,970.2 L116.53,971.19 L116.64,972.18 L116.75,973.18 L116.87,974.17 L116.98,975.16 L117.09,976.16 L117.21,977.15 L117.32,978.14 L117.44,979.14 L117.55,980.13 L117.67,981.12 L117.78,982.12 L117.9,983.11 L118.01,984.11 L118.13,985.1 L118.25,986.09 L118.36,987.08 L118.48,988.08 L118.6,989.07 L118.71,990.06 L118.83,991.06 L118.95,992.05 L119.07,993.04 L119.19,994.03 L119.31,995.03 L119.43,996.02 L119.55,997.01 L119.67,998.01 L119.79,999 L119.92,999.99 L120.04,1000.98 L120.16,1001.98 L120.28,1002.97 L120.41,1003.96 L120.53,1004.95 L120.65,1005.95 L120.78,1006.94 L120.91,1007.93 L121.03,1008.92 L121.16,1009.91 L121.28,1010.9 L121.41,1011.9 L121.54,1012.89 L121.67,1013.88 L121.8,1014.87 L121.93,1015.86 L122.06,1016.86 L122.19,1017.85 L122.32,1018.84 L122.45,1019.83 L122.58,1020.82 L122.72,1021.81 L122.85,1022.8 L122.99,1023.79 L123.12,1024.78 L123.26,1025.78 L123.39,1026.77 L123.53,1027.76 L123.67,1028.75 L123.81,1029.74 L123.95,1030.73 L124.09,1031.72 L124.23,1032.71 L124.37,1033.7 L124.51,1034.69 L124.65,1035.68 L124.8,1036.67 L124.94,1037.66 L125.09,1038.64 L125.23,1039.63 L125.38,1040.62 L125.53,1041.61 L125.68,1042.6 L125.83,1043.59 L125.98,1044.58 L126.13,1045.57 L126.28,1046.56 L126.44,1047.54 L126.59,1048.53 L126.75,1049.52 L126.9,1050.51 L127.06,1051.49 L127.22,1052.48 L127.38,1053.47 L127.54,1054.46 L127.7,1055.44 L127.86,1056.43 L128.03,1057.42 L128.19,1058.4 L128.35,1059.39 L128.52,1060.38 L128.69,1061.36 L128.86,1062.35 L129.03,1063.33 L129.2,1064.32 L129.38,1065.3 L129.55,1066.29 L129.73,1067.27 L129.91,1068.26 L130.09,1069.24 L130.27,1070.22 L130.45,1071.2 L130.63,1072.19 L130.82,1073.17 L131,1074.15 L131.19,1075.13 L131.38,1076.12 L131.57,1077.1 L131.77,1078.08 L131.97,1079.06 L132.16,1080.04 L132.37,1081.02 L132.57,1082 L132.77,1082.98 L132.98,1083.96 L133.19,1084.93 L133.4,1085.91 L133.62,1086.89 L133.83,1087.86 L134.05,1088.84 L134.27,1089.82 L134.5,1090.79 L134.72,1091.76 L134.95,1092.74 L135.18,1093.71 L135.41,1094.68 L135.65,1095.65 L135.89,1096.63 L136.13,1097.6 L136.37,1098.57 L136.62,1099.54 L136.87,1100.5 L137.12,1101.47 L137.38,1102.44 L137.63,1103.4 L137.9,1104.37 L138.16,1105.33 L138.43,1106.3 L138.7,1107.26 L138.98,1108.22 L139.26,1109.18 L139.54,1110.14 L139.83,1111.1 L140.12,1112.05 L140.41,1113.01 L140.71,1113.96 L141.02,1114.92 L141.33,1115.87 L141.64,1116.82 L141.96,1117.76 L142.29,1118.71 L142.62,1119.65 L142.96,1120.59 L143.3,1121.53 L143.65,1122.47 L144.01,1123.4 L144.38,1124.33 L144.75,1125.26 L145.13,1126.18 L145.53,1127.1 L145.93,1128.02 L146.34,1128.93 L146.77,1129.84 L147.2,1130.73 L147.65,1131.63 L148.12,1132.51 L148.6,1133.39 L149.1,1134.26 L149.62,1135.11 L150.16,1135.95 L150.72,1136.78 L151.31,1137.59 L151.93,1138.37 L152.58,1139.13 L153.27,1139.86 L154,1140.54 L154.77,1141.18 L155.59,1141.75 L156.46,1142.24 L157.38,1142.64 L158.34,1142.92 L159.33,1143.06 L160.33,1143.07 L161.32,1142.93 L162.28,1142.68 L163.21,1142.31 L164.1,1141.85 L164.95,1141.32 L165.76,1140.73 L166.53,1140.09 L167.26,1139.41 L167.96,1138.7 L168.64,1137.96 L169.29,1137.2 L169.92,1136.43 L170.52,1135.63 L171.11,1134.82 L171.68,1134 L172.23,1133.16 L172.77,1132.32 L173.29,1131.47 L173.81,1130.61 L174.31,1129.75 L174.8,1128.88 L175.28,1128 L175.75,1127.12 L176.21,1126.23 L176.66,1125.34 L177.11,1124.44 L177.55,1123.54 L177.98,1122.64 L178.4,1121.73 L178.82,1120.83 L179.23,1119.92 L179.64,1119 L180.04,1118.09 L180.44,1117.17 L180.83,1116.25 L181.22,1115.33 L181.6,1114.4 L181.98,1113.48 L182.36,1112.55 L182.73,1111.62 L183.09,1110.69 L183.46,1109.76 L183.82,1108.83 L184.18,1107.89 L184.53,1106.96 L184.88,1106.02 L185.23,1105.09 L185.58,1104.15 L185.92,1103.21 L186.26,1102.27 L186.6,1101.33 L186.94,1100.39 L187.27,1099.44 L187.6,1098.5 L187.93,1097.56 L188.26,1096.61 L188.59,1095.67 L188.91,1094.72 L189.24,1093.77 L189.56,1092.83 L189.88,1091.88 L190.19,1090.93 L190.51,1089.98 L190.82,1089.03 L191.14,1088.08 L191.45,1087.13 L191.76,1086.18 L192.07,1085.23 L192.38,1084.28 L192.69,1083.33 L192.99,1082.38 L193.3,1081.42 L193.6,1080.47 L193.91,1079.52 L194.21,1078.57 L194.51,1077.61 L194.81,1076.66 L195.11,1075.71 L195.41,1074.75 L195.71,1073.8 L196,1072.84 L196.3,1071.89 L196.6,1070.93 L196.89,1069.98 L197.18,1069.02 L197.47,1068.06 L197.77,1067.11 L198.06,1066.15 L198.34,1065.19 L198.63,1064.23 L198.92,1063.28 L199.21,1062.32 L199.49,1061.36 L199.77,1060.4 L200.06,1059.44 L200.34,1058.48 L200.62,1057.52 L200.9,1056.56 L201.18,1055.6 L201.46,1054.64 L201.74,1053.68 L202.02,1052.72 L202.3,1051.76 L202.57,1050.8 L202.85,1049.84 L203.12,1048.88 L203.4,1047.92 L203.67,1046.95 L203.94,1045.99 L204.22,1045.03 L204.49,1044.07 L204.76,1043.11 L205.03,1042.14 L205.3,1041.18 L205.57,1040.22 L205.84,1039.25 L206.11,1038.29 L206.38,1037.33 L206.64,1036.36 L206.91,1035.4 L207.18,1034.44 L207.44,1033.47 L207.71,1032.51 L207.97,1031.54 L208.24,1030.58 L208.5,1029.62 L208.77,1028.65 L209.03,1027.69 L209.29,1026.72 L209.56,1025.76 L209.82,1024.79 L210.08,1023.83 L210.34,1022.86 L210.6,1021.9 L210.87,1020.93 L211.13,1019.97 L211.39,1019 L211.65,1018.03 L211.91,1017.07 L212.16,1016.1 L212.42,1015.14 L212.68,1014.17 L212.94,1013.2 L213.2,1012.24 L213.46,1011.27 L213.71,1010.3 L213.97,1009.34 L214.23,1008.37 L214.48,1007.41 L214.74,1006.44 L215,1005.47 L215.25,1004.51 L215.51,1003.54 L215.76,1002.57 L216.02,1001.61 L216.27,1000.64 L216.53,999.67 L216.78,998.71 L217.04,997.74 L217.29,996.77 L217.55,995.8 L217.8,994.84 L218.05,993.87 L218.31,992.9 L218.56,991.93 L218.81,990.97 L219.06,990 L219.32,989.03 L219.57,988.06 L219.82,987.1 L220.07,986.13 L220.32,985.16 L220.57,984.19 L220.83,983.22 L221.08,982.26 L221.33,981.29 L221.58,980.32 L221.83,979.35 L222.08,978.38 L222.33,977.41 L222.58,976.45 L222.83,975.48 L223.08,974.51 L223.33,973.54 L223.58,972.57 L223.83,971.61 L224.08,970.64 L224.33,969.67 L224.57,968.7 L224.82,967.73 L225.07,966.76 L225.32,965.79 L225.57,964.83 L225.82,963.86 L226.07,962.89 L226.32,961.92 L226.56,960.95 L226.81,959.98 L227.06,959.01 L227.31,958.05 L227.56,957.08 L227.81,956.11 L228.06,955.14 L228.31,954.17 L228.55,953.2 L228.8,952.23 L229.05,951.26 L229.3,950.3 L229.55,949.33 L229.8,948.36 L230.04,947.39 L230.29,946.42 L230.54,945.45 L230.79,944.49 L231.04,943.52 L231.29,942.55 L231.54,941.58 L231.78,940.61 L232.03,939.64 L232.28,938.67 L232.53,937.71 L232.78,936.74 L233.03,935.77 L233.28,934.8 L233.53,933.83 L233.78,932.86 L234.03,931.89 L234.28,930.93 L234.53,929.96 L234.78,928.99 L235.03,928.02 L235.28,927.05 L235.53,926.09 L235.78,925.12 L236.03,924.15 L236.28,923.18 L236.53,922.21 L236.78,921.24 L237.03,920.28 L237.28,919.31 L237.53,918.34 L237.79,917.37 L238.04,916.4 L238.29,915.44 L238.54,914.47 L238.79,913.5 L239.05,912.53 L239.3,911.57 L239.55,910.6 L239.81,909.63 L240.06,908.66 L240.31,907.7 L240.57,906.73 L240.82,905.76 L241.07,904.8 L241.33,903.83 L241.58,902.86 L241.84,901.89 L242.09,900.93 L242.35,899.96 L242.61,899 L242.86,898.03 L243.12,897.06 L243.37,896.09 L243.63,895.13 L243.89,894.16 L244.15,893.2 L244.4,892.23 L244.66,891.26 L244.92,890.3 L245.18,889.33 L245.44,888.37 L245.7,887.4 L245.96,886.43 L246.22,885.47 L246.48,884.5 L246.74,883.54 L247,882.57 L247.26,881.61 L247.52,880.64 L247.78,879.68 L248.04,878.71 L248.31,877.75 L248.57,876.78 L248.83,875.82 L249.09,874.85 L249.35,873.88 L249.61,872.92 L249.88,871.96 L250.14,870.99 L250.4,870.02 L250.66,869.06 L250.93,868.1 L251.19,867.13 L251.46,866.17 L251.72,865.2 L251.99,864.24 L252.25,863.27 L252.52,862.31 L252.79,861.35 L253.06,860.38 L253.33,859.42 L253.6,858.46 L253.87,857.5 L254.14,856.53 L254.41,855.57 L254.69,854.61 L254.96,853.65 L255.24,852.69 L255.52,851.73 L255.8,850.77 L256.08,849.81 L256.36,848.85 L256.64,847.89 L256.92,846.93 L257.21,845.97 L257.5,845.01 L257.78,844.05 L258.07,843.1 L258.36,842.14 L258.66,841.18 L258.95,840.23 L259.24,839.27 L259.54,838.32 L259.83,837.36 L260.13,836.41 L260.43,835.45 L260.73,834.5 L261.03,833.54 L261.33,832.59 L261.63,831.64 L261.94,830.68 L262.24,829.73 L262.55,828.78 L262.85,827.83 L263.15,826.88 L263.46,825.92 L263.77,824.97 L264.08,824.02 L264.38,823.07 L264.69,822.12 L265,821.17 L265.31,820.22 L265.62,819.26 L265.93,818.31 L266.24,817.36 L266.55,816.41 L266.87,815.46 L267.18,814.51 L267.49,813.56 L267.8,812.61 L268.11,811.66 L268.43,810.71 L268.74,809.76 L269.05,808.81 L269.36,807.86 L269.68,806.91 L269.99,805.96 L270.3,805.01 L270.61,804.06 L270.93,803.11 L271.24,802.16 L271.56,801.22 L271.87,800.27 L272.19,799.32 L272.5,798.37 L272.82,797.42 L273.14,796.47 L273.46,795.53 L273.78,794.58 L274.11,793.63 L274.43,792.69 L274.75,791.74 L275.08,790.79 L275.4,789.85 L275.73,788.9 L276.06,787.96 L276.38,787.01 L276.71,786.07 L277.05,785.13 L277.38,784.18 L277.71,783.24 L278.04,782.3 L278.38,781.36 L278.71,780.41 L279.05,779.47 L279.39,778.53 L279.73,777.59 L280.07,776.65 L280.41,775.71 L280.75,774.77 L281.1,773.83 L281.44,772.89 L281.79,771.95 L282.13,771.02 L282.49,770.08 L282.83,769.14 L283.19,768.21 L283.54,767.27 L283.89,766.34 L284.25,765.4 L284.61,764.47 L284.97,763.53 L285.33,762.6 L285.69,761.67 L286.05,760.74 L286.42,759.81 L286.78,758.88 L287.15,757.95 L287.52,757.02 L287.89,756.09 L288.26,755.16 L288.64,754.23 L289.01,753.31 L289.39,752.38 L289.77,751.46 L290.15,750.53 L290.54,749.61 L290.92,748.68 L291.31,747.76 L291.69,746.84 L292.08,745.92 L292.47,745 L292.86,744.08 L293.25,743.15 L293.64,742.24 L294.04,741.32 L294.44,740.4 L294.83,739.48 L295.24,738.57 L295.64,737.65 L296.04,736.74 L296.45,735.82 L296.86,734.91 L297.27,734 L297.69,733.09 L298.1,732.18 L298.52,731.27 L298.94,730.37 L299.37,729.46 L299.8,728.56 L300.23,727.65 L300.66,726.75 L301.09,725.85 L301.53,724.95 L301.98,724.06 L302.42,723.16 L302.87,722.27 L303.33,721.38 L303.78,720.49 L304.24,719.6 L304.71,718.72 L305.18,717.83 L305.65,716.95 L306.12,716.07 L306.6,715.19 L307.08,714.32 L307.57,713.44 L308.06,712.57 L308.56,711.7 L309.06,710.84 L309.56,709.97 L310.07,709.11 L310.58,708.25 L311.1,707.4 L311.62,706.54 L312.14,705.69 L312.67,704.84 L313.21,704 L313.75,703.15 L314.29,702.32 L314.84,701.48 L315.39,700.65 L315.95,699.82 L316.52,698.99 L317.09,698.17 L317.66,697.36 L318.25,696.54 L318.83,695.73 L319.43,694.93 L320.03,694.13 L320.63,693.33 L321.25,692.54 L321.86,691.76 L322.49,690.98 L323.12,690.2 L323.76,689.43 L324.41,688.67 L325.06,687.91 L325.72,687.16 L326.39,686.42 L327.07,685.68 L327.75,684.95 L328.45,684.23 L329.15,683.52 L329.86,682.81 L330.57,682.12 L331.3,681.43 L332.04,680.75 L332.78,680.09 L333.53,679.43 L334.3,678.78 L335.07,678.14 L335.85,677.52 L336.64,676.91 L337.44,676.31 L338.25,675.73 L339.07,675.15 L339.9,674.6 L340.74,674.05 L341.6,673.53 L342.45,673.02 L343.32,672.53 L344.2,672.05 L345.09,671.59 L345.99,671.15 L346.9,670.74 L347.82,670.34 L348.74,669.96 L349.68,669.6 L350.62,669.27 L351.57,668.95 L352.53,668.66 L353.49,668.4 L354.46,668.15 L355.44,667.94 L356.42,667.74 L357.4,667.57 L358.39,667.43 L359.38,667.31 L360.38,667.21 L361.38,667.14 L362.38,667.09 L363.38,667.07 L364.38,667.07 L365.38,667.1 L366.37,667.15 L367.37,667.22 L368.37,667.32 L369.36,667.43 L370.35,667.57 L371.34,667.73 L372.32,667.91 L373.3,668.11 L374.28,668.33 L375.25,668.57 L376.21,668.83 L377.18,669.1 L378.13,669.39 L379.08,669.7 L380.03,670.02 L380.97,670.36 L381.91,670.72 L382.84,671.08 L383.76,671.47 L384.68,671.86 L385.59,672.27 L386.5,672.69 L387.4,673.12 L388.3,673.57 L389.19,674.02 L390.07,674.49 L390.95,674.96 L391.83,675.45 L392.7,675.94 L393.56,676.44 L394.42,676.95 L395.27,677.47 L396.12,678 L396.97,678.54 L397.81,679.08 L398.64,679.63 L399.47,680.19 L400.3,680.75 L401.12,681.32 L401.94,681.9 L402.75,682.48 L403.56,683.07 L404.37,683.66 L405.17,684.26 L405.96,684.87 L406.76,685.47 L407.55,686.09 L408.33,686.71 L409.11,687.33 L409.89,687.96 L410.65,688.61 L411.4,689.27 L412.15,689.93 L412.9,690.6 L413.64,691.26 L414.38,691.94 L415.12,692.61 L415.86,693.29 L416.59,693.97 L417.32,694.65 L418.04,695.34 L418.77,696.03 L419.49,696.72 L420.21,697.42 L420.93,698.12 L421.64,698.82 L422.35,699.52 L423.06,700.22 L423.77,700.93 L424.48,701.64 L425.18,702.35 L425.88,703.06 L426.58,703.77 L427.28,704.49 L427.98,705.2 L428.67,705.92 L429.37,706.64 L430.06,707.37 L430.75,708.09 L431.44,708.82 L432.12,709.54 L432.81,710.27 L433.49,711 L434.17,711.73 L434.85,712.47 L435.53,713.2 L436.21,713.94 L436.88,714.67 L437.56,715.41 L438.23,716.15 L438.9,716.89 L439.57,717.63 L440.24,718.38 L440.91,719.12 L441.58,719.87 L442.24,720.61 L442.91,721.36 L443.57,722.11 L444.23,722.86 L444.89,723.61 L445.55,724.36 L446.21,725.11 L446.87,725.87 L447.53,726.62 L448.19,727.37 L448.84,728.13 L449.5,728.88 L450.15,729.64 L450.81,730.39 L451.46,731.15 L452.11,731.91 L452.76,732.67 L453.41,733.43 L454.06,734.19 L454.71,734.95 L455.36,735.71 L456.01,736.47 L456.66,737.23 L457.31,737.99 L457.95,738.76 L458.6,739.52 L459.25,740.28 L459.89,741.04 L460.54,741.81 L461.18,742.57 L461.83,743.34 L462.47,744.1 L463.12,744.87 L463.76,745.63 L464.41,746.4 L465.05,747.16 L465.69,747.93 L466.34,748.69 L466.98,749.46 L467.62,750.22 L468.26,750.99 L468.91,751.76 L469.55,752.52 L470.19,753.29 L470.84,754.05 L471.48,754.82 L472.12,755.59 L472.76,756.35 L473.41,757.12 L474.05,757.88 L474.69,758.65 L475.34,759.42 L475.98,760.18 L476.62,760.95 L477.27,761.71 L477.91,762.48 L478.55,763.24 L479.2,764.01 L479.84,764.77 L480.49,765.54 L481.13,766.3 L481.78,767.07 L482.42,767.83 L483.07,768.59 L483.71,769.36 L484.36,770.12 L485.01,770.88 L485.65,771.64 L486.3,772.41 L486.95,773.17 L487.6,773.93 L488.25,774.69 L488.9,775.45 L489.55,776.21 L490.2,776.97 L490.85,777.73 L491.5,778.49 L492.15,779.25 L492.81,780 L493.46,780.76 L494.11,781.52 L494.77,782.27 L495.42,783.03 L496.08,783.78 L496.73,784.54 L497.39,785.29 L498.05,786.04 L498.71,786.8 L499.37,787.55 L500.03,788.3 L500.69,789.05 L501.35,789.8 L502.01,790.55 L502.68,791.3 L503.34,792.05 L504,792.79 L504.67,793.54 L505.34,794.28 L506,795.03 L506.67,795.77 L507.34,796.52 L508.01,797.26 L508.68,798 L509.35,798.74 L510.03,799.48 L510.7,800.22 L511.38,800.96 L512.05,801.69 L512.73,802.43 L513.41,803.16 L514.09,803.9 L514.77,804.63 L515.45,805.36 L516.13,806.09 L516.82,806.82 L517.5,807.55 L518.19,808.28 L518.87,809.01 L519.56,809.73 L520.25,810.46 L520.94,811.18 L521.63,811.9 L522.33,812.62 L523.02,813.34 L523.72,814.06 L524.42,814.77 L525.12,815.49 L525.82,816.2 L526.52,816.92 L527.22,817.63 L527.92,818.34 L528.63,819.05 L529.34,819.76 L530.04,820.46 L530.75,821.17 L531.46,821.87 L532.18,822.57 L532.89,823.27 L533.61,823.97 L534.32,824.67 L535.04,825.36 L535.76,826.05 L536.48,826.75 L537.21,827.44 L537.93,828.13 L538.66,828.81 L539.39,829.5 L540.12,830.18 L540.85,830.87 L541.58,831.54 L542.32,832.22 L543.05,832.9 L543.79,833.58 L544.53,834.25 L545.27,834.92 L546.01,835.59 L546.76,836.26 L547.5,836.92 L548.25,837.58 L549,838.25 L549.76,838.9 L550.51,839.56 L551.26,840.22 L552.02,840.87 L552.78,841.52 L553.54,842.17 L554.31,842.82 L555.07,843.46 L555.84,844.1 L556.61,844.74 L557.38,845.38 L558.15,846.01 L558.92,846.64 L559.7,847.28 L560.48,847.9 L561.26,848.53 L562.04,849.15 L562.83,849.77 L563.62,850.38 L564.41,850.99 L565.21,851.6 L566,852.2 L566.8,852.8 L567.6,853.4 L568.41,854 L569.22,854.59 L570.02,855.17 L570.84,855.76 L571.65,856.34 L572.47,856.91 L573.29,857.49 L574.11,858.05 L574.93,858.62 L575.76,859.18 L576.59,859.74 L577.42,860.3 L578.26,860.85 L579.09,861.4 L579.93,861.95 L580.77,862.49 L581.61,863.03 L582.46,863.56 L583.3,864.09 L584.15,864.62 L585,865.15 L585.86,865.67 L586.71,866.19 L587.57,866.7 L588.43,867.21 L589.29,867.72 L590.15,868.23 L591.02,868.73 L591.89,869.23 L592.75,869.72 L593.62,870.21 L594.5,870.7 L595.37,871.19 L596.25,871.67 L597.13,872.15 L598.01,872.62 L598.89,873.1 L599.77,873.57 L600.65,874.03 L601.54,874.5 L602.43,874.96 L603.32,875.41 L604.21,875.87 L605.1,876.32 L605.99,876.77 L606.89,877.22 L607.78,877.66 L608.68,878.1 L609.58,878.54 L610.48,878.97 L611.39,879.4 L612.29,879.83 L613.2,880.25 L614.1,880.67 L615.01,881.09 L615.92,881.51 L616.83,881.92 L617.74,882.33 L618.66,882.73 L619.58,883.13 L620.49,883.53 L621.41,883.92 L622.33,884.31 L623.25,884.7 L624.18,885.08 L625.11,885.46 L626.03,885.84 L626.96,886.21 L627.89,886.57 L628.82,886.94 L629.76,887.29 L630.69,887.65 L631.63,888 L632.57,888.34 L633.51,888.68 L634.45,889.02 L635.39,889.35 L636.34,889.68 L637.28,890 L638.23,890.32 L639.18,890.64 L640.13,890.95 L641.08,891.25 L642.04,891.55 L642.99,891.84 L643.95,892.13 L644.91,892.42 L645.87,892.7 L646.83,892.97 L647.79,893.24 L648.76,893.51 L649.72,893.77 L650.69,894.02 L651.66,894.27 L652.63,894.51 L653.6,894.75 L654.57,894.98 L655.55,895.21 L656.52,895.43 L657.5,895.65 L658.48,895.86 L659.46,896.06 L660.43,896.26 L661.42,896.46 L662.4,896.65 L663.38,896.83 L664.36,897.01 L665.35,897.19 L666.33,897.37 L667.32,897.54 L668.3,897.7 L669.29,897.86 L670.28,898.02 L671.27,898.17 L672.26,898.32 L673.25,898.47 L674.24,898.61 L675.23,898.75 L676.22,898.88 L677.21,899.01 L678.2,899.14 L679.19,899.26 L680.18,899.38 L681.18,899.49 L682.17,899.6 L683.17,899.71 L684.16,899.82 L685.16,899.92 L686.15,900.01 L687.15,900.11 L688.14,900.2 L689.14,900.28 L690.14,900.36 L691.13,900.44 L692.13,900.52 L693.13,900.59 L694.12,900.66 L695.12,900.73 L696.12,900.79 L697.12,900.85 L698.12,900.9 L699.12,900.96 L700.12,901.01 L701.11,901.06 L702.11,901.1 L703.11,901.14 L704.11,901.18 L705.11,901.21 L706.11,901.25 L707.11,901.28 L708.11,901.3 L709.11,901.33 L710.11,901.35 L711.11,901.37 L712.11,901.38 L713.11,901.39 L714.11,901.4 L715.11,901.41 L716.11,901.42 L717.11,901.42 L718.11,901.42 L719.11,901.42 L720.11,901.41 L721.11,901.41 L722.11,901.4 L723.11,901.39 L724.11,901.38 L725.11,901.37 L726.11,901.35 L727.11,901.34 L728.11,901.32 L729.11,901.3 L730.11,901.29 L731.11,901.27 L732.11,901.24 L733.11,901.22 L734.11,901.2 L735.11,901.17 L736.11,901.14 L737.11,901.11 L738.11,901.08 L739.11,901.05 L740.1,901.02 L741.1,900.99 L742.1,900.95 L743.1,900.91 L744.1,900.88 L745.1,900.84 L746.1,900.8 L747.1,900.76 L748.1,900.72 L749.1,900.67 L750.1,900.63 L751.1,900.58 L752.09,900.53 L753.09,900.49 L754.09,900.44 L755.09,900.38 L756.09,900.33 L757.09,900.28 L758.09,900.23 L759.09,900.17 L760.08,900.12 L761.08,900.06 L762.08,900 L763.08,899.94 L764.08,899.88 L765.07,899.82 L766.07,899.75 L767.07,899.69 L768.07,899.63 L769.07,899.56 L770.06,899.49 L771.06,899.43 L772.06,899.36 L773.06,899.29 L774.05,899.22 L775.05,899.14 L776.05,899.07 L777.05,899 L778.04,898.92 L779.04,898.85 L780.04,898.77 L781.03,898.69 L782.03,898.61 L783.03,898.53 L784.02,898.45 L785.02,898.37 L786.02,898.28 L787.01,898.2 L788.01,898.11 L789.01,898.03 L790,897.94 L791,897.85 L792,897.76 L792.99,897.67 L793.99,897.58 L794.98,897.49 L795.98,897.39 L796.97,897.3 L797.97,897.21 L798.97,897.11 L799.96,897.02 L800.96,896.92 L801.95,896.83 L802.95,896.73 L803.94,896.64 L804.94,896.54 L805.93,896.45 L806.93,896.35 L807.92,896.25 L808.92,896.15 L809.91,896.06 L810.91,895.96 L811.9,895.86 L812.9,895.77 L813.89,895.67 L814.89,895.57 L815.88,895.47 L816.88,895.38 L817.88,895.28 L818.87,895.18 L819.87,895.08 L820.86,894.98 L821.86,894.88 L822.85,894.78 L823.85,894.69 L824.84,894.59 L825.84,894.49 L826.83,894.39 L827.83,894.29 L828.82,894.19 L829.82,894.09 L830.81,893.99 L831.81,893.89 L832.8,893.79 L833.8,893.7 L834.79,893.6 L835.79,893.5 L836.78,893.4 L837.78,893.3 L838.77,893.2 L839.77,893.1 L840.76,893 L841.76,892.9 L842.75,892.8 L843.75,892.7 L844.74,892.6 L845.74,892.5 L846.73,892.4 L847.73,892.3 L848.72,892.2 L849.72,892.11 L850.71,892.01 L851.71,891.91 L852.7,891.81 L853.7,891.72 L854.69,891.62 L855.69,891.52 L856.68,891.43 L857.68,891.33 L858.68,891.24 L859.67,891.14 L860.67,891.05 L861.66,890.95 L862.66,890.86 L863.65,890.77 L864.65,890.67 L865.65,890.58 L866.64,890.49 L867.64,890.4 L868.63,890.31 L869.63,890.22 L870.62,890.13 L871.62,890.04 L872.62,889.95 L873.61,889.86 L874.61,889.77 L875.61,889.69 L876.6,889.6 L877.6,889.51 L878.59,889.43 L879.59,889.34 L880.59,889.26 L881.58,889.17 L882.58,889.09 L883.58,889.01 L884.57,888.92 L885.57,888.84 L886.57,888.76 L887.56,888.68 L888.56,888.6 L889.56,888.52 L890.55,888.44 L891.55,888.36 L892.55,888.28 L893.54,888.2 L894.54,888.13 L895.54,888.05 L896.53,887.97 L897.53,887.9 L898.53,887.82 L899.53,887.75 L900.52,887.67 L901.52,887.6 L902.52,887.53 L903.52,887.46 L904.51,887.38 L905.51,887.31 L906.51,887.24 L907.51,887.17 L908.5,887.1 L909.5,887.04 L910.5,886.97 L911.5,886.9 L912.5,886.83 L913.49,886.77 L914.49,886.7 L915.49,886.63 L916.49,886.57 L917.48,886.51 L918.48,886.44 L919.48,886.38 L920.48,886.32 L921.48,886.26 L922.47,886.2 L923.47,886.13 L924.47,886.07 L925.47,886.01 L926.47,885.96 L927.47,885.9 L928.46,885.84 L929.46,885.78 L930.46,885.73 L931.46,885.67 L931.74,885.65" stroke="#ff0000"/>
<path d="M107.5,882.65 L107.6,883.64 L107.71,884.64 L107.81,885.63 L107.91,886.63 L108.02,887.62 L108.12,888.62 L108.23,889.61 L108.33,890.61 L108.44,891.6 L108.54,892.6 L108.65,893.59 L108.75,894.58 L108.86,895.58 L108.97,896.57 L109.08,897.57 L109.18,898.56 L109.29,899.55 L109.4,900.55 L109.51,901.54 L109.62,902.54 L109.73,903.53 L109.84,904.52 L109.95,905.52 L110.06,906.51 L110.17,907.51 L110.28,908.5 L110.4,909.49 L110.51,910.49 L110.62,911.48 L110.73,912.48 L110.85,913.47 L110.96,914.46 L111.08,915.46 L111.19,916.45 L111.31,917.44 L111.42,918.43 L111.54,919.43 L111.66,920.42 L111.77,921.41 L111.89,922.41 L112.01,923.4 L112.13,924.39 L112.25,925.39 L112.37,926.38 L112.49,927.37 L112.61,928.37 L112.73,929.36 L112.85,930.35 L112.97,931.34 L113.09,932.34 L113.22,933.33 L113.34,934.32 L113.47,935.31 L113.59,936.3 L113.72,937.3 L113.84,938.29 L113.97,939.28 L114.09,940.27 L114.22,941.26 L114.35,942.26 L114.48,943.25 L114.61,944.24 L114.74,945.23 L114.87,946.22 L115,947.21 L115.13,948.21 L115.26,949.2 L115.4,950.19 L115.53,951.18 L115.66,952.17 L115.8,953.16 L115.93,954.15 L116.07,955.14 L116.21,956.13 L116.34,957.12 L116.48,958.11 L116.62,959.1 L116.76,960.09 L116.9,961.08 L117.04,962.07 L117.19,963.06 L117.33,964.05 L117.47,965.04 L117.61,966.03 L117.76,967.02 L117.91,968.01 L118.05,969 L118.2,969.99 L118.35,970.98 L118.5,971.97 L118.65,972.96 L118.8,973.95 L118.95,974.93 L119.1,975.92 L119.26,976.91 L119.41,977.9 L119.57,978.88 L119.72,979.87 L119.88,980.86 L120.04,981.85 L120.2,982.84 L120.36,983.82 L120.52,984.81 L120.68,985.8 L120.85,986.78 L121.01,987.77 L121.18,988.75 L121.34,989.74 L121.51,990.73 L121.68,991.71 L121.85,992.7 L122.02,993.68 L122.2,994.67 L122.37,995.65 L122.55,996.64 L122.72,997.62 L122.9,998.61 L123.08,999.59 L123.26,1000.57 L123.45,1001.55 L123.63,1002.54 L123.81,1003.52 L124,1004.5 L124.19,1005.49 L124.38,1006.47 L124.57,1007.45 L124.77,1008.43 L124.96,1009.41 L125.16,1010.39 L125.36,1011.37 L125.56,1012.35 L125.76,1013.33 L125.97,1014.31 L126.17,1015.29 L126.38,1016.26 L126.59,1017.24 L126.8,1018.22 L127.02,1019.2 L127.23,1020.17 L127.45,1021.15 L127.68,1022.12 L127.9,1023.1 L128.13,1024.07 L128.36,1025.05 L128.59,1026.02 L128.82,1026.99 L129.06,1027.96 L129.3,1028.93 L129.54,1029.9 L129.79,1030.87 L130.04,1031.84 L130.29,1032.81 L130.55,1033.77 L130.81,1034.74 L131.07,1035.7 L131.34,1036.67 L131.61,1037.63 L131.89,1038.59 L132.17,1039.55 L132.46,1040.51 L132.75,1041.47 L133.04,1042.42 L133.34,1043.38 L133.64,1044.33 L133.95,1045.28 L134.27,1046.23 L134.59,1047.17 L134.92,1048.12 L135.25,1049.06 L135.6,1050 L135.95,1050.94 L136.31,1051.87 L136.67,1052.8 L137.05,1053.73 L137.43,1054.65 L137.83,1055.57 L138.24,1056.48 L138.66,1057.39 L139.09,1058.29 L139.53,1059.19 L140,1060.07 L140.47,1060.95 L140.97,1061.82 L141.49,1062.68 L142.02,1063.52 L142.58,1064.35 L143.17,1065.16 L143.79,1065.95 L144.44,1066.71 L145.12,1067.44 L145.84,1068.13 L146.61,1068.77 L147.43,1069.35 L148.29,1069.85 L149.2,1070.27 L150.15,1070.57 L151.14,1070.75 L152.14,1070.79 L153.13,1070.7 L154.11,1070.49 L155.06,1070.17 L155.97,1069.76 L156.84,1069.28 L157.69,1068.74 L158.49,1068.15 L159.27,1067.52 L160.02,1066.85 L160.75,1066.16 L161.45,1065.45 L162.13,1064.72 L162.79,1063.97 L163.44,1063.21 L164.06,1062.43 L164.68,1061.64 L165.28,1060.84 L165.87,1060.04 L166.45,1059.22 L167.01,1058.39 L167.57,1057.56 L168.11,1056.72 L168.65,1055.88 L169.17,1055.03 L169.69,1054.17 L170.2,1053.31 L170.69,1052.44 L171.18,1051.57 L171.66,1050.69 L172.14,1049.81 L172.6,1048.92 L173.05,1048.03 L173.5,1047.14 L173.94,1046.24 L174.37,1045.34 L174.78,1044.43 L175.19,1043.52 L175.6,1042.6 L176,1041.68 L176.39,1040.77 L176.78,1039.85 L177.17,1038.92 L177.55,1038 L177.93,1037.07 L178.31,1036.15 L178.68,1035.22 L179.05,1034.29 L179.41,1033.36 L179.78,1032.43 L180.14,1031.49 L180.49,1030.56 L180.85,1029.62 L181.2,1028.69 L181.55,1027.75 L181.9,1026.81 L182.24,1025.88 L182.58,1024.94 L182.92,1024 L183.26,1023.05 L183.6,1022.11 L183.94,1021.17 L184.27,1020.23 L184.6,1019.28 L184.93,1018.34 L185.26,1017.4 L185.59,1016.45 L185.91,1015.5 L186.23,1014.56 L186.56,1013.61 L186.88,1012.67 L187.2,1011.72 L187.52,1010.77 L187.84,1009.82 L188.16,1008.88 L188.49,1007.93 L188.83,1006.99 L189.18,1006.05 L189.53,1005.12 L189.87,1004.18 L190.21,1003.24 L190.53,1002.29 L190.83,1001.34 L191.14,1000.39 L191.45,999.43 L191.75,998.48 L192.06,997.53 L192.36,996.58 L192.66,995.62 L192.96,994.67 L193.26,993.72 L193.56,992.76 L193.86,991.81 L194.16,990.85 L194.46,989.9 L194.75,988.94 L195.05,987.99 L195.34,987.03 L195.64,986.08 L195.93,985.12 L196.22,984.16 L196.51,983.21 L196.8,982.25 L197.09,981.29 L197.38,980.34 L197.67,979.38 L197.96,978.42 L198.25,977.46 L198.54,976.51 L198.82,975.55 L199.11,974.59 L199.4,973.63 L199.68,972.67 L199.96,971.71 L200.25,970.75 L200.53,969.8 L200.82,968.84 L201.1,967.88 L201.38,966.92 L201.66,965.96 L201.94,965 L202.22,964.04 L202.5,963.08 L202.78,962.12 L203.06,961.16 L203.34,960.2 L203.62,959.24 L203.9,958.28 L204.18,957.32 L204.46,956.36 L204.74,955.4 L205.01,954.44 L205.29,953.48 L205.57,952.51 L205.84,951.55 L206.12,950.59 L206.4,949.63 L206.67,948.67 L206.95,947.71 L207.22,946.75 L207.5,945.79 L207.77,944.83 L208.05,943.86 L208.32,942.9 L208.6,941.94 L208.87,940.98 L209.15,940.02 L209.42,939.05 L209.69,938.09 L209.97,937.13 L210.24,936.17 L210.51,935.21 L210.79,934.25 L211.06,933.28 L211.33,932.32 L211.61,931.36 L211.88,930.4 L212.15,929.44 L212.43,928.47 L212.7,927.51 L212.97,926.55 L213.24,925.59 L213.52,924.62 L213.79,923.66 L214.06,922.7 L214.34,921.74 L214.61,920.78 L214.88,919.82 L215.15,918.85 L215.43,917.89 L215.7,916.93 L215.97,915.97 L216.24,915 L216.52,914.04 L216.79,913.08 L217.06,912.12 L217.34,911.16 L217.61,910.2 L217.88,909.23 L218.16,908.27 L218.43,907.31 L218.7,906.35 L218.98,905.38 L219.25,904.42 L219.53,903.46 L219.8,902.5 L220.07,901.54 L220.35,900.58 L220.62,899.62 L220.9,898.65 L221.17,897.69 L221.45,896.73 L221.73,895.77 L222,894.81 L222.28,893.85 L222.56,892.89 L222.83,891.93 L223.11,890.97 L223.39,890.01 L223.67,889.05 L223.95,888.09 L224.23,887.12 L224.51,886.16 L224.79,885.21 L225.07,884.25 L225.35,883.28 L225.63,882.33 L225.91,881.37 L226.19,880.41 L226.47,879.45 L226.76,878.49 L227.04,877.53 L227.32,876.57 L227.61,875.61 L227.89,874.65 L228.17,873.69 L228.46,872.73 L228.74,871.78 L229.03,870.82 L229.32,869.86 L229.6,868.9 L229.89,867.94 L230.18,866.99 L230.46,866.03 L230.75,865.07 L231.04,864.11 L231.33,863.15 L231.62,862.2 L231.91,861.24 L232.2,860.28 L232.49,859.33 L232.78,858.37 L233.07,857.41 L233.36,856.46 L233.65,855.5 L233.94,854.54 L234.24,853.59 L234.53,852.63 L234.83,851.68 L235.12,850.72 L235.41,849.76 L235.71,848.81 L236,847.85 L236.3,846.9 L236.6,845.94 L236.89,844.99 L237.19,844.03 L237.49,843.08 L237.79,842.12 L238.09,841.17 L238.38,840.22 L238.68,839.26 L238.98,838.31 L239.28,837.35 L239.58,836.4 L239.89,835.45 L240.19,834.49 L240.49,833.54 L240.79,832.59 L241.1,831.63 L241.4,830.68 L241.7,829.73 L242.01,828.78 L242.31,827.82 L242.62,826.87 L242.93,825.92 L243.23,824.97 L243.54,824.02 L243.85,823.07 L244.16,822.11 L244.47,821.16 L244.78,820.21 L245.09,819.26 L245.4,818.31 L245.71,817.36 L246.02,816.41 L246.33,815.46 L246.64,814.51 L246.96,813.56 L247.27,812.61 L247.59,811.66 L247.9,810.71 L248.22,809.76 L248.53,808.82 L248.85,807.87 L249.17,806.92 L249.49,805.97 L249.81,805.02 L250.12,804.08 L250.44,803.13 L250.76,802.18 L251.09,801.23 L251.41,800.29 L251.73,799.34 L252.06,798.39 L252.38,797.45 L252.7,796.5 L253.03,795.56 L253.36,794.61 L253.68,793.67 L254.01,792.72 L254.34,791.78 L254.67,790.83 L254.99,789.89 L255.32,788.94 L255.65,788 L255.99,787.06 L256.32,786.11 L256.65,785.17 L256.98,784.23 L257.32,783.28 L257.65,782.34 L257.99,781.4 L258.32,780.46 L258.66,779.52 L259,778.58 L259.34,777.63 L259.68,776.69 L260.02,775.75 L260.36,774.82 L260.7,773.88 L261.05,772.94 L261.4,772 L261.75,771.06 L262.09,770.12 L262.44,769.19 L262.8,768.25 L263.15,767.32 L263.5,766.38 L263.86,765.45 L264.22,764.51 L264.58,763.58 L264.94,762.65 L265.3,761.72 L265.67,760.78 L266.03,759.85 L266.4,758.92 L266.77,758 L267.14,757.07 L267.51,756.14 L267.89,755.21 L268.27,754.29 L268.65,753.36 L269.03,752.44 L269.41,751.51 L269.79,750.59 L270.18,749.67 L270.57,748.75 L270.96,747.83 L271.35,746.9 L271.75,745.99 L272.14,745.07 L272.54,744.15 L272.94,743.23 L273.34,742.32 L273.75,741.4 L274.15,740.49 L274.56,739.58 L274.97,738.66 L275.38,737.75 L275.8,736.84 L276.21,735.93 L276.63,735.03 L277.05,734.12 L277.48,733.21 L277.9,732.31 L278.33,731.4 L278.76,730.5 L279.19,729.6 L279.63,728.7 L280.07,727.8 L280.51,726.9 L280.95,726.01 L281.39,725.11 L281.84,724.22 L282.29,723.33 L282.75,722.43 L283.2,721.54 L283.66,720.65 L284.13,719.77 L284.59,718.88 L285.06,718 L285.53,717.12 L286.01,716.24 L286.49,715.36 L286.97,714.48 L287.45,713.61 L287.94,712.74 L288.43,711.87 L288.93,711 L289.43,710.13 L289.93,709.27 L290.44,708.41 L290.95,707.55 L291.47,706.69 L291.99,705.84 L292.51,704.99 L293.04,704.14 L293.57,703.29 L294.11,702.45 L294.65,701.61 L295.2,700.77 L295.75,699.94 L296.31,699.11 L296.87,698.28 L297.44,697.46 L298.01,696.64 L298.59,695.82 L299.18,695.01 L299.77,694.2 L300.37,693.4 L300.97,692.6 L301.58,691.81 L302.19,691.02 L302.81,690.24 L303.44,689.46 L304.07,688.68 L304.71,687.91 L305.35,687.15 L306.01,686.39 L306.67,685.64 L307.33,684.89 L308.01,684.16 L308.69,683.43 L309.39,682.71 L310.09,681.99 L310.8,681.29 L311.52,680.6 L312.25,679.91 L312.99,679.24 L313.74,678.58 L314.5,677.93 L315.27,677.29 L316.05,676.67 L316.85,676.06 L317.65,675.47 L318.46,674.89 L319.29,674.32 L320.13,673.78 L320.98,673.25 L321.84,672.74 L322.71,672.24 L323.59,671.77 L324.48,671.32 L325.38,670.88 L326.29,670.47 L327.21,670.08 L328.14,669.71 L329.08,669.36 L330.02,669.04 L330.98,668.73 L331.94,668.45 L332.9,668.2 L333.88,667.96 L334.85,667.75 L335.83,667.57 L336.82,667.41 L337.81,667.27 L338.81,667.16 L339.8,667.08 L340.8,667.02 L341.8,666.99 L342.8,666.98 L343.8,666.99 L344.8,667.03 L345.8,667.09 L346.8,667.18 L347.79,667.29 L348.78,667.42 L349.77,667.58 L350.75,667.75 L351.73,667.95 L352.71,668.17 L353.68,668.4 L354.65,668.66 L355.61,668.93 L356.57,669.22 L357.52,669.53 L358.46,669.86 L359.4,670.2 L360.34,670.55 L361.27,670.92 L362.19,671.31 L363.11,671.71 L364.02,672.12 L364.92,672.54 L365.82,672.98 L366.72,673.43 L367.6,673.89 L368.49,674.36 L369.37,674.84 L370.24,675.33 L371.1,675.83 L371.96,676.34 L372.82,676.85 L373.67,677.38 L374.52,677.91 L375.36,678.45 L376.19,679 L377.02,679.56 L377.85,680.12 L378.67,680.69 L379.49,681.26 L380.31,681.84 L381.12,682.43 L381.92,683.02 L382.72,683.62 L383.52,684.23 L384.31,684.83 L385.1,685.45 L385.89,686.07 L386.67,686.69 L387.45,687.31 L388.23,687.94 L389,688.58 L389.77,689.22 L390.54,689.86 L391.3,690.5 L392.06,691.15 L392.82,691.8 L393.58,692.46 L394.33,693.12 L395.08,693.78 L395.83,694.44 L396.57,695.11 L397.29,695.81 L398.01,696.5 L398.72,697.2 L399.44,697.9 L400.15,698.61 L400.86,699.31 L401.56,700.02 L402.27,700.73 L402.97,701.44 L403.67,702.16 L404.36,702.88 L405.06,703.6 L405.75,704.32 L406.44,705.04 L407.13,705.76 L407.82,706.49 L408.5,707.22 L409.19,707.95 L409.87,708.68 L410.55,709.42 L411.22,710.15 L411.9,710.89 L412.57,711.63 L413.25,712.36 L413.92,713.11 L414.59,713.85 L415.26,714.59 L415.93,715.34 L416.59,716.08 L417.26,716.83 L417.92,717.58 L418.58,718.33 L419.25,719.08 L419.9,719.83 L420.56,720.58 L421.22,721.33 L421.88,722.09 L422.53,722.84 L423.19,723.6 L423.84,724.35 L424.5,725.11 L425.15,725.87 L425.8,726.63 L426.45,727.39 L427.1,728.15 L427.75,728.91 L428.39,729.67 L429.04,730.44 L429.69,731.2 L430.33,731.96 L430.98,732.73 L431.62,733.49 L432.27,734.26 L432.91,735.02 L433.55,735.79 L434.19,736.55 L434.84,737.32 L435.48,738.09 L436.12,738.86 L436.76,739.62 L437.4,740.39 L438.04,741.16 L438.68,741.93 L439.32,742.7 L439.96,743.47 L440.59,744.24 L441.23,745.01 L441.87,745.78 L442.51,746.55 L443.14,747.32 L443.78,748.09 L444.42,748.86 L445.06,749.63 L445.69,750.4 L446.33,751.17 L446.97,751.94 L447.6,752.72 L448.24,753.49 L448.88,754.26 L449.51,755.03 L450.15,755.8 L450.79,756.57 L451.42,757.34 L452.06,758.11 L452.7,758.88 L453.34,759.65 L453.97,760.42 L454.61,761.2 L455.25,761.97 L455.89,762.74 L456.52,763.5 L457.16,764.27 L457.8,765.04 L458.44,765.81 L459.08,766.58 L459.72,767.35 L460.36,768.12 L461,768.89 L461.64,769.66 L462.28,770.42 L462.92,771.19 L463.56,771.96 L464.2,772.73 L464.85,773.49 L465.49,774.26 L466.13,775.02 L466.78,775.79 L467.42,776.55 L468.07,777.32 L468.71,778.08 L469.36,778.84 L470,779.61 L470.65,780.37 L471.3,781.13 L471.95,781.89 L472.6,782.65 L473.25,783.41 L473.9,784.17 L474.55,784.93 L475.2,785.69 L475.85,786.45 L476.51,787.2 L477.16,787.96 L477.82,788.72 L478.47,789.47 L479.13,790.23 L479.79,790.98 L480.44,791.73 L481.1,792.48 L481.76,793.24 L482.42,793.99 L483.09,794.74 L483.75,795.49 L484.41,796.23 L485.08,796.98 L485.74,797.73 L486.41,798.47 L487.07,799.22 L487.74,799.96 L488.41,800.7 L489.08,801.45 L489.75,802.19 L490.43,802.93 L491.1,803.66 L491.78,804.4 L492.45,805.14 L493.13,805.88 L493.81,806.61 L494.49,807.35 L495.17,808.08 L495.85,808.81 L496.53,809.54 L497.22,810.27 L497.9,811 L498.59,811.72 L499.28,812.45 L499.96,813.17 L500.66,813.9 L501.35,814.62 L502.04,815.34 L502.74,816.06 L503.43,816.78 L504.13,817.5 L504.83,818.21 L505.53,818.92 L506.23,819.64 L506.93,820.35 L507.64,821.06 L508.34,821.77 L509.05,822.47 L509.76,823.18 L510.47,823.88 L511.18,824.59 L511.89,825.29 L512.61,825.99 L513.33,826.68 L514.04,827.38 L514.76,828.07 L515.49,828.76 L516.21,829.46 L516.93,830.14 L517.66,830.83 L518.39,831.52 L519.12,832.2 L519.85,832.88 L520.58,833.56 L521.32,834.24 L522.05,834.92 L522.79,835.59 L523.53,836.27 L524.27,836.94 L525.01,837.61 L525.76,838.27 L526.5,838.94 L527.25,839.61 L528,840.27 L528.75,840.93 L529.5,841.59 L530.26,842.25 L531.01,842.9 L531.77,843.55 L532.53,844.2 L533.29,844.85 L534.05,845.5 L534.82,846.14 L535.58,846.79 L536.35,847.43 L537.12,848.07 L537.89,848.7 L538.67,849.33 L539.44,849.96 L540.22,850.59 L541,851.22 L541.78,851.84 L542.57,852.47 L543.35,853.08 L544.14,853.7 L544.93,854.31 L545.72,854.92 L546.51,855.53 L547.31,856.14 L548.11,856.74 L548.91,857.34 L549.71,857.94 L550.51,858.53 L551.32,859.12 L552.13,859.71 L552.94,860.3 L553.75,860.88 L554.57,861.46 L555.38,862.04 L556.21,862.61 L557.03,863.18 L557.85,863.75 L558.68,864.31 L559.5,864.87 L560.34,865.43 L561.17,865.98 L562,866.53 L562.84,867.08 L563.68,867.62 L564.52,868.16 L565.37,868.7 L566.21,869.23 L567.06,869.76 L567.91,870.28 L568.77,870.8 L569.62,871.32 L570.48,871.84 L571.34,872.35 L572.2,872.85 L573.07,873.35 L573.93,873.85 L574.8,874.35 L575.67,874.83 L576.55,875.32 L577.43,875.8 L578.3,876.28 L579.18,876.75 L580.07,877.22 L580.95,877.69 L581.84,878.15 L582.73,878.6 L583.62,879.05 L584.52,879.5 L585.41,879.95 L586.31,880.38 L587.21,880.82 L588.12,881.25 L589.02,881.68 L589.93,882.1 L590.84,882.52 L591.75,882.93 L592.66,883.34 L593.57,883.75 L594.49,884.15 L595.41,884.54 L596.33,884.94 L597.25,885.32 L598.17,885.71 L599.1,886.09 L600.02,886.46 L600.95,886.83 L601.88,887.19 L602.82,887.55 L603.75,887.91 L604.69,888.26 L605.63,888.61 L606.57,888.95 L607.51,889.29 L608.45,889.62 L609.39,889.95 L610.34,890.27 L611.29,890.59 L612.24,890.91 L613.19,891.22 L614.14,891.52 L615.1,891.82 L616.05,892.12 L617.01,892.41 L617.97,892.69 L618.92,892.98 L619.88,893.25 L620.85,893.52 L621.81,893.79 L622.78,894.05 L623.74,894.31 L624.71,894.57 L625.68,894.82 L626.65,895.06 L627.62,895.3 L628.59,895.54 L629.56,895.77 L630.53,896 L631.51,896.22 L632.49,896.44 L633.46,896.65 L634.44,896.87 L635.42,897.07 L636.4,897.27 L637.38,897.47 L638.36,897.66 L639.34,897.85 L640.33,898.03 L641.31,898.22 L642.29,898.39 L643.28,898.56 L644.26,898.73 L645.25,898.89 L646.24,899.05 L647.23,899.21 L648.21,899.36 L649.2,899.51 L650.19,899.65 L651.18,899.79 L652.17,899.93 L653.16,900.06 L654.16,900.18 L655.15,900.31 L656.14,900.43 L657.13,900.55 L658.13,900.66 L659.12,900.77 L660.12,900.87 L661.11,900.98 L662.11,901.08 L663.1,901.17 L664.1,901.26 L665.09,901.36 L666.09,901.44 L667.09,901.52 L668.08,901.61 L669.08,901.68 L670.08,901.76 L671.08,901.83 L672.07,901.9 L673.07,901.96 L674.07,902.02 L675.07,902.08 L676.07,902.14 L677.06,902.19 L678.06,902.25 L679.06,902.29 L680.06,902.34 L681.06,902.38 L682.06,902.42 L683.06,902.46 L684.06,902.49 L685.06,902.52 L686.06,902.55 L687.06,902.58 L688.06,902.61 L689.06,902.63 L690.06,902.65 L691.05,902.66 L692.05,902.68 L693.05,902.69 L694.05,902.7 L695.05,902.71 L696.05,902.71 L697.05,902.72 L698.05,902.72 L699.05,902.72 L700.05,902.71 L701.05,902.71 L702.05,902.7 L703.05,902.69 L704.05,902.67 L705.05,902.66 L706.05,902.64 L707.05,902.63 L708.05,902.61 L709.05,902.59 L710.05,902.56 L711.05,902.53 L712.05,902.51 L713.05,902.48 L714.05,902.45 L715.05,902.41 L716.05,902.38 L717.05,902.34 L718.05,902.3 L719.05,902.26 L720.05,902.22 L721.05,902.18 L722.05,902.13 L723.04,902.09 L724.04,902.04 L725.04,901.99 L726.04,901.94 L727.04,901.89 L728.04,901.83 L729.04,901.78 L730.03,901.72 L731.03,901.66 L732.03,901.6 L733.03,901.54 L734.03,901.48 L735.03,901.42 L736.02,901.35 L737.02,901.29 L738.02,901.22 L739.02,901.16 L740.01,901.09 L741.01,901.02 L742.01,900.95 L743.01,900.88 L744.01,900.81 L745,900.74 L746,900.67 L747,900.6 L748,900.53 L748.99,900.45 L749.99,900.38 L750.99,900.3 L751.98,900.23 L752.98,900.15 L753.98,900.07 L754.98,899.99 L755.97,899.91 L756.97,899.83 L757.97,899.75 L758.96,899.66 L759.96,899.58 L760.95,899.49 L761.95,899.41 L762.95,899.32 L763.94,899.23 L764.94,899.14 L765.93,899.05 L766.93,898.96 L767.93,898.87 L768.92,898.77 L769.92,898.68 L770.91,898.58 L771.91,898.49 L772.9,898.39 L773.9,898.29 L774.89,898.2 L775.89,898.1 L776.88,898 L777.88,897.9 L778.88,897.8 L779.87,897.7 L780.87,897.61 L781.86,897.51 L782.86,897.41 L783.85,897.31 L784.85,897.21 L785.84,897.11 L786.84,897.01 L787.83,896.91 L788.83,896.81 L789.82,896.71 L790.82,896.61 L791.81,896.5 L792.8,896.4 L793.8,896.3 L794.79,896.2 L795.79,896.1 L796.78,896 L797.78,895.9 L798.77,895.8 L799.77,895.7 L800.76,895.6 L801.76,895.5 L802.75,895.4 L803.75,895.3 L804.74,895.2 L805.74,895.1 L806.73,895 L807.73,894.9 L808.72,894.8 L809.72,894.7 L810.71,894.6 L811.71,894.5 L812.7,894.4 L813.7,894.3 L814.69,894.2 L815.69,894.1 L816.68,894 L817.68,893.9 L818.67,893.81 L819.67,893.71 L820.66,893.61 L821.66,893.51 L822.65,893.42 L823.65,893.32 L824.65,893.22 L825.64,893.13 L826.64,893.03 L827.63,892.94 L828.63,892.84 L829.62,892.75 L830.62,892.65 L831.61,892.56 L832.61,892.47 L833.61,892.37 L834.6,892.28 L835.6,892.18 L836.59,892.09 L837.59,892 L838.58,891.91 L839.58,891.82 L840.58,891.73 L841.57,891.64 L842.57,891.55 L843.56,891.46 L844.56,891.37 L845.56,891.28 L846.55,891.19 L847.55,891.1 L848.54,891.01 L849.54,890.93 L850.54,890.84 L851.53,890.75 L852.53,890.67 L853.52,890.58 L854.52,890.5 L855.52,890.41 L856.51,890.33 L857.51,890.24 L858.51,890.16 L859.5,890.08 L860.5,890 L861.5,889.91 L862.49,889.83 L863.49,889.75 L864.49,889.67 L865.48,889.59 L866.48,889.51 L867.48,889.43 L868.48,889.35 L869.47,889.27 L870.47,889.2 L871.47,889.12 L872.46,889.04 L873.46,888.97 L874.46,888.89 L875.45,888.81 L876.45,888.74 L877.45,888.66 L878.45,888.59 L879.44,888.52 L880.44,888.45 L881.44,888.37 L882.43,888.3 L883.43,888.23 L884.43,888.16 L885.43,888.09 L886.42,888.02 L887.42,887.95 L888.42,887.88 L889.42,887.81 L890.42,887.74 L891.41,887.68 L892.41,887.61 L893.41,887.54 L894.41,887.48 L895.4,887.41 L896.4,887.35 L897.4,887.28 L898.4,887.22 L899.4,887.16 L900.39,887.09 L901.39,887.03 L902.39,886.97 L903.39,886.91 L904.39,886.85 L905.38,886.79 L906.38,886.73 L907.38,886.67 L908.38,886.61 L909.38,886.55 L910.38,886.5 L911.38,886.44 L912.37,886.38 L913.37,886.33 L914.37,886.27 L915.37,886.22 L916.37,886.16 L917.37,886.11 L918.36,886.05 L919.36,886 L920.36,885.95 L921.36,885.89 L922.36,885.84 L923.36,885.79 L924.36,885.74 L925.36,885.69 L926.35,885.64 L927.35,885.59 L928.35,885.54 L929.35,885.5 L930.35,885.45 L930.94,885.42" stroke="#00ff00" stroke-dasharray="17.0 20.6" stroke-dashoffset="0"/>
<path d="M107.5,882.65 L107.65,883.64 L107.8,884.63 L107.96,885.62 L108.11,886.6 L108.27,887.59 L108.43,888.58 L108.59,889.57 L108.75,890.55 L108.91,891.54 L109.08,892.52 L109.24,893.51 L109.41,894.5 L109.58,895.48 L109.75,896.47 L109.92,897.45 L110.09,898.44 L110.27,899.42 L110.44,900.41 L110.62,901.39 L110.8,902.38 L110.98,903.36 L111.16,904.34 L111.35,905.33 L111.53,906.31 L111.72,907.29 L111.91,908.27 L112.1,909.25 L112.29,910.24 L112.49,911.22 L112.68,912.2 L112.88,913.18 L113.08,914.16 L113.29,915.13 L113.49,916.11 L113.7,917.09 L113.91,918.07 L114.12,919.05 L114.33,920.02 L114.55,921 L114.77,921.98 L114.98,922.95 L115.21,923.93 L115.43,924.9 L115.66,925.88 L115.89,926.85 L116.12,927.82 L116.36,928.79 L116.6,929.76 L116.84,930.73 L117.08,931.7 L117.33,932.67 L117.58,933.64 L117.84,934.61 L118.09,935.57 L118.35,936.54 L118.62,937.5 L118.89,938.47 L119.16,939.43 L119.43,940.39 L119.71,941.35 L120,942.31 L120.29,943.27 L120.58,944.22 L120.88,945.18 L121.18,946.13 L121.49,947.08 L121.8,948.03 L122.12,948.98 L122.44,949.93 L122.78,950.87 L123.11,951.81 L123.46,952.75 L123.81,953.69 L124.17,954.62 L124.53,955.55 L124.91,956.48 L125.29,957.4 L125.69,958.32 L126.09,959.24 L126.5,960.15 L126.93,961.05 L127.37,961.95 L127.82,962.84 L128.28,963.73 L128.76,964.6 L129.26,965.47 L129.78,966.33 L130.31,967.17 L130.87,968 L131.45,968.82 L132.06,969.61 L132.69,970.38 L133.36,971.13 L134.06,971.84 L134.81,972.51 L135.59,973.13 L136.42,973.69 L137.29,974.17 L138.21,974.57 L139.17,974.86 L140.15,975.04 L141.15,975.09 L142.15,975.01 L143.13,974.81 L144.08,974.51 L145,974.12 L145.88,973.65 L146.73,973.12 L147.55,972.54 L148.33,971.92 L149.09,971.27 L149.81,970.58 L150.52,969.87 L151.2,969.14 L151.86,968.39 L152.5,967.62 L153.13,966.84 L153.74,966.05 L154.34,965.25 L154.93,964.44 L155.5,963.62 L156.06,962.79 L156.61,961.96 L157.15,961.12 L157.69,960.27 L158.21,959.42 L158.73,958.57 L159.24,957.7 L159.74,956.84 L160.24,955.97 L160.73,955.1 L161.21,954.23 L161.69,953.35 L162.17,952.47 L162.63,951.58 L163.1,950.7 L163.56,949.81 L164.01,948.92 L164.46,948.02 L164.91,947.13 L165.35,946.23 L165.79,945.33 L166.22,944.43 L166.65,943.53 L167.08,942.63 L167.5,941.72 L167.92,940.81 L168.34,939.9 L168.75,938.99 L169.16,938.08 L169.57,937.17 L169.97,936.25 L170.37,935.34 L170.77,934.42 L171.16,933.5 L171.56,932.58 L171.95,931.66 L172.33,930.74 L172.72,929.81 L173.1,928.89 L173.47,927.96 L173.85,927.03 L174.22,926.11 L174.59,925.18 L174.96,924.25 L175.32,923.32 L175.68,922.38 L176.04,921.45 L176.4,920.52 L176.76,919.58 L177.12,918.65 L177.47,917.71 L177.82,916.78 L178.17,915.84 L178.52,914.9 L178.87,913.97 L179.22,913.03 L179.56,912.09 L179.91,911.15 L180.25,910.21 L180.59,909.27 L180.93,908.33 L181.27,907.39 L181.61,906.45 L181.95,905.51 L182.29,904.57 L182.62,903.63 L182.96,902.68 L183.29,901.74 L183.63,900.8 L183.96,899.86 L184.29,898.91 L184.63,897.97 L184.96,897.03 L185.29,896.08 L185.62,895.14 L185.95,894.2 L186.28,893.25 L186.61,892.31 L186.94,891.36 L187.27,890.42 L187.59,889.48 L187.92,888.53 L188.25,887.59 L188.58,886.64 L188.91,885.7 L189.23,884.75 L189.56,883.81 L189.89,882.86 L190.22,881.92 L190.55,880.97 L190.88,880.03 L191.21,879.08 L191.53,878.14 L191.87,877.2 L192.2,876.25 L192.53,875.31 L192.86,874.37 L193.19,873.42 L193.52,872.48 L193.86,871.54 L194.19,870.59 L194.52,869.65 L194.86,868.71 L195.19,867.76 L195.52,866.82 L195.86,865.88 L196.19,864.94 L196.53,864 L196.86,863.05 L197.19,862.11 L197.53,861.17 L197.86,860.22 L198.2,859.28 L198.53,858.34 L198.86,857.4 L199.2,856.45 L199.53,855.51 L199.86,854.57 L200.2,853.62 L200.53,852.68 L200.86,851.74 L201.19,850.8 L201.53,849.85 L201.86,848.91 L202.19,847.97 L202.52,847.02 L202.86,846.08 L203.19,845.14 L203.53,844.2 L203.86,843.25 L204.2,842.31 L204.53,841.37 L204.87,840.43 L205.21,839.49 L205.54,838.55 L205.88,837.61 L206.22,836.66 L206.56,835.72 L206.9,834.78 L207.24,833.84 L207.58,832.9 L207.92,831.96 L208.26,831.02 L208.6,830.08 L208.94,829.14 L209.28,828.2 L209.62,827.26 L209.96,826.32 L210.3,825.38 L210.64,824.44 L210.98,823.5 L211.32,822.56 L211.66,821.62 L212,820.68 L212.34,819.74 L212.68,818.8 L213.02,817.86 L213.36,816.91 L213.7,815.97 L214.04,815.03 L214.38,814.09 L214.72,813.15 L215.06,812.21 L215.39,811.27 L215.73,810.33 L216.07,809.39 L216.4,808.45 L216.74,807.5 L217.08,806.56 L217.41,805.62 L217.75,804.68 L218.08,803.73 L218.41,802.79 L218.75,801.85 L219.08,800.91 L219.42,799.96 L219.75,799.02 L220.08,798.08 L220.42,797.14 L220.75,796.19 L221.09,795.25 L221.42,794.31 L221.76,793.37 L222.09,792.42 L222.43,791.48 L222.76,790.54 L223.1,789.6 L223.44,788.66 L223.78,787.72 L224.12,786.78 L224.46,785.84 L224.8,784.9 L225.15,783.96 L225.49,783.02 L225.83,782.08 L226.18,781.14 L226.53,780.21 L226.88,779.27 L227.23,778.33 L227.58,777.4 L227.93,776.46 L228.29,775.52 L228.65,774.59 L229,773.66 L229.36,772.72 L229.72,771.79 L230.08,770.86 L230.44,769.92 L230.81,768.99 L231.17,768.06 L231.53,767.13 L231.9,766.2 L232.27,765.27 L232.64,764.34 L233.01,763.41 L233.38,762.48 L233.75,761.56 L234.13,760.63 L234.5,759.7 L234.88,758.78 L235.26,757.85 L235.65,756.93 L236.03,756 L236.41,755.08 L236.8,754.16 L237.19,753.24 L237.58,752.32 L237.98,751.4 L238.37,750.48 L238.77,749.56 L239.17,748.65 L239.57,747.73 L239.98,746.82 L240.39,745.91 L240.8,744.99 L241.21,744.08 L241.63,743.17 L242.05,742.27 L242.47,741.36 L242.89,740.45 L243.32,739.55 L243.75,738.65 L244.18,737.75 L244.62,736.85 L245.06,735.95 L245.5,735.05 L245.95,734.15 L246.4,733.26 L246.85,732.37 L247.3,731.48 L247.76,730.59 L248.22,729.7 L248.68,728.82 L249.15,727.93 L249.62,727.05 L250.09,726.17 L250.57,725.29 L251.05,724.41 L251.53,723.54 L252.02,722.66 L252.51,721.79 L253,720.92 L253.5,720.05 L254,719.19 L254.5,718.32 L255.01,717.46 L255.52,716.6 L256.04,715.75 L256.56,714.89 L257.08,714.04 L257.61,713.19 L258.14,712.34 L258.67,711.5 L259.21,710.65 L259.75,709.81 L260.3,708.98 L260.85,708.14 L261.41,707.31 L261.97,706.48 L262.54,705.66 L263.11,704.84 L263.68,704.02 L264.26,703.2 L264.84,702.39 L265.43,701.58 L266.03,700.78 L266.63,699.98 L267.23,699.18 L267.85,698.39 L268.47,697.61 L269.1,696.83 L269.73,696.06 L270.38,695.3 L271.03,694.54 L271.69,693.79 L272.37,693.05 L273.05,692.32 L273.74,691.59 L274.44,690.88 L275.14,690.17 L275.86,689.48 L276.59,688.79 L277.32,688.11 L278.07,687.45 L278.83,686.79 L279.59,686.15 L280.37,685.52 L281.15,684.9 L281.95,684.29 L282.75,683.7 L283.56,683.12 L284.39,682.55 L285.22,682 L286.07,681.46 L286.92,680.94 L287.78,680.43 L288.66,679.95 L289.54,679.48 L290.43,679.02 L291.33,678.59 L292.24,678.17 L293.16,677.77 L294.08,677.39 L295.01,677.03 L295.96,676.7 L296.91,676.38 L297.86,676.09 L298.82,675.81 L299.79,675.56 L300.76,675.33 L301.74,675.12 L302.73,674.94 L303.71,674.78 L304.7,674.63 L305.69,674.52 L306.69,674.42 L307.69,674.35 L308.69,674.29 L309.69,674.26 L310.69,674.25 L311.69,674.26 L312.69,674.29 L313.68,674.35 L314.68,674.42 L315.68,674.52 L316.67,674.64 L317.66,674.78 L318.65,674.94 L319.63,675.12 L320.61,675.32 L321.58,675.54 L322.56,675.78 L323.52,676.03 L324.48,676.31 L325.44,676.6 L326.39,676.91 L327.34,677.23 L328.28,677.57 L329.21,677.93 L330.14,678.3 L331.07,678.68 L331.98,679.08 L332.89,679.49 L333.8,679.92 L334.7,680.35 L335.59,680.8 L336.48,681.26 L337.36,681.74 L338.24,682.22 L339.11,682.71 L339.97,683.21 L340.83,683.73 L341.68,684.25 L342.53,684.78 L343.37,685.32 L344.21,685.87 L345.04,686.42 L345.87,686.99 L346.69,687.55 L347.5,688.13 L348.32,688.72 L349.12,689.31 L349.92,689.91 L350.72,690.51 L351.51,691.12 L352.3,691.74 L353.08,692.36 L353.86,692.99 L354.63,693.62 L355.41,694.26 L356.17,694.9 L356.93,695.55 L357.69,696.2 L358.45,696.86 L359.2,697.52 L359.95,698.18 L360.69,698.85 L361.43,699.52 L362.17,700.2 L362.9,700.88 L363.63,701.56 L364.36,702.25 L365.08,702.93 L365.81,703.63 L366.52,704.32 L367.24,705.02 L367.95,705.72 L368.66,706.43 L369.37,707.13 L370.08,707.84 L370.78,708.55 L371.48,709.27 L372.18,709.99 L372.87,710.7 L373.56,711.43 L374.25,712.15 L374.94,712.88 L375.63,713.6 L376.31,714.33 L376.99,715.07 L377.67,715.8 L378.35,716.53 L379.02,717.27 L379.7,718.01 L380.37,718.75 L381.04,719.5 L381.7,720.24 L382.37,720.99 L383.03,721.74 L383.69,722.49 L384.36,723.24 L385.01,723.99 L385.67,724.74 L386.33,725.5 L386.98,726.25 L387.63,727.01 L388.28,727.77 L388.93,728.53 L389.58,729.29 L390.23,730.06 L390.87,730.82 L391.52,731.59 L392.16,732.35 L392.8,733.12 L393.44,733.89 L394.08,734.66 L394.72,735.43 L395.35,736.2 L395.99,736.97 L396.62,737.74 L397.26,738.52 L397.89,739.29 L398.52,740.07 L399.15,740.84 L399.78,741.62 L400.41,742.4 L401.04,743.18 L401.66,743.96 L402.29,744.74 L402.91,745.52 L403.54,746.3 L404.16,747.08 L404.78,747.86 L405.4,748.65 L406.02,749.43 L406.64,750.22 L407.26,751 L407.88,751.79 L408.5,752.57 L409.12,753.36 L409.74,754.14 L410.37,754.92 L411.01,755.68 L411.66,756.45 L412.31,757.21 L412.95,757.98 L413.59,758.74 L414.24,759.51 L414.88,760.27 L415.53,761.03 L416.17,761.8 L416.82,762.56 L417.46,763.33 L418.11,764.09 L418.75,764.86 L419.39,765.62 L420.04,766.39 L420.68,767.15 L421.33,767.91 L421.97,768.68 L422.62,769.44 L423.26,770.21 L423.91,770.97 L424.56,771.73 L425.2,772.5 L425.85,773.26 L426.5,774.02 L427.14,774.78 L427.79,775.55 L428.44,776.31 L429.09,777.07 L429.74,777.83 L430.39,778.59 L431.04,779.35 L431.69,780.11 L432.33,780.87 L432.99,781.63 L433.64,782.39 L434.29,783.15 L434.94,783.91 L435.59,784.66 L436.25,785.42 L436.9,786.18 L437.56,786.93 L438.21,787.69 L438.87,788.45 L439.52,789.2 L440.18,789.95 L440.84,790.71 L441.49,791.46 L442.15,792.21 L442.81,792.96 L443.47,793.71 L444.13,794.46 L444.8,795.21 L445.46,795.96 L446.12,796.71 L446.79,797.46 L447.45,798.21 L448.12,798.95 L448.78,799.7 L449.45,800.44 L450.12,801.19 L450.79,801.93 L451.46,802.67 L452.13,803.41 L452.8,804.15 L453.47,804.89 L454.15,805.63 L454.82,806.37 L455.5,807.11 L456.18,807.84 L456.85,808.58 L457.53,809.31 L458.21,810.05 L458.89,810.78 L459.57,811.51 L460.26,812.24 L460.94,812.97 L461.63,813.7 L462.31,814.42 L463,815.15 L463.69,815.88 L464.38,816.6 L465.07,817.32 L465.77,818.04 L466.46,818.76 L467.15,819.48 L467.85,820.2 L468.55,820.91 L469.25,821.63 L469.95,822.34 L470.65,823.06 L471.35,823.77 L472.06,824.48 L472.76,825.18 L473.47,825.89 L474.18,826.6 L474.89,827.3 L475.61,828 L476.32,828.7 L477.04,829.4 L477.75,830.09 L478.47,830.79 L479.2,831.48 L479.92,832.17 L480.64,832.86 L481.37,833.55 L482.1,834.23 L482.83,834.92 L483.56,835.6 L484.29,836.28 L485.03,836.96 L485.76,837.63 L486.5,838.31 L487.24,838.98 L487.99,839.65 L488.73,840.32 L489.48,840.98 L490.22,841.65 L490.97,842.31 L491.72,842.97 L492.48,843.63 L493.23,844.28 L493.99,844.93 L494.75,845.59 L495.51,846.24 L496.27,846.88 L497.04,847.53 L497.8,848.17 L498.57,848.81 L499.34,849.45 L500.12,850.08 L500.89,850.71 L501.67,851.34 L502.44,851.97 L503.23,852.6 L504.01,853.22 L504.79,853.84 L505.58,854.46 L506.37,855.07 L507.16,855.68 L507.95,856.3 L508.74,856.9 L509.54,857.51 L510.34,858.11 L511.14,858.71 L511.94,859.31 L512.75,859.9 L513.55,860.49 L514.36,861.08 L515.17,861.66 L515.99,862.25 L516.8,862.83 L517.62,863.4 L518.43,863.98 L519.26,864.55 L520.08,865.12 L520.9,865.68 L521.73,866.24 L522.56,866.8 L523.4,867.35 L524.23,867.9 L525.07,868.45 L525.91,868.99 L526.75,869.53 L527.59,870.07 L528.44,870.6 L529.29,871.13 L530.14,871.65 L530.99,872.17 L531.85,872.69 L532.71,873.21 L533.57,873.72 L534.43,874.22 L535.3,874.72 L536.16,875.22 L537.03,875.72 L537.9,876.21 L538.78,876.69 L539.65,877.17 L540.53,877.65 L541.41,878.13 L542.3,878.6 L543.18,879.06 L544.07,879.52 L544.96,879.98 L545.85,880.44 L546.74,880.89 L547.64,881.33 L548.53,881.77 L549.43,882.21 L550.33,882.64 L551.24,883.07 L552.14,883.5 L553.05,883.92 L553.96,884.33 L554.87,884.75 L555.78,885.15 L556.7,885.56 L557.62,885.96 L558.53,886.35 L559.45,886.74 L560.38,887.13 L561.3,887.51 L562.23,887.89 L563.15,888.26 L564.08,888.63 L565.01,889 L565.95,889.36 L566.88,889.71 L567.82,890.07 L568.75,890.41 L569.69,890.76 L570.63,891.1 L571.58,891.43 L572.52,891.76 L573.47,892.09 L574.41,892.41 L575.36,892.73 L576.31,893.04 L577.26,893.35 L578.21,893.66 L579.17,893.96 L580.12,894.26 L581.08,894.55 L582.03,894.84 L582.99,895.13 L583.95,895.4 L584.91,895.68 L585.88,895.95 L586.84,896.22 L587.81,896.48 L588.77,896.73 L589.74,896.99 L590.71,897.23 L591.68,897.48 L592.65,897.71 L593.62,897.95 L594.6,898.18 L595.57,898.4 L596.55,898.62 L597.52,898.83 L598.5,899.04 L599.48,899.25 L600.46,899.45 L601.44,899.65 L602.42,899.84 L603.4,900.03 L604.39,900.21 L605.37,900.39 L606.35,900.57 L607.34,900.74 L608.33,900.91 L609.31,901.07 L610.3,901.23 L611.29,901.38 L612.28,901.53 L613.27,901.67 L614.26,901.82 L615.25,901.96 L616.24,902.09 L617.23,902.22 L618.22,902.34 L619.21,902.46 L620.21,902.58 L621.2,902.7 L622.19,902.81 L623.19,902.91 L624.18,903.01 L625.18,903.11 L626.17,903.21 L627.17,903.3 L628.17,903.39 L629.16,903.47 L630.16,903.55 L631.16,903.63 L632.15,903.7 L633.15,903.77 L634.15,903.84 L635.15,903.9 L636.14,903.97 L637.14,904.02 L638.14,904.08 L639.14,904.13 L640.14,904.17 L641.14,904.22 L642.14,904.26 L643.14,904.3 L644.14,904.34 L645.13,904.37 L646.13,904.4 L647.13,904.43 L648.13,904.45 L649.13,904.47 L650.13,904.49 L651.13,904.51 L652.13,904.52 L653.13,904.53 L654.13,904.54 L655.13,904.55 L656.13,904.55 L657.13,904.55 L658.13,904.55 L659.13,904.55 L660.13,904.54 L661.13,904.53 L662.13,904.52 L663.13,904.51 L664.13,904.5 L665.13,904.48 L666.13,904.46 L667.13,904.44 L668.13,904.41 L669.13,904.39 L670.13,904.36 L671.13,904.33 L672.13,904.3 L673.13,904.26 L674.13,904.23 L675.13,904.19 L676.13,904.15 L677.13,904.11 L678.13,904.07 L679.12,904.02 L680.12,903.97 L681.12,903.92 L682.12,903.88 L683.12,903.82 L684.12,903.77 L685.12,903.71 L686.12,903.66 L687.11,903.6 L688.11,903.54 L689.11,903.47 L690.11,903.41 L691.11,903.35 L692.1,903.28 L693.1,903.21 L694.1,903.14 L695.1,903.07 L696.09,903 L697.09,902.92 L698.09,902.85 L699.09,902.77 L700.08,902.69 L701.08,902.61 L702.08,902.53 L703.07,902.45 L704.07,902.37 L705.07,902.28 L706.06,902.2 L707.06,902.11 L708.05,902.02 L709.05,901.93 L710.05,901.84 L711.04,901.75 L712.04,901.66 L713.03,901.57 L714.03,901.47 L715.02,901.38 L716.02,901.28 L717.01,901.18 L718.01,901.08 L719,900.98 L720,900.88 L720.99,900.78 L721.99,900.68 L722.98,900.58 L723.98,900.48 L724.97,900.37 L725.97,900.27 L726.96,900.17 L727.96,900.07 L728.95,899.96 L729.95,899.86 L730.94,899.75 L731.94,899.65 L732.93,899.54 L733.92,899.44 L734.92,899.33 L735.91,899.23 L736.91,899.12 L737.9,899.02 L738.9,898.91 L739.89,898.8 L740.88,898.7 L741.88,898.59 L742.87,898.48 L743.87,898.37 L744.86,898.27 L745.86,898.16 L746.85,898.05 L747.84,897.94 L748.84,897.83 L749.83,897.72 L750.83,897.62 L751.82,897.51 L752.82,897.4 L753.81,897.29 L754.8,897.18 L755.8,897.07 L756.79,896.96 L757.78,896.85 L758.78,896.74 L759.77,896.63 L760.77,896.52 L761.76,896.41 L762.75,896.29 L763.75,896.18 L764.74,896.07 L765.74,895.96 L766.73,895.85 L767.72,895.74 L768.72,895.62 L769.71,895.51 L770.7,895.4 L771.7,895.29 L772.69,895.17 L773.68,895.06 L774.68,894.95 L775.67,894.84 L776.66,894.72 L777.66,894.61 L778.65,894.5 L779.65,894.38 L780.64,894.27 L781.63,894.15 L782.63,894.04 L783.62,893.92 L784.61,893.81 L785.61,893.7 L786.6,893.58 L787.59,893.47 L788.59,893.35 L789.58,893.24 L790.57,893.12 L791.57,893.01 L792.56,892.9 L793.55,892.79 L794.55,892.67 L795.54,892.56 L796.53,892.45 L797.53,892.34 L798.52,892.23 L799.52,892.11 L800.51,892 L801.5,891.89 L802.5,891.78 L803.49,891.67 L804.49,891.56 L805.48,891.46 L806.47,891.35 L807.47,891.24 L808.46,891.13 L809.46,891.02 L810.45,890.92 L811.45,890.81 L812.44,890.71 L813.43,890.6 L814.43,890.5 L815.42,890.39 L816.42,890.29 L817.41,890.18 L818.41,890.08 L819.4,889.98 L820.4,889.88 L821.39,889.78 L822.39,889.68 L823.38,889.58 L824.38,889.48 L825.37,889.38 L826.37,889.29 L827.36,889.19 L828.36,889.1 L829.35,889 L830.35,888.91 L831.35,888.81 L832.34,888.72 L833.34,888.63 L834.33,888.54 L835.33,888.45 L836.33,888.36 L837.32,888.27 L838.32,888.18 L839.31,888.09 L840.31,888.01 L841.31,887.92 L842.3,887.84 L843.3,887.75 L844.29,887.67 L845.29,887.59 L846.29,887.51 L847.29,887.43 L848.28,887.35 L849.28,887.27 L850.28,887.2 L851.27,887.12 L852.27,887.05 L853.27,886.98 L854.27,886.91 L855.26,886.84 L856.26,886.77 L857.26,886.7 L858.26,886.63 L859.25,886.57 L860.25,886.5 L861.25,886.44 L862.25,886.38 L863.25,886.31 L864.24,886.25 L865.24,886.19 L866.24,886.13 L867.24,886.07 L868.24,886.01 L869.24,885.96 L870.23,885.9 L871.23,885.84 L872.23,885.79 L873.23,885.73 L874.23,885.68 L875.23,885.63 L876.23,885.57 L877.22,885.52 L878.22,885.47 L879.22,885.42 L880.22,885.37 L881.22,885.32 L882.22,885.27 L883.22,885.22 L884.22,885.17 L885.21,885.12 L886.21,885.07 L887.21,885.03 L888.21,884.98 L889.21,884.93 L890.21,884.88 L891.21,884.84 L892.21,884.79 L893.21,884.75 L894.2,884.7 L895.2,884.65 L896.2,884.61 L897.2,884.56 L898.2,884.51 L899.2,884.47 L900.2,884.42 L901.2,884.38 L902.2,884.33 L903.19,884.28 L904.19,884.24 L905.19,884.19 L906.19,884.15 L907.19,884.1 L908.19,884.05 L909.19,884.01 L910.19,883.96 L911.19,883.91 L912.18,883.87 L913.18,883.82 L914.18,883.77 L915.18,883.73 L916.18,883.68 L917.18,883.63 L918.18,883.59 L919.18,883.54 L920.18,883.49 L921.17,883.45 L922.17,883.4 L923.17,883.36 L924.17,883.31 L925.17,883.26 L926.17,883.22 L927.17,883.17 L928.17,883.13 L929.17,883.09 L930.17,883.04 L930.94,883.01" stroke="#0000ff" stroke-dasharray="6.6 6.5" stroke-dashoffset="0"/>
</g>
<path d="M107.5,1169.8v-8.6M107.5,639.85v8.6M141.81,1169.8v-5.3M141.81,639.85v5.3M176.12,1169.8v-5.3M176.12,639.85v5.3M210.43,1169.8v-5.3M210.43,639.85v5.3M244.74,1169.8v-8.6M244.74,639.85v8.6M279.05,1169.8v-5.3M279.05,639.85v5.3M313.36,1169.8v-5.3M313.36,639.85v5.3M347.67,1169.8v-5.3M347.67,639.85v5.3M381.98,1169.8v-8.6M381.98,639.85v8.6M416.29,1169.8v-5.3M416.29,639.85v5.3M450.6,1169.8v-5.3M450.6,639.85v5.3M484.91,1169.8v-5.3M484.91,639.85v5.3M519.22,1169.8v-8.6M519.22,639.85v8.6M553.53,1169.8v-5.3M553.53,639.85v5.3M587.84,1169.8v-5.3M587.84,639.85v5.3M622.15,1169.8v-5.3M622.15,639.85v5.3M656.46,1169.8v-8.6M656.46,639.85v8.6M690.77,1169.8v-5.3M690.77,639.85v5.3M725.08,1169.8v-5.3M725.08,639.85v5.3M759.39,1169.8v-5.3M759.39,639.85v5.3M793.7,1169.8v-8.6M793.7,639.85v8.6M828.01,1169.8v-5.3M828.01,639.85v5.3M862.32,1169.8v-5.3M862.32,639.85v5.3M896.63,1169.8v-5.3M896.63,639.85v5.3M930.94,1169.8v-8.6M930.94,639.85v8.6M90.4,1149.9h8.6M947.85,1149.9h-8.6M90.4,1123.17h5.3M947.85,1123.17h-5.3M90.4,1096.45h5.3M947.85,1096.45h-5.3M90.4,1069.72h5.3M947.85,1069.72h-5.3M90.4,1043h5.3M947.85,1043h-5.3M90.4,1016.27h8.6M947.85,1016.27h-8.6M90.4,989.55h5.3M947.85,989.55h-5.3M90.4,962.82h5.3M947.85,962.82h-5.3M90.4,936.1h5.3M947.85,936.1h-5.3M90.4,909.38h5.3M947.85,909.38h-5.3M90.4,882.65h8.6M947.85,882.65h-8.6M90.4,855.92h5.3M947.85,855.92h-5.3M90.4,829.2h5.3M947.85,829.2h-5.3M90.4,802.48h5.3M947.85,802.48h-5.3M90.4,775.75h5.3M947.85,775.75h-5.3M90.4,749.02h8.6M947.85,749.02h-8.6M90.4,722.3h5.3M947.85,722.3h-5.3M90.4,695.58h5.3M947.85,695.58h-5.3M90.4,668.85h5.3M947.85,668.85h-5.3M90.4,642.12h5.3M947.85,642.12h-5.3" stroke="#2e2e2e" stroke-width="1.1" fill="none"/>
<rect x="90.4" y="639.85" width="857.45" height="529.95" fill="none" stroke="#4a4a4a" stroke-width="1.25"/>
<g font-size="25.8" font-weight="700" fill="#000">
<text transform="translate(107.5,1198.3) scale(1,1.065)" text-anchor="middle">0</text>
<text transform="translate(244.74,1198.3) scale(1,1.065)" text-anchor="middle">2</text>
<text transform="translate(381.98,1198.3) scale(1,1.065)" text-anchor="middle">4</text>
<text transform="translate(519.22,1198.3) scale(1,1.065)" text-anchor="middle">6</text>
<text transform="translate(656.46,1198.3) scale(1,1.065)" text-anchor="middle">8</text>
<text transform="translate(793.7,1198.3) scale(1,1.065)" text-anchor="middle">10</text>
<text transform="translate(930.94,1198.3) scale(1,1.065)" text-anchor="middle">12</text>
<text transform="translate(84.5,757.82) scale(1,1.065)" text-anchor="end">0.5</text>
<text transform="translate(84.5,891.45) scale(1,1.065)" text-anchor="end">0.0</text>
<text transform="translate(84.5,1025.08) scale(1,1.065)" text-anchor="end"><tspan dy="1.81">−</tspan><tspan dy="-1.81" dx="1.42">0.5</tspan></text>
<text transform="translate(84.5,1158.7) scale(1,1.065)" text-anchor="end"><tspan dy="1.81">−</tspan><tspan dy="-1.81" dx="1.42">1.0</tspan></text>
</g>
<text x="519.5" y="1238" font-size="26" font-weight="700" font-style="italic" text-anchor="middle">z</text>
<text transform="translate(17.5,904) rotate(-90)" font-size="26" font-weight="700" font-style="italic" text-anchor="middle">σ<tspan font-size="18.46" dy="5.2" font-style="normal" font-weight="400">3</tspan></text>
<g fill="none" stroke-width="3.4">
<line x1="383.8" y1="992.7" x2="448.6" y2="992.7" stroke="#ff0000"/>
<line x1="385" y1="1050.5" x2="440" y2="1050.5" stroke="#00ff00" stroke-dasharray="17.2 20.6"/>
<line x1="385" y1="1108.8" x2="444.6" y2="1108.8" stroke="#0000ff" stroke-dasharray="7.2 6.5 6.6 6.5 6.6 6.5 6.6 6.5 6.6 6.5"/>
</g>
<text transform="translate(464.7,999.1) scale(1,1.038)" font-size="29.5" font-weight="700">Without Magnetic Field <tspan font-style="italic" font-weight="400" stroke="#000" stroke-width="1.06" dx="1.18">H</tspan><tspan font-weight="400" stroke="#000" stroke-width="0.65" font-size="20.95" dx="-1.33" dy="5.9">0</tspan><tspan dy="-5.9" dx="-0.15">=0</tspan></text>
<text transform="translate(464.7,1057.1) scale(1,1.038)" font-size="29.5" font-weight="700">With Magnetic Field <tspan font-style="italic" font-weight="400" stroke="#000" stroke-width="1.06" dx="1.18">H</tspan><tspan font-weight="400" stroke="#000" stroke-width="0.65" font-size="20.95" dx="-1.33" dy="5.9">0</tspan><tspan dy="-5.9" dx="-0.15">=10</tspan><tspan font-weight="400" stroke="#000" stroke-width="0.65" font-size="20.95" dx="0.29" dy="-11.51">5</tspan></text>
<text transform="translate(464.7,1115.2) scale(1,1.038)" font-size="29.5" font-weight="700">With Magnetic Field <tspan font-style="italic" font-weight="400" stroke="#000" stroke-width="1.06" dx="1.18">H</tspan><tspan font-weight="400" stroke="#000" stroke-width="0.65" font-size="20.95" dx="-1.33" dy="5.9">0</tspan><tspan dy="-5.9" dx="-0.15">=10</tspan><tspan font-weight="400" stroke="#000" stroke-width="0.65" font-size="20.95" dx="0.29" dy="-11.51">7</tspan></text>
</g>

</svg>
</body>
</html>
